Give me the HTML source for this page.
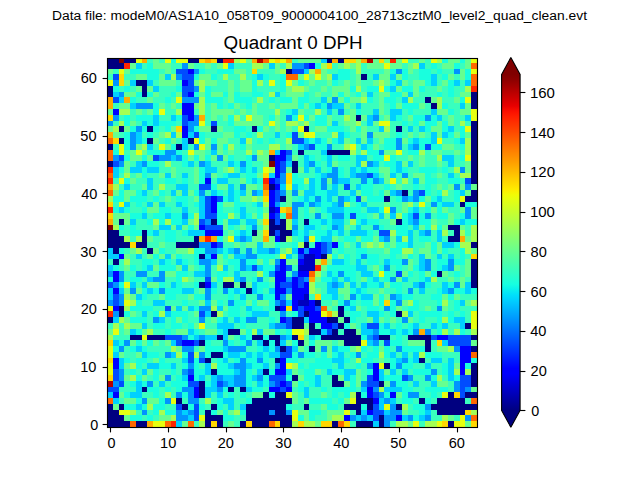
<!DOCTYPE html>
<html><head><meta charset="utf-8"><title>Quadrant 0 DPH</title>
<style>
html,body{margin:0;padding:0;background:#ffffff;width:640px;height:480px;overflow:hidden}
svg{display:block}
text{font-family:"Liberation Sans",sans-serif;fill:#000000}
</style></head><body>
<svg width="640" height="480" viewBox="0 0 640 480">
<rect x="0" y="0" width="640" height="480" fill="#ffffff"/>
<g shape-rendering="crispEdges">
<rect x="107" y="58" width="12" height="5" fill="#000080"/>
<rect x="119" y="58" width="5" height="5" fill="#800000"/>
<rect x="124" y="58" width="12" height="5" fill="#000080"/>
<rect x="136" y="58" width="6" height="5" fill="#e7ff0f"/>
<rect x="142" y="58" width="5" height="5" fill="#ffab00"/>
<rect x="147" y="58" width="6" height="5" fill="#39ffbe"/>
<rect x="153" y="58" width="6" height="5" fill="#66ff90"/>
<rect x="159" y="58" width="6" height="5" fill="#39ffbe"/>
<rect x="165" y="58" width="6" height="5" fill="#e7ff0f"/>
<rect x="171" y="58" width="5" height="5" fill="#19ffde"/>
<rect x="176" y="58" width="12" height="5" fill="#e7ff0f"/>
<rect x="188" y="58" width="11" height="5" fill="#000080"/>
<rect x="199" y="58" width="6" height="5" fill="#ffd700"/>
<rect x="205" y="58" width="6" height="5" fill="#ffab00"/>
<rect x="211" y="58" width="6" height="5" fill="#ffd700"/>
<rect x="217" y="58" width="6" height="5" fill="#000080"/>
<rect x="223" y="58" width="11" height="5" fill="#ff2500"/>
<rect x="234" y="58" width="6" height="5" fill="#a4ff53"/>
<rect x="240" y="58" width="6" height="5" fill="#e7ff0f"/>
<rect x="246" y="58" width="6" height="5" fill="#66ff90"/>
<rect x="252" y="58" width="5" height="5" fill="#ffab00"/>
<rect x="257" y="58" width="6" height="5" fill="#b60000"/>
<rect x="263" y="58" width="6" height="5" fill="#ff6800"/>
<rect x="269" y="58" width="6" height="5" fill="#e7ff0f"/>
<rect x="275" y="58" width="5" height="5" fill="#ffd700"/>
<rect x="280" y="58" width="6" height="5" fill="#e7ff0f"/>
<rect x="286" y="58" width="6" height="5" fill="#ffab00"/>
<rect x="292" y="58" width="6" height="5" fill="#39ffbe"/>
<rect x="298" y="58" width="23" height="5" fill="#66ff90"/>
<rect x="321" y="58" width="6" height="5" fill="#00d0ff"/>
<rect x="327" y="58" width="5" height="5" fill="#000080"/>
<rect x="332" y="58" width="6" height="5" fill="#ffab00"/>
<rect x="338" y="58" width="6" height="5" fill="#000080"/>
<rect x="344" y="58" width="12" height="5" fill="#ffd700"/>
<rect x="356" y="58" width="5" height="5" fill="#a4ff53"/>
<rect x="361" y="58" width="6" height="5" fill="#ffab00"/>
<rect x="367" y="58" width="6" height="5" fill="#b60000"/>
<rect x="373" y="58" width="6" height="5" fill="#66ff90"/>
<rect x="379" y="58" width="5" height="5" fill="#ffd700"/>
<rect x="384" y="58" width="6" height="5" fill="#66ff90"/>
<rect x="390" y="58" width="6" height="5" fill="#ff2500"/>
<rect x="396" y="58" width="6" height="5" fill="#66ff90"/>
<rect x="402" y="58" width="6" height="5" fill="#e7ff0f"/>
<rect x="408" y="58" width="11" height="5" fill="#39ffbe"/>
<rect x="419" y="58" width="6" height="5" fill="#66ff90"/>
<rect x="425" y="58" width="6" height="5" fill="#39ffbe"/>
<rect x="431" y="58" width="6" height="5" fill="#e7ff0f"/>
<rect x="437" y="58" width="5" height="5" fill="#a4ff53"/>
<rect x="442" y="58" width="6" height="5" fill="#19ffde"/>
<rect x="448" y="58" width="12" height="5" fill="#66ff90"/>
<rect x="460" y="58" width="5" height="5" fill="#19ffde"/>
<rect x="465" y="58" width="6" height="5" fill="#66ff90"/>
<rect x="471" y="58" width="6" height="5" fill="#e7ff0f"/>
<rect x="107" y="63" width="17" height="6" fill="#000080"/>
<rect x="124" y="63" width="6" height="6" fill="#ff2500"/>
<rect x="130" y="63" width="6" height="6" fill="#66ff90"/>
<rect x="136" y="63" width="6" height="6" fill="#00d0ff"/>
<rect x="142" y="63" width="5" height="6" fill="#39ffbe"/>
<rect x="147" y="63" width="6" height="6" fill="#19ffde"/>
<rect x="153" y="63" width="18" height="6" fill="#66ff90"/>
<rect x="171" y="63" width="11" height="6" fill="#39ffbe"/>
<rect x="182" y="63" width="6" height="6" fill="#0094ff"/>
<rect x="188" y="63" width="6" height="6" fill="#66ff90"/>
<rect x="194" y="63" width="11" height="6" fill="#39ffbe"/>
<rect x="205" y="63" width="6" height="6" fill="#66ff90"/>
<rect x="211" y="63" width="6" height="6" fill="#39ffbe"/>
<rect x="217" y="63" width="6" height="6" fill="#66ff90"/>
<rect x="223" y="63" width="5" height="6" fill="#e7ff0f"/>
<rect x="228" y="63" width="6" height="6" fill="#00d0ff"/>
<rect x="234" y="63" width="18" height="6" fill="#39ffbe"/>
<rect x="252" y="63" width="11" height="6" fill="#a4ff53"/>
<rect x="263" y="63" width="6" height="6" fill="#66ff90"/>
<rect x="269" y="63" width="6" height="6" fill="#00d0ff"/>
<rect x="275" y="63" width="5" height="6" fill="#66ff90"/>
<rect x="280" y="63" width="6" height="6" fill="#39ffbe"/>
<rect x="286" y="63" width="6" height="6" fill="#a4ff53"/>
<rect x="292" y="63" width="12" height="6" fill="#0094ff"/>
<rect x="304" y="63" width="5" height="6" fill="#004cff"/>
<rect x="309" y="63" width="6" height="6" fill="#0000ff"/>
<rect x="315" y="63" width="6" height="6" fill="#19ffde"/>
<rect x="321" y="63" width="6" height="6" fill="#a4ff53"/>
<rect x="327" y="63" width="5" height="6" fill="#ffd700"/>
<rect x="332" y="63" width="6" height="6" fill="#39ffbe"/>
<rect x="338" y="63" width="6" height="6" fill="#66ff90"/>
<rect x="344" y="63" width="6" height="6" fill="#a4ff53"/>
<rect x="350" y="63" width="6" height="6" fill="#66ff90"/>
<rect x="356" y="63" width="5" height="6" fill="#a4ff53"/>
<rect x="361" y="63" width="6" height="6" fill="#39ffbe"/>
<rect x="367" y="63" width="17" height="6" fill="#66ff90"/>
<rect x="384" y="63" width="6" height="6" fill="#e7ff0f"/>
<rect x="390" y="63" width="12" height="6" fill="#66ff90"/>
<rect x="402" y="63" width="6" height="6" fill="#39ffbe"/>
<rect x="408" y="63" width="5" height="6" fill="#66ff90"/>
<rect x="413" y="63" width="6" height="6" fill="#a4ff53"/>
<rect x="419" y="63" width="6" height="6" fill="#00d0ff"/>
<rect x="425" y="63" width="6" height="6" fill="#39ffbe"/>
<rect x="431" y="63" width="6" height="6" fill="#19ffde"/>
<rect x="437" y="63" width="5" height="6" fill="#39ffbe"/>
<rect x="442" y="63" width="12" height="6" fill="#66ff90"/>
<rect x="454" y="63" width="6" height="6" fill="#19ffde"/>
<rect x="460" y="63" width="5" height="6" fill="#39ffbe"/>
<rect x="465" y="63" width="6" height="6" fill="#66ff90"/>
<rect x="471" y="63" width="6" height="6" fill="#ff6800"/>
<rect x="107" y="69" width="6" height="5" fill="#66ff90"/>
<rect x="113" y="69" width="6" height="5" fill="#39ffbe"/>
<rect x="119" y="69" width="5" height="5" fill="#e7ff0f"/>
<rect x="124" y="69" width="6" height="5" fill="#66ff90"/>
<rect x="130" y="69" width="29" height="5" fill="#19ffde"/>
<rect x="159" y="69" width="6" height="5" fill="#39ffbe"/>
<rect x="165" y="69" width="6" height="5" fill="#66ff90"/>
<rect x="171" y="69" width="5" height="5" fill="#39ffbe"/>
<rect x="176" y="69" width="12" height="5" fill="#004cff"/>
<rect x="188" y="69" width="6" height="5" fill="#0000ff"/>
<rect x="194" y="69" width="5" height="5" fill="#0094ff"/>
<rect x="199" y="69" width="6" height="5" fill="#19ffde"/>
<rect x="205" y="69" width="12" height="5" fill="#39ffbe"/>
<rect x="217" y="69" width="17" height="5" fill="#19ffde"/>
<rect x="234" y="69" width="12" height="5" fill="#66ff90"/>
<rect x="246" y="69" width="6" height="5" fill="#39ffbe"/>
<rect x="252" y="69" width="5" height="5" fill="#ffd700"/>
<rect x="257" y="69" width="18" height="5" fill="#39ffbe"/>
<rect x="275" y="69" width="5" height="5" fill="#66ff90"/>
<rect x="280" y="69" width="6" height="5" fill="#a4ff53"/>
<rect x="286" y="69" width="6" height="5" fill="#000080"/>
<rect x="292" y="69" width="12" height="5" fill="#004cff"/>
<rect x="304" y="69" width="5" height="5" fill="#00d0ff"/>
<rect x="309" y="69" width="6" height="5" fill="#a4ff53"/>
<rect x="315" y="69" width="6" height="5" fill="#ffab00"/>
<rect x="321" y="69" width="6" height="5" fill="#66ff90"/>
<rect x="327" y="69" width="11" height="5" fill="#39ffbe"/>
<rect x="338" y="69" width="12" height="5" fill="#19ffde"/>
<rect x="350" y="69" width="6" height="5" fill="#39ffbe"/>
<rect x="356" y="69" width="5" height="5" fill="#a4ff53"/>
<rect x="361" y="69" width="23" height="5" fill="#39ffbe"/>
<rect x="384" y="69" width="6" height="5" fill="#66ff90"/>
<rect x="390" y="69" width="6" height="5" fill="#19ffde"/>
<rect x="396" y="69" width="6" height="5" fill="#0094ff"/>
<rect x="402" y="69" width="6" height="5" fill="#19ffde"/>
<rect x="408" y="69" width="5" height="5" fill="#66ff90"/>
<rect x="413" y="69" width="6" height="5" fill="#39ffbe"/>
<rect x="419" y="69" width="12" height="5" fill="#19ffde"/>
<rect x="431" y="69" width="6" height="5" fill="#39ffbe"/>
<rect x="437" y="69" width="5" height="5" fill="#19ffde"/>
<rect x="442" y="69" width="12" height="5" fill="#39ffbe"/>
<rect x="454" y="69" width="6" height="5" fill="#0094ff"/>
<rect x="460" y="69" width="5" height="5" fill="#66ff90"/>
<rect x="465" y="69" width="6" height="5" fill="#19ffde"/>
<rect x="471" y="69" width="6" height="5" fill="#e7ff0f"/>
<rect x="107" y="74" width="6" height="6" fill="#39ffbe"/>
<rect x="113" y="74" width="6" height="6" fill="#004cff"/>
<rect x="119" y="74" width="5" height="6" fill="#ffd700"/>
<rect x="124" y="74" width="12" height="6" fill="#39ffbe"/>
<rect x="136" y="74" width="11" height="6" fill="#66ff90"/>
<rect x="147" y="74" width="12" height="6" fill="#19ffde"/>
<rect x="159" y="74" width="6" height="6" fill="#66ff90"/>
<rect x="165" y="74" width="6" height="6" fill="#00d0ff"/>
<rect x="171" y="74" width="5" height="6" fill="#a4ff53"/>
<rect x="176" y="74" width="6" height="6" fill="#0094ff"/>
<rect x="182" y="74" width="12" height="6" fill="#004cff"/>
<rect x="194" y="74" width="5" height="6" fill="#19ffde"/>
<rect x="199" y="74" width="12" height="6" fill="#66ff90"/>
<rect x="211" y="74" width="6" height="6" fill="#19ffde"/>
<rect x="217" y="74" width="6" height="6" fill="#39ffbe"/>
<rect x="223" y="74" width="5" height="6" fill="#a4ff53"/>
<rect x="228" y="74" width="12" height="6" fill="#39ffbe"/>
<rect x="240" y="74" width="6" height="6" fill="#a4ff53"/>
<rect x="246" y="74" width="6" height="6" fill="#39ffbe"/>
<rect x="252" y="74" width="5" height="6" fill="#19ffde"/>
<rect x="257" y="74" width="6" height="6" fill="#00d0ff"/>
<rect x="263" y="74" width="6" height="6" fill="#19ffde"/>
<rect x="269" y="74" width="11" height="6" fill="#39ffbe"/>
<rect x="280" y="74" width="6" height="6" fill="#19ffde"/>
<rect x="286" y="74" width="12" height="6" fill="#ff6800"/>
<rect x="298" y="74" width="6" height="6" fill="#66ff90"/>
<rect x="304" y="74" width="5" height="6" fill="#e7ff0f"/>
<rect x="309" y="74" width="6" height="6" fill="#66ff90"/>
<rect x="315" y="74" width="6" height="6" fill="#e7ff0f"/>
<rect x="321" y="74" width="6" height="6" fill="#66ff90"/>
<rect x="327" y="74" width="5" height="6" fill="#a4ff53"/>
<rect x="332" y="74" width="6" height="6" fill="#00d0ff"/>
<rect x="338" y="74" width="12" height="6" fill="#19ffde"/>
<rect x="350" y="74" width="6" height="6" fill="#39ffbe"/>
<rect x="356" y="74" width="5" height="6" fill="#66ff90"/>
<rect x="361" y="74" width="6" height="6" fill="#000080"/>
<rect x="367" y="74" width="6" height="6" fill="#39ffbe"/>
<rect x="373" y="74" width="6" height="6" fill="#00d0ff"/>
<rect x="379" y="74" width="11" height="6" fill="#66ff90"/>
<rect x="390" y="74" width="6" height="6" fill="#00d0ff"/>
<rect x="396" y="74" width="6" height="6" fill="#66ff90"/>
<rect x="402" y="74" width="6" height="6" fill="#19ffde"/>
<rect x="408" y="74" width="11" height="6" fill="#39ffbe"/>
<rect x="419" y="74" width="12" height="6" fill="#19ffde"/>
<rect x="431" y="74" width="6" height="6" fill="#00d0ff"/>
<rect x="437" y="74" width="5" height="6" fill="#39ffbe"/>
<rect x="442" y="74" width="6" height="6" fill="#19ffde"/>
<rect x="448" y="74" width="6" height="6" fill="#66ff90"/>
<rect x="454" y="74" width="6" height="6" fill="#39ffbe"/>
<rect x="460" y="74" width="5" height="6" fill="#66ff90"/>
<rect x="465" y="74" width="6" height="6" fill="#19ffde"/>
<rect x="471" y="74" width="6" height="6" fill="#ff6800"/>
<rect x="107" y="80" width="6" height="6" fill="#e7ff0f"/>
<rect x="113" y="80" width="6" height="6" fill="#0094ff"/>
<rect x="119" y="80" width="5" height="6" fill="#ffd700"/>
<rect x="124" y="80" width="6" height="6" fill="#66ff90"/>
<rect x="130" y="80" width="6" height="6" fill="#00d0ff"/>
<rect x="136" y="80" width="11" height="6" fill="#000080"/>
<rect x="147" y="80" width="6" height="6" fill="#00d0ff"/>
<rect x="153" y="80" width="6" height="6" fill="#39ffbe"/>
<rect x="159" y="80" width="17" height="6" fill="#66ff90"/>
<rect x="176" y="80" width="6" height="6" fill="#39ffbe"/>
<rect x="182" y="80" width="6" height="6" fill="#0000ff"/>
<rect x="188" y="80" width="6" height="6" fill="#004cff"/>
<rect x="194" y="80" width="5" height="6" fill="#66ff90"/>
<rect x="199" y="80" width="6" height="6" fill="#a4ff53"/>
<rect x="205" y="80" width="12" height="6" fill="#66ff90"/>
<rect x="217" y="80" width="11" height="6" fill="#39ffbe"/>
<rect x="228" y="80" width="6" height="6" fill="#66ff90"/>
<rect x="234" y="80" width="6" height="6" fill="#39ffbe"/>
<rect x="240" y="80" width="12" height="6" fill="#66ff90"/>
<rect x="252" y="80" width="5" height="6" fill="#19ffde"/>
<rect x="257" y="80" width="6" height="6" fill="#a4ff53"/>
<rect x="263" y="80" width="6" height="6" fill="#39ffbe"/>
<rect x="269" y="80" width="6" height="6" fill="#e7ff0f"/>
<rect x="275" y="80" width="5" height="6" fill="#39ffbe"/>
<rect x="280" y="80" width="6" height="6" fill="#19ffde"/>
<rect x="286" y="80" width="6" height="6" fill="#e7ff0f"/>
<rect x="292" y="80" width="6" height="6" fill="#66ff90"/>
<rect x="298" y="80" width="6" height="6" fill="#19ffde"/>
<rect x="304" y="80" width="5" height="6" fill="#39ffbe"/>
<rect x="309" y="80" width="6" height="6" fill="#66ff90"/>
<rect x="315" y="80" width="12" height="6" fill="#39ffbe"/>
<rect x="327" y="80" width="5" height="6" fill="#66ff90"/>
<rect x="332" y="80" width="6" height="6" fill="#19ffde"/>
<rect x="338" y="80" width="6" height="6" fill="#39ffbe"/>
<rect x="344" y="80" width="6" height="6" fill="#66ff90"/>
<rect x="350" y="80" width="6" height="6" fill="#39ffbe"/>
<rect x="356" y="80" width="5" height="6" fill="#66ff90"/>
<rect x="361" y="80" width="12" height="6" fill="#39ffbe"/>
<rect x="373" y="80" width="6" height="6" fill="#66ff90"/>
<rect x="379" y="80" width="5" height="6" fill="#a4ff53"/>
<rect x="384" y="80" width="6" height="6" fill="#66ff90"/>
<rect x="390" y="80" width="6" height="6" fill="#19ffde"/>
<rect x="396" y="80" width="6" height="6" fill="#00d0ff"/>
<rect x="402" y="80" width="6" height="6" fill="#66ff90"/>
<rect x="408" y="80" width="5" height="6" fill="#39ffbe"/>
<rect x="413" y="80" width="12" height="6" fill="#66ff90"/>
<rect x="425" y="80" width="6" height="6" fill="#19ffde"/>
<rect x="431" y="80" width="6" height="6" fill="#00d0ff"/>
<rect x="437" y="80" width="5" height="6" fill="#39ffbe"/>
<rect x="442" y="80" width="6" height="6" fill="#66ff90"/>
<rect x="448" y="80" width="6" height="6" fill="#19ffde"/>
<rect x="454" y="80" width="6" height="6" fill="#00d0ff"/>
<rect x="460" y="80" width="5" height="6" fill="#39ffbe"/>
<rect x="465" y="80" width="6" height="6" fill="#00d0ff"/>
<rect x="471" y="80" width="6" height="6" fill="#ff6800"/>
<rect x="107" y="86" width="6" height="6" fill="#000080"/>
<rect x="113" y="86" width="6" height="6" fill="#19ffde"/>
<rect x="119" y="86" width="5" height="6" fill="#39ffbe"/>
<rect x="124" y="86" width="6" height="6" fill="#19ffde"/>
<rect x="130" y="86" width="6" height="6" fill="#39ffbe"/>
<rect x="136" y="86" width="6" height="6" fill="#66ff90"/>
<rect x="142" y="86" width="5" height="6" fill="#000080"/>
<rect x="147" y="86" width="6" height="6" fill="#66ff90"/>
<rect x="153" y="86" width="6" height="6" fill="#00d0ff"/>
<rect x="159" y="86" width="17" height="6" fill="#39ffbe"/>
<rect x="176" y="86" width="6" height="6" fill="#19ffde"/>
<rect x="182" y="86" width="12" height="6" fill="#004cff"/>
<rect x="194" y="86" width="5" height="6" fill="#0094ff"/>
<rect x="199" y="86" width="6" height="6" fill="#a4ff53"/>
<rect x="205" y="86" width="6" height="6" fill="#19ffde"/>
<rect x="211" y="86" width="17" height="6" fill="#39ffbe"/>
<rect x="228" y="86" width="6" height="6" fill="#66ff90"/>
<rect x="234" y="86" width="6" height="6" fill="#39ffbe"/>
<rect x="240" y="86" width="12" height="6" fill="#66ff90"/>
<rect x="252" y="86" width="5" height="6" fill="#19ffde"/>
<rect x="257" y="86" width="23" height="6" fill="#39ffbe"/>
<rect x="280" y="86" width="6" height="6" fill="#19ffde"/>
<rect x="286" y="86" width="6" height="6" fill="#66ff90"/>
<rect x="292" y="86" width="12" height="6" fill="#a4ff53"/>
<rect x="304" y="86" width="5" height="6" fill="#66ff90"/>
<rect x="309" y="86" width="12" height="6" fill="#39ffbe"/>
<rect x="321" y="86" width="6" height="6" fill="#66ff90"/>
<rect x="327" y="86" width="5" height="6" fill="#39ffbe"/>
<rect x="332" y="86" width="18" height="6" fill="#66ff90"/>
<rect x="350" y="86" width="6" height="6" fill="#19ffde"/>
<rect x="356" y="86" width="5" height="6" fill="#a4ff53"/>
<rect x="361" y="86" width="6" height="6" fill="#39ffbe"/>
<rect x="367" y="86" width="12" height="6" fill="#19ffde"/>
<rect x="379" y="86" width="5" height="6" fill="#e7ff0f"/>
<rect x="384" y="86" width="6" height="6" fill="#19ffde"/>
<rect x="390" y="86" width="6" height="6" fill="#00d0ff"/>
<rect x="396" y="86" width="6" height="6" fill="#66ff90"/>
<rect x="402" y="86" width="11" height="6" fill="#19ffde"/>
<rect x="413" y="86" width="6" height="6" fill="#66ff90"/>
<rect x="419" y="86" width="6" height="6" fill="#19ffde"/>
<rect x="425" y="86" width="12" height="6" fill="#39ffbe"/>
<rect x="437" y="86" width="5" height="6" fill="#66ff90"/>
<rect x="442" y="86" width="6" height="6" fill="#39ffbe"/>
<rect x="448" y="86" width="6" height="6" fill="#19ffde"/>
<rect x="454" y="86" width="11" height="6" fill="#39ffbe"/>
<rect x="465" y="86" width="6" height="6" fill="#a4ff53"/>
<rect x="471" y="86" width="6" height="6" fill="#ff2500"/>
<rect x="107" y="92" width="6" height="5" fill="#000080"/>
<rect x="113" y="92" width="6" height="5" fill="#00d0ff"/>
<rect x="119" y="92" width="5" height="5" fill="#0094ff"/>
<rect x="124" y="92" width="12" height="5" fill="#66ff90"/>
<rect x="136" y="92" width="6" height="5" fill="#19ffde"/>
<rect x="142" y="92" width="5" height="5" fill="#000080"/>
<rect x="147" y="92" width="6" height="5" fill="#19ffde"/>
<rect x="153" y="92" width="6" height="5" fill="#66ff90"/>
<rect x="159" y="92" width="12" height="5" fill="#39ffbe"/>
<rect x="171" y="92" width="5" height="5" fill="#19ffde"/>
<rect x="176" y="92" width="6" height="5" fill="#66ff90"/>
<rect x="182" y="92" width="6" height="5" fill="#004cff"/>
<rect x="188" y="92" width="6" height="5" fill="#0000ff"/>
<rect x="194" y="92" width="5" height="5" fill="#19ffde"/>
<rect x="199" y="92" width="6" height="5" fill="#66ff90"/>
<rect x="205" y="92" width="6" height="5" fill="#19ffde"/>
<rect x="211" y="92" width="12" height="5" fill="#66ff90"/>
<rect x="223" y="92" width="5" height="5" fill="#19ffde"/>
<rect x="228" y="92" width="6" height="5" fill="#66ff90"/>
<rect x="234" y="92" width="6" height="5" fill="#19ffde"/>
<rect x="240" y="92" width="12" height="5" fill="#39ffbe"/>
<rect x="252" y="92" width="11" height="5" fill="#19ffde"/>
<rect x="263" y="92" width="6" height="5" fill="#39ffbe"/>
<rect x="269" y="92" width="6" height="5" fill="#a4ff53"/>
<rect x="275" y="92" width="5" height="5" fill="#00d0ff"/>
<rect x="280" y="92" width="6" height="5" fill="#39ffbe"/>
<rect x="286" y="92" width="18" height="5" fill="#66ff90"/>
<rect x="304" y="92" width="5" height="5" fill="#19ffde"/>
<rect x="309" y="92" width="6" height="5" fill="#39ffbe"/>
<rect x="315" y="92" width="6" height="5" fill="#66ff90"/>
<rect x="321" y="92" width="11" height="5" fill="#39ffbe"/>
<rect x="332" y="92" width="6" height="5" fill="#66ff90"/>
<rect x="338" y="92" width="6" height="5" fill="#19ffde"/>
<rect x="344" y="92" width="6" height="5" fill="#66ff90"/>
<rect x="350" y="92" width="6" height="5" fill="#39ffbe"/>
<rect x="356" y="92" width="5" height="5" fill="#19ffde"/>
<rect x="361" y="92" width="6" height="5" fill="#66ff90"/>
<rect x="367" y="92" width="6" height="5" fill="#00d0ff"/>
<rect x="373" y="92" width="6" height="5" fill="#39ffbe"/>
<rect x="379" y="92" width="11" height="5" fill="#66ff90"/>
<rect x="390" y="92" width="12" height="5" fill="#19ffde"/>
<rect x="402" y="92" width="6" height="5" fill="#66ff90"/>
<rect x="408" y="92" width="5" height="5" fill="#00d0ff"/>
<rect x="413" y="92" width="6" height="5" fill="#66ff90"/>
<rect x="419" y="92" width="18" height="5" fill="#39ffbe"/>
<rect x="437" y="92" width="5" height="5" fill="#19ffde"/>
<rect x="442" y="92" width="6" height="5" fill="#39ffbe"/>
<rect x="448" y="92" width="6" height="5" fill="#19ffde"/>
<rect x="454" y="92" width="6" height="5" fill="#39ffbe"/>
<rect x="460" y="92" width="11" height="5" fill="#66ff90"/>
<rect x="471" y="92" width="6" height="5" fill="#000080"/>
<rect x="107" y="97" width="6" height="6" fill="#ffab00"/>
<rect x="113" y="97" width="6" height="6" fill="#004cff"/>
<rect x="119" y="97" width="5" height="6" fill="#00d0ff"/>
<rect x="124" y="97" width="6" height="6" fill="#ffab00"/>
<rect x="130" y="97" width="6" height="6" fill="#19ffde"/>
<rect x="136" y="97" width="11" height="6" fill="#39ffbe"/>
<rect x="147" y="97" width="6" height="6" fill="#66ff90"/>
<rect x="153" y="97" width="12" height="6" fill="#39ffbe"/>
<rect x="165" y="97" width="6" height="6" fill="#19ffde"/>
<rect x="171" y="97" width="5" height="6" fill="#39ffbe"/>
<rect x="176" y="97" width="6" height="6" fill="#e7ff0f"/>
<rect x="182" y="97" width="17" height="6" fill="#0094ff"/>
<rect x="199" y="97" width="6" height="6" fill="#a4ff53"/>
<rect x="205" y="97" width="18" height="6" fill="#19ffde"/>
<rect x="223" y="97" width="5" height="6" fill="#39ffbe"/>
<rect x="228" y="97" width="6" height="6" fill="#66ff90"/>
<rect x="234" y="97" width="18" height="6" fill="#19ffde"/>
<rect x="252" y="97" width="5" height="6" fill="#39ffbe"/>
<rect x="257" y="97" width="6" height="6" fill="#a4ff53"/>
<rect x="263" y="97" width="6" height="6" fill="#39ffbe"/>
<rect x="269" y="97" width="6" height="6" fill="#19ffde"/>
<rect x="275" y="97" width="5" height="6" fill="#39ffbe"/>
<rect x="280" y="97" width="12" height="6" fill="#19ffde"/>
<rect x="292" y="97" width="6" height="6" fill="#66ff90"/>
<rect x="298" y="97" width="11" height="6" fill="#19ffde"/>
<rect x="309" y="97" width="12" height="6" fill="#39ffbe"/>
<rect x="321" y="97" width="6" height="6" fill="#00d0ff"/>
<rect x="327" y="97" width="5" height="6" fill="#66ff90"/>
<rect x="332" y="97" width="6" height="6" fill="#0094ff"/>
<rect x="338" y="97" width="6" height="6" fill="#66ff90"/>
<rect x="344" y="97" width="6" height="6" fill="#19ffde"/>
<rect x="350" y="97" width="11" height="6" fill="#66ff90"/>
<rect x="361" y="97" width="6" height="6" fill="#a4ff53"/>
<rect x="367" y="97" width="6" height="6" fill="#19ffde"/>
<rect x="373" y="97" width="6" height="6" fill="#39ffbe"/>
<rect x="379" y="97" width="5" height="6" fill="#66ff90"/>
<rect x="384" y="97" width="12" height="6" fill="#19ffde"/>
<rect x="396" y="97" width="6" height="6" fill="#39ffbe"/>
<rect x="402" y="97" width="6" height="6" fill="#00d0ff"/>
<rect x="408" y="97" width="5" height="6" fill="#a4ff53"/>
<rect x="413" y="97" width="12" height="6" fill="#39ffbe"/>
<rect x="425" y="97" width="6" height="6" fill="#000080"/>
<rect x="431" y="97" width="6" height="6" fill="#66ff90"/>
<rect x="437" y="97" width="5" height="6" fill="#a4ff53"/>
<rect x="442" y="97" width="12" height="6" fill="#39ffbe"/>
<rect x="454" y="97" width="6" height="6" fill="#66ff90"/>
<rect x="460" y="97" width="5" height="6" fill="#19ffde"/>
<rect x="465" y="97" width="6" height="6" fill="#e7ff0f"/>
<rect x="471" y="97" width="6" height="6" fill="#000080"/>
<rect x="107" y="103" width="6" height="6" fill="#ffab00"/>
<rect x="113" y="103" width="6" height="6" fill="#39ffbe"/>
<rect x="119" y="103" width="11" height="6" fill="#66ff90"/>
<rect x="130" y="103" width="6" height="6" fill="#00d0ff"/>
<rect x="136" y="103" width="17" height="6" fill="#0094ff"/>
<rect x="153" y="103" width="6" height="6" fill="#19ffde"/>
<rect x="159" y="103" width="6" height="6" fill="#66ff90"/>
<rect x="165" y="103" width="6" height="6" fill="#39ffbe"/>
<rect x="171" y="103" width="5" height="6" fill="#66ff90"/>
<rect x="176" y="103" width="6" height="6" fill="#39ffbe"/>
<rect x="182" y="103" width="12" height="6" fill="#0000ff"/>
<rect x="194" y="103" width="5" height="6" fill="#66ff90"/>
<rect x="199" y="103" width="6" height="6" fill="#a4ff53"/>
<rect x="205" y="103" width="6" height="6" fill="#39ffbe"/>
<rect x="211" y="103" width="6" height="6" fill="#66ff90"/>
<rect x="217" y="103" width="6" height="6" fill="#19ffde"/>
<rect x="223" y="103" width="5" height="6" fill="#39ffbe"/>
<rect x="228" y="103" width="6" height="6" fill="#19ffde"/>
<rect x="234" y="103" width="6" height="6" fill="#66ff90"/>
<rect x="240" y="103" width="6" height="6" fill="#39ffbe"/>
<rect x="246" y="103" width="6" height="6" fill="#19ffde"/>
<rect x="252" y="103" width="5" height="6" fill="#66ff90"/>
<rect x="257" y="103" width="12" height="6" fill="#39ffbe"/>
<rect x="269" y="103" width="6" height="6" fill="#66ff90"/>
<rect x="275" y="103" width="5" height="6" fill="#39ffbe"/>
<rect x="280" y="103" width="18" height="6" fill="#66ff90"/>
<rect x="298" y="103" width="6" height="6" fill="#19ffde"/>
<rect x="304" y="103" width="5" height="6" fill="#66ff90"/>
<rect x="309" y="103" width="6" height="6" fill="#19ffde"/>
<rect x="315" y="103" width="6" height="6" fill="#00d0ff"/>
<rect x="321" y="103" width="6" height="6" fill="#19ffde"/>
<rect x="327" y="103" width="5" height="6" fill="#0094ff"/>
<rect x="332" y="103" width="12" height="6" fill="#00d0ff"/>
<rect x="344" y="103" width="6" height="6" fill="#66ff90"/>
<rect x="350" y="103" width="6" height="6" fill="#39ffbe"/>
<rect x="356" y="103" width="5" height="6" fill="#00d0ff"/>
<rect x="361" y="103" width="18" height="6" fill="#39ffbe"/>
<rect x="379" y="103" width="5" height="6" fill="#66ff90"/>
<rect x="384" y="103" width="6" height="6" fill="#39ffbe"/>
<rect x="390" y="103" width="6" height="6" fill="#19ffde"/>
<rect x="396" y="103" width="6" height="6" fill="#66ff90"/>
<rect x="402" y="103" width="17" height="6" fill="#19ffde"/>
<rect x="419" y="103" width="6" height="6" fill="#66ff90"/>
<rect x="425" y="103" width="6" height="6" fill="#39ffbe"/>
<rect x="431" y="103" width="6" height="6" fill="#000080"/>
<rect x="437" y="103" width="5" height="6" fill="#a4ff53"/>
<rect x="442" y="103" width="6" height="6" fill="#19ffde"/>
<rect x="448" y="103" width="12" height="6" fill="#39ffbe"/>
<rect x="460" y="103" width="5" height="6" fill="#00d0ff"/>
<rect x="465" y="103" width="6" height="6" fill="#66ff90"/>
<rect x="471" y="103" width="6" height="6" fill="#000080"/>
<rect x="107" y="109" width="6" height="6" fill="#66ff90"/>
<rect x="113" y="109" width="6" height="6" fill="#0000ff"/>
<rect x="119" y="109" width="11" height="6" fill="#a4ff53"/>
<rect x="130" y="109" width="6" height="6" fill="#39ffbe"/>
<rect x="136" y="109" width="6" height="6" fill="#66ff90"/>
<rect x="142" y="109" width="5" height="6" fill="#39ffbe"/>
<rect x="147" y="109" width="6" height="6" fill="#66ff90"/>
<rect x="153" y="109" width="6" height="6" fill="#19ffde"/>
<rect x="159" y="109" width="6" height="6" fill="#e7ff0f"/>
<rect x="165" y="109" width="11" height="6" fill="#39ffbe"/>
<rect x="176" y="109" width="6" height="6" fill="#a4ff53"/>
<rect x="182" y="109" width="12" height="6" fill="#0000ff"/>
<rect x="194" y="109" width="5" height="6" fill="#39ffbe"/>
<rect x="199" y="109" width="6" height="6" fill="#a4ff53"/>
<rect x="205" y="109" width="6" height="6" fill="#39ffbe"/>
<rect x="211" y="109" width="23" height="6" fill="#66ff90"/>
<rect x="234" y="109" width="6" height="6" fill="#39ffbe"/>
<rect x="240" y="109" width="6" height="6" fill="#66ff90"/>
<rect x="246" y="109" width="6" height="6" fill="#39ffbe"/>
<rect x="252" y="109" width="5" height="6" fill="#66ff90"/>
<rect x="257" y="109" width="18" height="6" fill="#39ffbe"/>
<rect x="275" y="109" width="5" height="6" fill="#a4ff53"/>
<rect x="280" y="109" width="6" height="6" fill="#39ffbe"/>
<rect x="286" y="109" width="6" height="6" fill="#19ffde"/>
<rect x="292" y="109" width="6" height="6" fill="#00d0ff"/>
<rect x="298" y="109" width="6" height="6" fill="#66ff90"/>
<rect x="304" y="109" width="11" height="6" fill="#39ffbe"/>
<rect x="315" y="109" width="6" height="6" fill="#a4ff53"/>
<rect x="321" y="109" width="6" height="6" fill="#39ffbe"/>
<rect x="327" y="109" width="5" height="6" fill="#00d0ff"/>
<rect x="332" y="109" width="6" height="6" fill="#39ffbe"/>
<rect x="338" y="109" width="6" height="6" fill="#0094ff"/>
<rect x="344" y="109" width="6" height="6" fill="#39ffbe"/>
<rect x="350" y="109" width="6" height="6" fill="#66ff90"/>
<rect x="356" y="109" width="5" height="6" fill="#19ffde"/>
<rect x="361" y="109" width="12" height="6" fill="#39ffbe"/>
<rect x="373" y="109" width="6" height="6" fill="#00d0ff"/>
<rect x="379" y="109" width="5" height="6" fill="#66ff90"/>
<rect x="384" y="109" width="6" height="6" fill="#39ffbe"/>
<rect x="390" y="109" width="12" height="6" fill="#00d0ff"/>
<rect x="402" y="109" width="6" height="6" fill="#39ffbe"/>
<rect x="408" y="109" width="5" height="6" fill="#19ffde"/>
<rect x="413" y="109" width="18" height="6" fill="#39ffbe"/>
<rect x="431" y="109" width="6" height="6" fill="#00d0ff"/>
<rect x="437" y="109" width="11" height="6" fill="#66ff90"/>
<rect x="448" y="109" width="6" height="6" fill="#19ffde"/>
<rect x="454" y="109" width="6" height="6" fill="#39ffbe"/>
<rect x="460" y="109" width="11" height="6" fill="#66ff90"/>
<rect x="471" y="109" width="6" height="6" fill="#e7ff0f"/>
<rect x="107" y="115" width="6" height="6" fill="#ffd700"/>
<rect x="113" y="115" width="6" height="6" fill="#0094ff"/>
<rect x="119" y="115" width="5" height="6" fill="#39ffbe"/>
<rect x="124" y="115" width="6" height="6" fill="#19ffde"/>
<rect x="130" y="115" width="6" height="6" fill="#39ffbe"/>
<rect x="136" y="115" width="17" height="6" fill="#19ffde"/>
<rect x="153" y="115" width="6" height="6" fill="#00d0ff"/>
<rect x="159" y="115" width="12" height="6" fill="#39ffbe"/>
<rect x="171" y="115" width="5" height="6" fill="#00d0ff"/>
<rect x="176" y="115" width="6" height="6" fill="#19ffde"/>
<rect x="182" y="115" width="6" height="6" fill="#004cff"/>
<rect x="188" y="115" width="6" height="6" fill="#0000ff"/>
<rect x="194" y="115" width="5" height="6" fill="#0094ff"/>
<rect x="199" y="115" width="6" height="6" fill="#ffab00"/>
<rect x="205" y="115" width="6" height="6" fill="#39ffbe"/>
<rect x="211" y="115" width="6" height="6" fill="#66ff90"/>
<rect x="217" y="115" width="6" height="6" fill="#39ffbe"/>
<rect x="223" y="115" width="5" height="6" fill="#66ff90"/>
<rect x="228" y="115" width="6" height="6" fill="#19ffde"/>
<rect x="234" y="115" width="6" height="6" fill="#a4ff53"/>
<rect x="240" y="115" width="6" height="6" fill="#39ffbe"/>
<rect x="246" y="115" width="6" height="6" fill="#e7ff0f"/>
<rect x="252" y="115" width="11" height="6" fill="#66ff90"/>
<rect x="263" y="115" width="6" height="6" fill="#39ffbe"/>
<rect x="269" y="115" width="6" height="6" fill="#19ffde"/>
<rect x="275" y="115" width="5" height="6" fill="#66ff90"/>
<rect x="280" y="115" width="6" height="6" fill="#39ffbe"/>
<rect x="286" y="115" width="6" height="6" fill="#0094ff"/>
<rect x="292" y="115" width="6" height="6" fill="#19ffde"/>
<rect x="298" y="115" width="6" height="6" fill="#e7ff0f"/>
<rect x="304" y="115" width="5" height="6" fill="#19ffde"/>
<rect x="309" y="115" width="6" height="6" fill="#66ff90"/>
<rect x="315" y="115" width="12" height="6" fill="#19ffde"/>
<rect x="327" y="115" width="5" height="6" fill="#66ff90"/>
<rect x="332" y="115" width="12" height="6" fill="#39ffbe"/>
<rect x="344" y="115" width="6" height="6" fill="#a4ff53"/>
<rect x="350" y="115" width="6" height="6" fill="#66ff90"/>
<rect x="356" y="115" width="5" height="6" fill="#000080"/>
<rect x="361" y="115" width="6" height="6" fill="#66ff90"/>
<rect x="367" y="115" width="6" height="6" fill="#00d0ff"/>
<rect x="373" y="115" width="6" height="6" fill="#0094ff"/>
<rect x="379" y="115" width="5" height="6" fill="#39ffbe"/>
<rect x="384" y="115" width="6" height="6" fill="#66ff90"/>
<rect x="390" y="115" width="6" height="6" fill="#00d0ff"/>
<rect x="396" y="115" width="6" height="6" fill="#19ffde"/>
<rect x="402" y="115" width="6" height="6" fill="#39ffbe"/>
<rect x="408" y="115" width="5" height="6" fill="#66ff90"/>
<rect x="413" y="115" width="12" height="6" fill="#19ffde"/>
<rect x="425" y="115" width="6" height="6" fill="#0094ff"/>
<rect x="431" y="115" width="6" height="6" fill="#19ffde"/>
<rect x="437" y="115" width="5" height="6" fill="#00d0ff"/>
<rect x="442" y="115" width="6" height="6" fill="#39ffbe"/>
<rect x="448" y="115" width="6" height="6" fill="#66ff90"/>
<rect x="454" y="115" width="11" height="6" fill="#39ffbe"/>
<rect x="465" y="115" width="6" height="6" fill="#00d0ff"/>
<rect x="471" y="115" width="6" height="6" fill="#e7ff0f"/>
<rect x="107" y="121" width="6" height="5" fill="#0094ff"/>
<rect x="113" y="121" width="6" height="5" fill="#39ffbe"/>
<rect x="119" y="121" width="5" height="5" fill="#a4ff53"/>
<rect x="124" y="121" width="6" height="5" fill="#19ffde"/>
<rect x="130" y="121" width="6" height="5" fill="#66ff90"/>
<rect x="136" y="121" width="6" height="5" fill="#39ffbe"/>
<rect x="142" y="121" width="5" height="5" fill="#00d0ff"/>
<rect x="147" y="121" width="6" height="5" fill="#19ffde"/>
<rect x="153" y="121" width="6" height="5" fill="#00d0ff"/>
<rect x="159" y="121" width="17" height="5" fill="#19ffde"/>
<rect x="176" y="121" width="6" height="5" fill="#39ffbe"/>
<rect x="182" y="121" width="6" height="5" fill="#004cff"/>
<rect x="188" y="121" width="11" height="5" fill="#0094ff"/>
<rect x="199" y="121" width="6" height="5" fill="#e7ff0f"/>
<rect x="205" y="121" width="6" height="5" fill="#39ffbe"/>
<rect x="211" y="121" width="6" height="5" fill="#004cff"/>
<rect x="217" y="121" width="11" height="5" fill="#39ffbe"/>
<rect x="228" y="121" width="6" height="5" fill="#19ffde"/>
<rect x="234" y="121" width="29" height="5" fill="#66ff90"/>
<rect x="263" y="121" width="6" height="5" fill="#39ffbe"/>
<rect x="269" y="121" width="6" height="5" fill="#e7ff0f"/>
<rect x="275" y="121" width="5" height="5" fill="#66ff90"/>
<rect x="280" y="121" width="6" height="5" fill="#39ffbe"/>
<rect x="286" y="121" width="12" height="5" fill="#a4ff53"/>
<rect x="298" y="121" width="6" height="5" fill="#66ff90"/>
<rect x="304" y="121" width="5" height="5" fill="#a4ff53"/>
<rect x="309" y="121" width="6" height="5" fill="#39ffbe"/>
<rect x="315" y="121" width="12" height="5" fill="#19ffde"/>
<rect x="327" y="121" width="5" height="5" fill="#66ff90"/>
<rect x="332" y="121" width="6" height="5" fill="#00d0ff"/>
<rect x="338" y="121" width="6" height="5" fill="#39ffbe"/>
<rect x="344" y="121" width="12" height="5" fill="#66ff90"/>
<rect x="356" y="121" width="5" height="5" fill="#a4ff53"/>
<rect x="361" y="121" width="6" height="5" fill="#39ffbe"/>
<rect x="367" y="121" width="6" height="5" fill="#00d0ff"/>
<rect x="373" y="121" width="6" height="5" fill="#66ff90"/>
<rect x="379" y="121" width="11" height="5" fill="#e7ff0f"/>
<rect x="390" y="121" width="12" height="5" fill="#39ffbe"/>
<rect x="402" y="121" width="6" height="5" fill="#19ffde"/>
<rect x="408" y="121" width="5" height="5" fill="#39ffbe"/>
<rect x="413" y="121" width="6" height="5" fill="#19ffde"/>
<rect x="419" y="121" width="6" height="5" fill="#66ff90"/>
<rect x="425" y="121" width="12" height="5" fill="#19ffde"/>
<rect x="437" y="121" width="5" height="5" fill="#66ff90"/>
<rect x="442" y="121" width="6" height="5" fill="#19ffde"/>
<rect x="448" y="121" width="6" height="5" fill="#66ff90"/>
<rect x="454" y="121" width="6" height="5" fill="#39ffbe"/>
<rect x="460" y="121" width="5" height="5" fill="#a4ff53"/>
<rect x="465" y="121" width="6" height="5" fill="#39ffbe"/>
<rect x="471" y="121" width="6" height="5" fill="#000080"/>
<rect x="107" y="126" width="6" height="6" fill="#66ff90"/>
<rect x="113" y="126" width="6" height="6" fill="#a4ff53"/>
<rect x="119" y="126" width="5" height="6" fill="#000080"/>
<rect x="124" y="126" width="6" height="6" fill="#66ff90"/>
<rect x="130" y="126" width="6" height="6" fill="#19ffde"/>
<rect x="136" y="126" width="6" height="6" fill="#0094ff"/>
<rect x="142" y="126" width="5" height="6" fill="#19ffde"/>
<rect x="147" y="126" width="6" height="6" fill="#000080"/>
<rect x="153" y="126" width="6" height="6" fill="#19ffde"/>
<rect x="159" y="126" width="6" height="6" fill="#39ffbe"/>
<rect x="165" y="126" width="6" height="6" fill="#19ffde"/>
<rect x="171" y="126" width="5" height="6" fill="#66ff90"/>
<rect x="176" y="126" width="6" height="6" fill="#ffd700"/>
<rect x="182" y="126" width="6" height="6" fill="#0000ff"/>
<rect x="188" y="126" width="6" height="6" fill="#0094ff"/>
<rect x="194" y="126" width="5" height="6" fill="#19ffde"/>
<rect x="199" y="126" width="12" height="6" fill="#66ff90"/>
<rect x="211" y="126" width="6" height="6" fill="#000080"/>
<rect x="217" y="126" width="6" height="6" fill="#66ff90"/>
<rect x="223" y="126" width="11" height="6" fill="#39ffbe"/>
<rect x="234" y="126" width="12" height="6" fill="#19ffde"/>
<rect x="246" y="126" width="6" height="6" fill="#39ffbe"/>
<rect x="252" y="126" width="5" height="6" fill="#000080"/>
<rect x="257" y="126" width="6" height="6" fill="#19ffde"/>
<rect x="263" y="126" width="6" height="6" fill="#66ff90"/>
<rect x="269" y="126" width="6" height="6" fill="#39ffbe"/>
<rect x="275" y="126" width="5" height="6" fill="#66ff90"/>
<rect x="280" y="126" width="6" height="6" fill="#39ffbe"/>
<rect x="286" y="126" width="6" height="6" fill="#66ff90"/>
<rect x="292" y="126" width="6" height="6" fill="#39ffbe"/>
<rect x="298" y="126" width="6" height="6" fill="#e7ff0f"/>
<rect x="304" y="126" width="5" height="6" fill="#000080"/>
<rect x="309" y="126" width="6" height="6" fill="#39ffbe"/>
<rect x="315" y="126" width="12" height="6" fill="#66ff90"/>
<rect x="327" y="126" width="17" height="6" fill="#19ffde"/>
<rect x="344" y="126" width="6" height="6" fill="#39ffbe"/>
<rect x="350" y="126" width="6" height="6" fill="#66ff90"/>
<rect x="356" y="126" width="5" height="6" fill="#19ffde"/>
<rect x="361" y="126" width="6" height="6" fill="#66ff90"/>
<rect x="367" y="126" width="12" height="6" fill="#39ffbe"/>
<rect x="379" y="126" width="5" height="6" fill="#00d0ff"/>
<rect x="384" y="126" width="6" height="6" fill="#a4ff53"/>
<rect x="390" y="126" width="6" height="6" fill="#39ffbe"/>
<rect x="396" y="126" width="6" height="6" fill="#000080"/>
<rect x="402" y="126" width="6" height="6" fill="#39ffbe"/>
<rect x="408" y="126" width="5" height="6" fill="#00d0ff"/>
<rect x="413" y="126" width="6" height="6" fill="#39ffbe"/>
<rect x="419" y="126" width="6" height="6" fill="#00d0ff"/>
<rect x="425" y="126" width="6" height="6" fill="#19ffde"/>
<rect x="431" y="126" width="11" height="6" fill="#66ff90"/>
<rect x="442" y="126" width="6" height="6" fill="#19ffde"/>
<rect x="448" y="126" width="6" height="6" fill="#00d0ff"/>
<rect x="454" y="126" width="6" height="6" fill="#39ffbe"/>
<rect x="460" y="126" width="5" height="6" fill="#19ffde"/>
<rect x="465" y="126" width="6" height="6" fill="#e7ff0f"/>
<rect x="471" y="126" width="6" height="6" fill="#000080"/>
<rect x="107" y="132" width="6" height="6" fill="#ffab00"/>
<rect x="113" y="132" width="6" height="6" fill="#66ff90"/>
<rect x="119" y="132" width="5" height="6" fill="#39ffbe"/>
<rect x="124" y="132" width="6" height="6" fill="#19ffde"/>
<rect x="130" y="132" width="6" height="6" fill="#0094ff"/>
<rect x="136" y="132" width="6" height="6" fill="#00d0ff"/>
<rect x="142" y="132" width="5" height="6" fill="#39ffbe"/>
<rect x="147" y="132" width="6" height="6" fill="#19ffde"/>
<rect x="153" y="132" width="6" height="6" fill="#39ffbe"/>
<rect x="159" y="132" width="6" height="6" fill="#66ff90"/>
<rect x="165" y="132" width="6" height="6" fill="#a4ff53"/>
<rect x="171" y="132" width="5" height="6" fill="#00d0ff"/>
<rect x="176" y="132" width="6" height="6" fill="#a4ff53"/>
<rect x="182" y="132" width="6" height="6" fill="#0000ff"/>
<rect x="188" y="132" width="6" height="6" fill="#00d0ff"/>
<rect x="194" y="132" width="5" height="6" fill="#004cff"/>
<rect x="199" y="132" width="6" height="6" fill="#19ffde"/>
<rect x="205" y="132" width="18" height="6" fill="#39ffbe"/>
<rect x="223" y="132" width="11" height="6" fill="#66ff90"/>
<rect x="234" y="132" width="6" height="6" fill="#19ffde"/>
<rect x="240" y="132" width="6" height="6" fill="#39ffbe"/>
<rect x="246" y="132" width="6" height="6" fill="#19ffde"/>
<rect x="252" y="132" width="5" height="6" fill="#39ffbe"/>
<rect x="257" y="132" width="6" height="6" fill="#a4ff53"/>
<rect x="263" y="132" width="12" height="6" fill="#39ffbe"/>
<rect x="275" y="132" width="5" height="6" fill="#00d0ff"/>
<rect x="280" y="132" width="6" height="6" fill="#39ffbe"/>
<rect x="286" y="132" width="6" height="6" fill="#19ffde"/>
<rect x="292" y="132" width="6" height="6" fill="#004cff"/>
<rect x="298" y="132" width="6" height="6" fill="#66ff90"/>
<rect x="304" y="132" width="11" height="6" fill="#e7ff0f"/>
<rect x="315" y="132" width="17" height="6" fill="#39ffbe"/>
<rect x="332" y="132" width="6" height="6" fill="#a4ff53"/>
<rect x="338" y="132" width="6" height="6" fill="#00d0ff"/>
<rect x="344" y="132" width="6" height="6" fill="#19ffde"/>
<rect x="350" y="132" width="11" height="6" fill="#39ffbe"/>
<rect x="361" y="132" width="6" height="6" fill="#66ff90"/>
<rect x="367" y="132" width="6" height="6" fill="#0094ff"/>
<rect x="373" y="132" width="17" height="6" fill="#66ff90"/>
<rect x="390" y="132" width="6" height="6" fill="#39ffbe"/>
<rect x="396" y="132" width="6" height="6" fill="#19ffde"/>
<rect x="402" y="132" width="6" height="6" fill="#39ffbe"/>
<rect x="408" y="132" width="5" height="6" fill="#66ff90"/>
<rect x="413" y="132" width="6" height="6" fill="#39ffbe"/>
<rect x="419" y="132" width="6" height="6" fill="#66ff90"/>
<rect x="425" y="132" width="6" height="6" fill="#39ffbe"/>
<rect x="431" y="132" width="6" height="6" fill="#00d0ff"/>
<rect x="437" y="132" width="5" height="6" fill="#66ff90"/>
<rect x="442" y="132" width="6" height="6" fill="#00d0ff"/>
<rect x="448" y="132" width="6" height="6" fill="#19ffde"/>
<rect x="454" y="132" width="6" height="6" fill="#66ff90"/>
<rect x="460" y="132" width="5" height="6" fill="#19ffde"/>
<rect x="465" y="132" width="6" height="6" fill="#66ff90"/>
<rect x="471" y="132" width="6" height="6" fill="#000080"/>
<rect x="107" y="138" width="6" height="6" fill="#ff6800"/>
<rect x="113" y="138" width="6" height="6" fill="#ffd700"/>
<rect x="119" y="138" width="5" height="6" fill="#000080"/>
<rect x="124" y="138" width="6" height="6" fill="#19ffde"/>
<rect x="130" y="138" width="6" height="6" fill="#0094ff"/>
<rect x="136" y="138" width="6" height="6" fill="#00d0ff"/>
<rect x="142" y="138" width="5" height="6" fill="#19ffde"/>
<rect x="147" y="138" width="6" height="6" fill="#000080"/>
<rect x="153" y="138" width="6" height="6" fill="#66ff90"/>
<rect x="159" y="138" width="6" height="6" fill="#39ffbe"/>
<rect x="165" y="138" width="6" height="6" fill="#19ffde"/>
<rect x="171" y="138" width="5" height="6" fill="#66ff90"/>
<rect x="176" y="138" width="6" height="6" fill="#39ffbe"/>
<rect x="182" y="138" width="6" height="6" fill="#00d0ff"/>
<rect x="188" y="138" width="6" height="6" fill="#000080"/>
<rect x="194" y="138" width="5" height="6" fill="#e7ff0f"/>
<rect x="199" y="138" width="6" height="6" fill="#19ffde"/>
<rect x="205" y="138" width="6" height="6" fill="#66ff90"/>
<rect x="211" y="138" width="6" height="6" fill="#19ffde"/>
<rect x="217" y="138" width="11" height="6" fill="#66ff90"/>
<rect x="228" y="138" width="12" height="6" fill="#39ffbe"/>
<rect x="240" y="138" width="6" height="6" fill="#00d0ff"/>
<rect x="246" y="138" width="6" height="6" fill="#a4ff53"/>
<rect x="252" y="138" width="5" height="6" fill="#39ffbe"/>
<rect x="257" y="138" width="6" height="6" fill="#19ffde"/>
<rect x="263" y="138" width="6" height="6" fill="#39ffbe"/>
<rect x="269" y="138" width="6" height="6" fill="#19ffde"/>
<rect x="275" y="138" width="11" height="6" fill="#39ffbe"/>
<rect x="286" y="138" width="6" height="6" fill="#a4ff53"/>
<rect x="292" y="138" width="12" height="6" fill="#004cff"/>
<rect x="304" y="138" width="5" height="6" fill="#00d0ff"/>
<rect x="309" y="138" width="6" height="6" fill="#19ffde"/>
<rect x="315" y="138" width="6" height="6" fill="#00d0ff"/>
<rect x="321" y="138" width="6" height="6" fill="#19ffde"/>
<rect x="327" y="138" width="5" height="6" fill="#66ff90"/>
<rect x="332" y="138" width="6" height="6" fill="#19ffde"/>
<rect x="338" y="138" width="6" height="6" fill="#00d0ff"/>
<rect x="344" y="138" width="6" height="6" fill="#66ff90"/>
<rect x="350" y="138" width="6" height="6" fill="#39ffbe"/>
<rect x="356" y="138" width="5" height="6" fill="#00d0ff"/>
<rect x="361" y="138" width="6" height="6" fill="#66ff90"/>
<rect x="367" y="138" width="6" height="6" fill="#00d0ff"/>
<rect x="373" y="138" width="6" height="6" fill="#39ffbe"/>
<rect x="379" y="138" width="5" height="6" fill="#66ff90"/>
<rect x="384" y="138" width="12" height="6" fill="#19ffde"/>
<rect x="396" y="138" width="6" height="6" fill="#0094ff"/>
<rect x="402" y="138" width="6" height="6" fill="#66ff90"/>
<rect x="408" y="138" width="5" height="6" fill="#19ffde"/>
<rect x="413" y="138" width="6" height="6" fill="#00d0ff"/>
<rect x="419" y="138" width="12" height="6" fill="#19ffde"/>
<rect x="431" y="138" width="6" height="6" fill="#00d0ff"/>
<rect x="437" y="138" width="5" height="6" fill="#e7ff0f"/>
<rect x="442" y="138" width="12" height="6" fill="#39ffbe"/>
<rect x="454" y="138" width="6" height="6" fill="#19ffde"/>
<rect x="460" y="138" width="5" height="6" fill="#00d0ff"/>
<rect x="465" y="138" width="6" height="6" fill="#a4ff53"/>
<rect x="471" y="138" width="6" height="6" fill="#000080"/>
<rect x="107" y="144" width="6" height="6" fill="#000080"/>
<rect x="113" y="144" width="6" height="6" fill="#39ffbe"/>
<rect x="119" y="144" width="5" height="6" fill="#e7ff0f"/>
<rect x="124" y="144" width="6" height="6" fill="#19ffde"/>
<rect x="130" y="144" width="6" height="6" fill="#0094ff"/>
<rect x="136" y="144" width="6" height="6" fill="#66ff90"/>
<rect x="142" y="144" width="5" height="6" fill="#a4ff53"/>
<rect x="147" y="144" width="6" height="6" fill="#00d0ff"/>
<rect x="153" y="144" width="6" height="6" fill="#39ffbe"/>
<rect x="159" y="144" width="6" height="6" fill="#e7ff0f"/>
<rect x="165" y="144" width="6" height="6" fill="#66ff90"/>
<rect x="171" y="144" width="5" height="6" fill="#19ffde"/>
<rect x="176" y="144" width="6" height="6" fill="#000080"/>
<rect x="182" y="144" width="6" height="6" fill="#00d0ff"/>
<rect x="188" y="144" width="6" height="6" fill="#39ffbe"/>
<rect x="194" y="144" width="5" height="6" fill="#0094ff"/>
<rect x="199" y="144" width="6" height="6" fill="#e7ff0f"/>
<rect x="205" y="144" width="6" height="6" fill="#66ff90"/>
<rect x="211" y="144" width="6" height="6" fill="#0094ff"/>
<rect x="217" y="144" width="6" height="6" fill="#66ff90"/>
<rect x="223" y="144" width="5" height="6" fill="#19ffde"/>
<rect x="228" y="144" width="6" height="6" fill="#a4ff53"/>
<rect x="234" y="144" width="6" height="6" fill="#39ffbe"/>
<rect x="240" y="144" width="6" height="6" fill="#19ffde"/>
<rect x="246" y="144" width="6" height="6" fill="#66ff90"/>
<rect x="252" y="144" width="17" height="6" fill="#39ffbe"/>
<rect x="269" y="144" width="11" height="6" fill="#a4ff53"/>
<rect x="280" y="144" width="6" height="6" fill="#39ffbe"/>
<rect x="286" y="144" width="6" height="6" fill="#66ff90"/>
<rect x="292" y="144" width="6" height="6" fill="#39ffbe"/>
<rect x="298" y="144" width="6" height="6" fill="#00d0ff"/>
<rect x="304" y="144" width="5" height="6" fill="#0094ff"/>
<rect x="309" y="144" width="6" height="6" fill="#004cff"/>
<rect x="315" y="144" width="12" height="6" fill="#19ffde"/>
<rect x="327" y="144" width="5" height="6" fill="#0094ff"/>
<rect x="332" y="144" width="12" height="6" fill="#39ffbe"/>
<rect x="344" y="144" width="6" height="6" fill="#a4ff53"/>
<rect x="350" y="144" width="6" height="6" fill="#e7ff0f"/>
<rect x="356" y="144" width="5" height="6" fill="#39ffbe"/>
<rect x="361" y="144" width="6" height="6" fill="#00d0ff"/>
<rect x="367" y="144" width="6" height="6" fill="#19ffde"/>
<rect x="373" y="144" width="6" height="6" fill="#66ff90"/>
<rect x="379" y="144" width="5" height="6" fill="#39ffbe"/>
<rect x="384" y="144" width="12" height="6" fill="#19ffde"/>
<rect x="396" y="144" width="6" height="6" fill="#0094ff"/>
<rect x="402" y="144" width="6" height="6" fill="#39ffbe"/>
<rect x="408" y="144" width="5" height="6" fill="#00d0ff"/>
<rect x="413" y="144" width="6" height="6" fill="#0094ff"/>
<rect x="419" y="144" width="6" height="6" fill="#19ffde"/>
<rect x="425" y="144" width="6" height="6" fill="#004cff"/>
<rect x="431" y="144" width="11" height="6" fill="#19ffde"/>
<rect x="442" y="144" width="12" height="6" fill="#66ff90"/>
<rect x="454" y="144" width="6" height="6" fill="#39ffbe"/>
<rect x="460" y="144" width="5" height="6" fill="#19ffde"/>
<rect x="465" y="144" width="6" height="6" fill="#a4ff53"/>
<rect x="471" y="144" width="6" height="6" fill="#000080"/>
<rect x="107" y="150" width="6" height="5" fill="#ff6800"/>
<rect x="113" y="150" width="6" height="5" fill="#19ffde"/>
<rect x="119" y="150" width="5" height="5" fill="#e7ff0f"/>
<rect x="124" y="150" width="6" height="5" fill="#39ffbe"/>
<rect x="130" y="150" width="6" height="5" fill="#66ff90"/>
<rect x="136" y="150" width="6" height="5" fill="#e7ff0f"/>
<rect x="142" y="150" width="5" height="5" fill="#66ff90"/>
<rect x="147" y="150" width="18" height="5" fill="#19ffde"/>
<rect x="165" y="150" width="11" height="5" fill="#0094ff"/>
<rect x="176" y="150" width="6" height="5" fill="#19ffde"/>
<rect x="182" y="150" width="6" height="5" fill="#39ffbe"/>
<rect x="188" y="150" width="6" height="5" fill="#e7ff0f"/>
<rect x="194" y="150" width="11" height="5" fill="#66ff90"/>
<rect x="205" y="150" width="6" height="5" fill="#39ffbe"/>
<rect x="211" y="150" width="6" height="5" fill="#00d0ff"/>
<rect x="217" y="150" width="6" height="5" fill="#66ff90"/>
<rect x="223" y="150" width="5" height="5" fill="#39ffbe"/>
<rect x="228" y="150" width="6" height="5" fill="#66ff90"/>
<rect x="234" y="150" width="12" height="5" fill="#39ffbe"/>
<rect x="246" y="150" width="6" height="5" fill="#a4ff53"/>
<rect x="252" y="150" width="5" height="5" fill="#39ffbe"/>
<rect x="257" y="150" width="6" height="5" fill="#a4ff53"/>
<rect x="263" y="150" width="6" height="5" fill="#66ff90"/>
<rect x="269" y="150" width="6" height="5" fill="#ffab00"/>
<rect x="275" y="150" width="5" height="5" fill="#00d0ff"/>
<rect x="280" y="150" width="6" height="5" fill="#0000ff"/>
<rect x="286" y="150" width="6" height="5" fill="#004cff"/>
<rect x="292" y="150" width="6" height="5" fill="#39ffbe"/>
<rect x="298" y="150" width="6" height="5" fill="#000080"/>
<rect x="304" y="150" width="17" height="5" fill="#39ffbe"/>
<rect x="321" y="150" width="6" height="5" fill="#00d0ff"/>
<rect x="327" y="150" width="23" height="5" fill="#000080"/>
<rect x="350" y="150" width="6" height="5" fill="#a4ff53"/>
<rect x="356" y="150" width="5" height="5" fill="#39ffbe"/>
<rect x="361" y="150" width="6" height="5" fill="#a4ff53"/>
<rect x="367" y="150" width="12" height="5" fill="#19ffde"/>
<rect x="379" y="150" width="5" height="5" fill="#0094ff"/>
<rect x="384" y="150" width="12" height="5" fill="#66ff90"/>
<rect x="396" y="150" width="6" height="5" fill="#e7ff0f"/>
<rect x="402" y="150" width="6" height="5" fill="#39ffbe"/>
<rect x="408" y="150" width="11" height="5" fill="#19ffde"/>
<rect x="419" y="150" width="6" height="5" fill="#a4ff53"/>
<rect x="425" y="150" width="6" height="5" fill="#39ffbe"/>
<rect x="431" y="150" width="11" height="5" fill="#66ff90"/>
<rect x="442" y="150" width="12" height="5" fill="#39ffbe"/>
<rect x="454" y="150" width="6" height="5" fill="#66ff90"/>
<rect x="460" y="150" width="5" height="5" fill="#39ffbe"/>
<rect x="465" y="150" width="6" height="5" fill="#a4ff53"/>
<rect x="471" y="150" width="6" height="5" fill="#000080"/>
<rect x="107" y="155" width="6" height="6" fill="#ff6800"/>
<rect x="113" y="155" width="6" height="6" fill="#0094ff"/>
<rect x="119" y="155" width="5" height="6" fill="#004cff"/>
<rect x="124" y="155" width="6" height="6" fill="#19ffde"/>
<rect x="130" y="155" width="12" height="6" fill="#66ff90"/>
<rect x="142" y="155" width="5" height="6" fill="#19ffde"/>
<rect x="147" y="155" width="6" height="6" fill="#66ff90"/>
<rect x="153" y="155" width="6" height="6" fill="#004cff"/>
<rect x="159" y="155" width="12" height="6" fill="#0094ff"/>
<rect x="171" y="155" width="5" height="6" fill="#00d0ff"/>
<rect x="176" y="155" width="6" height="6" fill="#0094ff"/>
<rect x="182" y="155" width="6" height="6" fill="#19ffde"/>
<rect x="188" y="155" width="6" height="6" fill="#66ff90"/>
<rect x="194" y="155" width="5" height="6" fill="#19ffde"/>
<rect x="199" y="155" width="6" height="6" fill="#66ff90"/>
<rect x="205" y="155" width="6" height="6" fill="#19ffde"/>
<rect x="211" y="155" width="6" height="6" fill="#66ff90"/>
<rect x="217" y="155" width="6" height="6" fill="#0094ff"/>
<rect x="223" y="155" width="5" height="6" fill="#66ff90"/>
<rect x="228" y="155" width="6" height="6" fill="#19ffde"/>
<rect x="234" y="155" width="12" height="6" fill="#39ffbe"/>
<rect x="246" y="155" width="6" height="6" fill="#19ffde"/>
<rect x="252" y="155" width="5" height="6" fill="#0094ff"/>
<rect x="257" y="155" width="12" height="6" fill="#66ff90"/>
<rect x="269" y="155" width="6" height="6" fill="#000080"/>
<rect x="275" y="155" width="11" height="6" fill="#0000ff"/>
<rect x="286" y="155" width="6" height="6" fill="#0094ff"/>
<rect x="292" y="155" width="6" height="6" fill="#66ff90"/>
<rect x="298" y="155" width="6" height="6" fill="#39ffbe"/>
<rect x="304" y="155" width="5" height="6" fill="#00d0ff"/>
<rect x="309" y="155" width="6" height="6" fill="#19ffde"/>
<rect x="315" y="155" width="6" height="6" fill="#39ffbe"/>
<rect x="321" y="155" width="6" height="6" fill="#19ffde"/>
<rect x="327" y="155" width="5" height="6" fill="#00d0ff"/>
<rect x="332" y="155" width="6" height="6" fill="#39ffbe"/>
<rect x="338" y="155" width="12" height="6" fill="#19ffde"/>
<rect x="350" y="155" width="6" height="6" fill="#39ffbe"/>
<rect x="356" y="155" width="11" height="6" fill="#00d0ff"/>
<rect x="367" y="155" width="6" height="6" fill="#39ffbe"/>
<rect x="373" y="155" width="11" height="6" fill="#19ffde"/>
<rect x="384" y="155" width="6" height="6" fill="#e7ff0f"/>
<rect x="390" y="155" width="6" height="6" fill="#19ffde"/>
<rect x="396" y="155" width="12" height="6" fill="#39ffbe"/>
<rect x="408" y="155" width="5" height="6" fill="#66ff90"/>
<rect x="413" y="155" width="6" height="6" fill="#39ffbe"/>
<rect x="419" y="155" width="6" height="6" fill="#66ff90"/>
<rect x="425" y="155" width="12" height="6" fill="#39ffbe"/>
<rect x="437" y="155" width="5" height="6" fill="#a4ff53"/>
<rect x="442" y="155" width="12" height="6" fill="#00d0ff"/>
<rect x="454" y="155" width="6" height="6" fill="#39ffbe"/>
<rect x="460" y="155" width="5" height="6" fill="#19ffde"/>
<rect x="465" y="155" width="6" height="6" fill="#e7ff0f"/>
<rect x="471" y="155" width="6" height="6" fill="#000080"/>
<rect x="107" y="161" width="6" height="6" fill="#000080"/>
<rect x="113" y="161" width="6" height="6" fill="#004cff"/>
<rect x="119" y="161" width="5" height="6" fill="#0094ff"/>
<rect x="124" y="161" width="6" height="6" fill="#66ff90"/>
<rect x="130" y="161" width="6" height="6" fill="#39ffbe"/>
<rect x="136" y="161" width="6" height="6" fill="#00d0ff"/>
<rect x="142" y="161" width="5" height="6" fill="#0094ff"/>
<rect x="147" y="161" width="12" height="6" fill="#19ffde"/>
<rect x="159" y="161" width="6" height="6" fill="#39ffbe"/>
<rect x="165" y="161" width="6" height="6" fill="#a4ff53"/>
<rect x="171" y="161" width="11" height="6" fill="#39ffbe"/>
<rect x="182" y="161" width="6" height="6" fill="#19ffde"/>
<rect x="188" y="161" width="6" height="6" fill="#00d0ff"/>
<rect x="194" y="161" width="5" height="6" fill="#39ffbe"/>
<rect x="199" y="161" width="6" height="6" fill="#0094ff"/>
<rect x="205" y="161" width="6" height="6" fill="#00d0ff"/>
<rect x="211" y="161" width="17" height="6" fill="#39ffbe"/>
<rect x="228" y="161" width="6" height="6" fill="#00d0ff"/>
<rect x="234" y="161" width="6" height="6" fill="#19ffde"/>
<rect x="240" y="161" width="6" height="6" fill="#0094ff"/>
<rect x="246" y="161" width="6" height="6" fill="#19ffde"/>
<rect x="252" y="161" width="11" height="6" fill="#39ffbe"/>
<rect x="263" y="161" width="6" height="6" fill="#66ff90"/>
<rect x="269" y="161" width="6" height="6" fill="#800000"/>
<rect x="275" y="161" width="5" height="6" fill="#0000ff"/>
<rect x="280" y="161" width="6" height="6" fill="#004cff"/>
<rect x="286" y="161" width="6" height="6" fill="#00d0ff"/>
<rect x="292" y="161" width="6" height="6" fill="#000080"/>
<rect x="298" y="161" width="6" height="6" fill="#39ffbe"/>
<rect x="304" y="161" width="5" height="6" fill="#00d0ff"/>
<rect x="309" y="161" width="6" height="6" fill="#0094ff"/>
<rect x="315" y="161" width="6" height="6" fill="#19ffde"/>
<rect x="321" y="161" width="6" height="6" fill="#39ffbe"/>
<rect x="327" y="161" width="5" height="6" fill="#00d0ff"/>
<rect x="332" y="161" width="6" height="6" fill="#66ff90"/>
<rect x="338" y="161" width="18" height="6" fill="#39ffbe"/>
<rect x="356" y="161" width="5" height="6" fill="#00d0ff"/>
<rect x="361" y="161" width="6" height="6" fill="#a4ff53"/>
<rect x="367" y="161" width="6" height="6" fill="#0094ff"/>
<rect x="373" y="161" width="6" height="6" fill="#00d0ff"/>
<rect x="379" y="161" width="5" height="6" fill="#39ffbe"/>
<rect x="384" y="161" width="12" height="6" fill="#19ffde"/>
<rect x="396" y="161" width="6" height="6" fill="#00d0ff"/>
<rect x="402" y="161" width="6" height="6" fill="#66ff90"/>
<rect x="408" y="161" width="5" height="6" fill="#00d0ff"/>
<rect x="413" y="161" width="6" height="6" fill="#39ffbe"/>
<rect x="419" y="161" width="6" height="6" fill="#66ff90"/>
<rect x="425" y="161" width="12" height="6" fill="#39ffbe"/>
<rect x="437" y="161" width="5" height="6" fill="#66ff90"/>
<rect x="442" y="161" width="6" height="6" fill="#39ffbe"/>
<rect x="448" y="161" width="6" height="6" fill="#00d0ff"/>
<rect x="454" y="161" width="11" height="6" fill="#39ffbe"/>
<rect x="465" y="161" width="6" height="6" fill="#66ff90"/>
<rect x="471" y="161" width="6" height="6" fill="#000080"/>
<rect x="107" y="167" width="6" height="6" fill="#ff2500"/>
<rect x="113" y="167" width="6" height="6" fill="#00d0ff"/>
<rect x="119" y="167" width="5" height="6" fill="#19ffde"/>
<rect x="124" y="167" width="6" height="6" fill="#66ff90"/>
<rect x="130" y="167" width="12" height="6" fill="#00d0ff"/>
<rect x="142" y="167" width="5" height="6" fill="#19ffde"/>
<rect x="147" y="167" width="12" height="6" fill="#00d0ff"/>
<rect x="159" y="167" width="12" height="6" fill="#39ffbe"/>
<rect x="171" y="167" width="5" height="6" fill="#66ff90"/>
<rect x="176" y="167" width="18" height="6" fill="#39ffbe"/>
<rect x="194" y="167" width="5" height="6" fill="#66ff90"/>
<rect x="199" y="167" width="6" height="6" fill="#19ffde"/>
<rect x="205" y="167" width="12" height="6" fill="#00d0ff"/>
<rect x="217" y="167" width="6" height="6" fill="#39ffbe"/>
<rect x="223" y="167" width="5" height="6" fill="#66ff90"/>
<rect x="228" y="167" width="6" height="6" fill="#a4ff53"/>
<rect x="234" y="167" width="6" height="6" fill="#39ffbe"/>
<rect x="240" y="167" width="6" height="6" fill="#00d0ff"/>
<rect x="246" y="167" width="6" height="6" fill="#19ffde"/>
<rect x="252" y="167" width="5" height="6" fill="#00d0ff"/>
<rect x="257" y="167" width="6" height="6" fill="#39ffbe"/>
<rect x="263" y="167" width="6" height="6" fill="#e7ff0f"/>
<rect x="269" y="167" width="6" height="6" fill="#a4ff53"/>
<rect x="275" y="167" width="5" height="6" fill="#0000ff"/>
<rect x="280" y="167" width="6" height="6" fill="#004cff"/>
<rect x="286" y="167" width="6" height="6" fill="#66ff90"/>
<rect x="292" y="167" width="6" height="6" fill="#000080"/>
<rect x="298" y="167" width="6" height="6" fill="#66ff90"/>
<rect x="304" y="167" width="5" height="6" fill="#00d0ff"/>
<rect x="309" y="167" width="6" height="6" fill="#39ffbe"/>
<rect x="315" y="167" width="6" height="6" fill="#00d0ff"/>
<rect x="321" y="167" width="6" height="6" fill="#39ffbe"/>
<rect x="327" y="167" width="5" height="6" fill="#19ffde"/>
<rect x="332" y="167" width="6" height="6" fill="#0094ff"/>
<rect x="338" y="167" width="6" height="6" fill="#19ffde"/>
<rect x="344" y="167" width="6" height="6" fill="#39ffbe"/>
<rect x="350" y="167" width="6" height="6" fill="#00d0ff"/>
<rect x="356" y="167" width="5" height="6" fill="#19ffde"/>
<rect x="361" y="167" width="6" height="6" fill="#00d0ff"/>
<rect x="367" y="167" width="12" height="6" fill="#19ffde"/>
<rect x="379" y="167" width="11" height="6" fill="#66ff90"/>
<rect x="390" y="167" width="6" height="6" fill="#19ffde"/>
<rect x="396" y="167" width="6" height="6" fill="#00d0ff"/>
<rect x="402" y="167" width="6" height="6" fill="#19ffde"/>
<rect x="408" y="167" width="11" height="6" fill="#39ffbe"/>
<rect x="419" y="167" width="18" height="6" fill="#19ffde"/>
<rect x="437" y="167" width="5" height="6" fill="#39ffbe"/>
<rect x="442" y="167" width="6" height="6" fill="#19ffde"/>
<rect x="448" y="167" width="6" height="6" fill="#39ffbe"/>
<rect x="454" y="167" width="6" height="6" fill="#a4ff53"/>
<rect x="460" y="167" width="5" height="6" fill="#0094ff"/>
<rect x="465" y="167" width="6" height="6" fill="#66ff90"/>
<rect x="471" y="167" width="6" height="6" fill="#000080"/>
<rect x="107" y="173" width="6" height="5" fill="#ff6800"/>
<rect x="113" y="173" width="6" height="5" fill="#00d0ff"/>
<rect x="119" y="173" width="5" height="5" fill="#39ffbe"/>
<rect x="124" y="173" width="6" height="5" fill="#a4ff53"/>
<rect x="130" y="173" width="6" height="5" fill="#39ffbe"/>
<rect x="136" y="173" width="6" height="5" fill="#66ff90"/>
<rect x="142" y="173" width="5" height="5" fill="#19ffde"/>
<rect x="147" y="173" width="12" height="5" fill="#39ffbe"/>
<rect x="159" y="173" width="6" height="5" fill="#66ff90"/>
<rect x="165" y="173" width="6" height="5" fill="#00d0ff"/>
<rect x="171" y="173" width="5" height="5" fill="#66ff90"/>
<rect x="176" y="173" width="6" height="5" fill="#39ffbe"/>
<rect x="182" y="173" width="6" height="5" fill="#00d0ff"/>
<rect x="188" y="173" width="6" height="5" fill="#39ffbe"/>
<rect x="194" y="173" width="5" height="5" fill="#66ff90"/>
<rect x="199" y="173" width="6" height="5" fill="#19ffde"/>
<rect x="205" y="173" width="6" height="5" fill="#0094ff"/>
<rect x="211" y="173" width="6" height="5" fill="#66ff90"/>
<rect x="217" y="173" width="6" height="5" fill="#39ffbe"/>
<rect x="223" y="173" width="5" height="5" fill="#19ffde"/>
<rect x="228" y="173" width="12" height="5" fill="#00d0ff"/>
<rect x="240" y="173" width="6" height="5" fill="#39ffbe"/>
<rect x="246" y="173" width="11" height="5" fill="#19ffde"/>
<rect x="257" y="173" width="6" height="5" fill="#66ff90"/>
<rect x="263" y="173" width="6" height="5" fill="#ffd700"/>
<rect x="269" y="173" width="6" height="5" fill="#00d0ff"/>
<rect x="275" y="173" width="5" height="5" fill="#0000ff"/>
<rect x="280" y="173" width="6" height="5" fill="#0094ff"/>
<rect x="286" y="173" width="6" height="5" fill="#ffd700"/>
<rect x="292" y="173" width="6" height="5" fill="#19ffde"/>
<rect x="298" y="173" width="17" height="5" fill="#39ffbe"/>
<rect x="315" y="173" width="6" height="5" fill="#19ffde"/>
<rect x="321" y="173" width="6" height="5" fill="#00d0ff"/>
<rect x="327" y="173" width="11" height="5" fill="#0094ff"/>
<rect x="338" y="173" width="6" height="5" fill="#19ffde"/>
<rect x="344" y="173" width="6" height="5" fill="#39ffbe"/>
<rect x="350" y="173" width="6" height="5" fill="#00d0ff"/>
<rect x="356" y="173" width="11" height="5" fill="#0094ff"/>
<rect x="367" y="173" width="6" height="5" fill="#004cff"/>
<rect x="373" y="173" width="6" height="5" fill="#00d0ff"/>
<rect x="379" y="173" width="5" height="5" fill="#39ffbe"/>
<rect x="384" y="173" width="6" height="5" fill="#66ff90"/>
<rect x="390" y="173" width="6" height="5" fill="#00d0ff"/>
<rect x="396" y="173" width="6" height="5" fill="#39ffbe"/>
<rect x="402" y="173" width="6" height="5" fill="#0094ff"/>
<rect x="408" y="173" width="5" height="5" fill="#39ffbe"/>
<rect x="413" y="173" width="12" height="5" fill="#66ff90"/>
<rect x="425" y="173" width="6" height="5" fill="#19ffde"/>
<rect x="431" y="173" width="6" height="5" fill="#39ffbe"/>
<rect x="437" y="173" width="5" height="5" fill="#66ff90"/>
<rect x="442" y="173" width="6" height="5" fill="#39ffbe"/>
<rect x="448" y="173" width="6" height="5" fill="#00d0ff"/>
<rect x="454" y="173" width="6" height="5" fill="#39ffbe"/>
<rect x="460" y="173" width="11" height="5" fill="#a4ff53"/>
<rect x="471" y="173" width="6" height="5" fill="#000080"/>
<rect x="107" y="178" width="6" height="6" fill="#ff2500"/>
<rect x="113" y="178" width="6" height="6" fill="#39ffbe"/>
<rect x="119" y="178" width="5" height="6" fill="#e7ff0f"/>
<rect x="124" y="178" width="6" height="6" fill="#19ffde"/>
<rect x="130" y="178" width="6" height="6" fill="#66ff90"/>
<rect x="136" y="178" width="11" height="6" fill="#39ffbe"/>
<rect x="147" y="178" width="6" height="6" fill="#00d0ff"/>
<rect x="153" y="178" width="12" height="6" fill="#39ffbe"/>
<rect x="165" y="178" width="11" height="6" fill="#19ffde"/>
<rect x="176" y="178" width="6" height="6" fill="#39ffbe"/>
<rect x="182" y="178" width="6" height="6" fill="#19ffde"/>
<rect x="188" y="178" width="6" height="6" fill="#39ffbe"/>
<rect x="194" y="178" width="5" height="6" fill="#66ff90"/>
<rect x="199" y="178" width="6" height="6" fill="#19ffde"/>
<rect x="205" y="178" width="6" height="6" fill="#0000ff"/>
<rect x="211" y="178" width="6" height="6" fill="#39ffbe"/>
<rect x="217" y="178" width="11" height="6" fill="#00d0ff"/>
<rect x="228" y="178" width="12" height="6" fill="#39ffbe"/>
<rect x="240" y="178" width="6" height="6" fill="#66ff90"/>
<rect x="246" y="178" width="6" height="6" fill="#19ffde"/>
<rect x="252" y="178" width="5" height="6" fill="#00d0ff"/>
<rect x="257" y="178" width="6" height="6" fill="#19ffde"/>
<rect x="263" y="178" width="6" height="6" fill="#ff2500"/>
<rect x="269" y="178" width="6" height="6" fill="#0000ff"/>
<rect x="275" y="178" width="5" height="6" fill="#004cff"/>
<rect x="280" y="178" width="6" height="6" fill="#0094ff"/>
<rect x="286" y="178" width="6" height="6" fill="#ffd700"/>
<rect x="292" y="178" width="12" height="6" fill="#19ffde"/>
<rect x="304" y="178" width="5" height="6" fill="#a4ff53"/>
<rect x="309" y="178" width="6" height="6" fill="#00d0ff"/>
<rect x="315" y="178" width="6" height="6" fill="#19ffde"/>
<rect x="321" y="178" width="6" height="6" fill="#0094ff"/>
<rect x="327" y="178" width="5" height="6" fill="#66ff90"/>
<rect x="332" y="178" width="6" height="6" fill="#0094ff"/>
<rect x="338" y="178" width="12" height="6" fill="#00d0ff"/>
<rect x="350" y="178" width="11" height="6" fill="#39ffbe"/>
<rect x="361" y="178" width="6" height="6" fill="#0094ff"/>
<rect x="367" y="178" width="6" height="6" fill="#19ffde"/>
<rect x="373" y="178" width="6" height="6" fill="#0094ff"/>
<rect x="379" y="178" width="5" height="6" fill="#00d0ff"/>
<rect x="384" y="178" width="6" height="6" fill="#66ff90"/>
<rect x="390" y="178" width="6" height="6" fill="#e7ff0f"/>
<rect x="396" y="178" width="6" height="6" fill="#39ffbe"/>
<rect x="402" y="178" width="6" height="6" fill="#a4ff53"/>
<rect x="408" y="178" width="5" height="6" fill="#39ffbe"/>
<rect x="413" y="178" width="6" height="6" fill="#00d0ff"/>
<rect x="419" y="178" width="6" height="6" fill="#66ff90"/>
<rect x="425" y="178" width="12" height="6" fill="#19ffde"/>
<rect x="437" y="178" width="11" height="6" fill="#39ffbe"/>
<rect x="448" y="178" width="12" height="6" fill="#19ffde"/>
<rect x="460" y="178" width="5" height="6" fill="#39ffbe"/>
<rect x="465" y="178" width="6" height="6" fill="#004cff"/>
<rect x="471" y="178" width="6" height="6" fill="#000080"/>
<rect x="107" y="184" width="6" height="6" fill="#ffab00"/>
<rect x="113" y="184" width="6" height="6" fill="#a4ff53"/>
<rect x="119" y="184" width="5" height="6" fill="#39ffbe"/>
<rect x="124" y="184" width="6" height="6" fill="#00d0ff"/>
<rect x="130" y="184" width="12" height="6" fill="#39ffbe"/>
<rect x="142" y="184" width="5" height="6" fill="#66ff90"/>
<rect x="147" y="184" width="6" height="6" fill="#00d0ff"/>
<rect x="153" y="184" width="6" height="6" fill="#39ffbe"/>
<rect x="159" y="184" width="6" height="6" fill="#a4ff53"/>
<rect x="165" y="184" width="11" height="6" fill="#39ffbe"/>
<rect x="176" y="184" width="12" height="6" fill="#00d0ff"/>
<rect x="188" y="184" width="11" height="6" fill="#39ffbe"/>
<rect x="199" y="184" width="12" height="6" fill="#004cff"/>
<rect x="211" y="184" width="6" height="6" fill="#19ffde"/>
<rect x="217" y="184" width="11" height="6" fill="#66ff90"/>
<rect x="228" y="184" width="6" height="6" fill="#00d0ff"/>
<rect x="234" y="184" width="6" height="6" fill="#39ffbe"/>
<rect x="240" y="184" width="6" height="6" fill="#0094ff"/>
<rect x="246" y="184" width="11" height="6" fill="#66ff90"/>
<rect x="257" y="184" width="6" height="6" fill="#39ffbe"/>
<rect x="263" y="184" width="6" height="6" fill="#ff6800"/>
<rect x="269" y="184" width="6" height="6" fill="#000080"/>
<rect x="275" y="184" width="5" height="6" fill="#0000ff"/>
<rect x="280" y="184" width="6" height="6" fill="#00d0ff"/>
<rect x="286" y="184" width="6" height="6" fill="#e7ff0f"/>
<rect x="292" y="184" width="6" height="6" fill="#00d0ff"/>
<rect x="298" y="184" width="6" height="6" fill="#19ffde"/>
<rect x="304" y="184" width="5" height="6" fill="#39ffbe"/>
<rect x="309" y="184" width="6" height="6" fill="#00d0ff"/>
<rect x="315" y="184" width="6" height="6" fill="#19ffde"/>
<rect x="321" y="184" width="6" height="6" fill="#0094ff"/>
<rect x="327" y="184" width="5" height="6" fill="#39ffbe"/>
<rect x="332" y="184" width="6" height="6" fill="#00d0ff"/>
<rect x="338" y="184" width="6" height="6" fill="#39ffbe"/>
<rect x="344" y="184" width="6" height="6" fill="#004cff"/>
<rect x="350" y="184" width="6" height="6" fill="#39ffbe"/>
<rect x="356" y="184" width="5" height="6" fill="#00d0ff"/>
<rect x="361" y="184" width="12" height="6" fill="#19ffde"/>
<rect x="373" y="184" width="11" height="6" fill="#39ffbe"/>
<rect x="384" y="184" width="6" height="6" fill="#19ffde"/>
<rect x="390" y="184" width="6" height="6" fill="#39ffbe"/>
<rect x="396" y="184" width="6" height="6" fill="#66ff90"/>
<rect x="402" y="184" width="11" height="6" fill="#39ffbe"/>
<rect x="413" y="184" width="6" height="6" fill="#19ffde"/>
<rect x="419" y="184" width="6" height="6" fill="#39ffbe"/>
<rect x="425" y="184" width="6" height="6" fill="#19ffde"/>
<rect x="431" y="184" width="6" height="6" fill="#39ffbe"/>
<rect x="437" y="184" width="5" height="6" fill="#66ff90"/>
<rect x="442" y="184" width="6" height="6" fill="#39ffbe"/>
<rect x="448" y="184" width="6" height="6" fill="#66ff90"/>
<rect x="454" y="184" width="6" height="6" fill="#0094ff"/>
<rect x="460" y="184" width="5" height="6" fill="#66ff90"/>
<rect x="465" y="184" width="6" height="6" fill="#0094ff"/>
<rect x="471" y="184" width="6" height="6" fill="#66ff90"/>
<rect x="107" y="190" width="6" height="6" fill="#ff6800"/>
<rect x="113" y="190" width="6" height="6" fill="#66ff90"/>
<rect x="119" y="190" width="5" height="6" fill="#19ffde"/>
<rect x="124" y="190" width="12" height="6" fill="#66ff90"/>
<rect x="136" y="190" width="6" height="6" fill="#19ffde"/>
<rect x="142" y="190" width="5" height="6" fill="#00d0ff"/>
<rect x="147" y="190" width="6" height="6" fill="#39ffbe"/>
<rect x="153" y="190" width="6" height="6" fill="#66ff90"/>
<rect x="159" y="190" width="6" height="6" fill="#19ffde"/>
<rect x="165" y="190" width="6" height="6" fill="#39ffbe"/>
<rect x="171" y="190" width="5" height="6" fill="#00d0ff"/>
<rect x="176" y="190" width="6" height="6" fill="#66ff90"/>
<rect x="182" y="190" width="6" height="6" fill="#00d0ff"/>
<rect x="188" y="190" width="6" height="6" fill="#66ff90"/>
<rect x="194" y="190" width="5" height="6" fill="#19ffde"/>
<rect x="199" y="190" width="6" height="6" fill="#0094ff"/>
<rect x="205" y="190" width="6" height="6" fill="#39ffbe"/>
<rect x="211" y="190" width="6" height="6" fill="#00d0ff"/>
<rect x="217" y="190" width="6" height="6" fill="#19ffde"/>
<rect x="223" y="190" width="5" height="6" fill="#39ffbe"/>
<rect x="228" y="190" width="6" height="6" fill="#00d0ff"/>
<rect x="234" y="190" width="6" height="6" fill="#19ffde"/>
<rect x="240" y="190" width="6" height="6" fill="#00d0ff"/>
<rect x="246" y="190" width="6" height="6" fill="#66ff90"/>
<rect x="252" y="190" width="5" height="6" fill="#0094ff"/>
<rect x="257" y="190" width="6" height="6" fill="#00d0ff"/>
<rect x="263" y="190" width="6" height="6" fill="#ffab00"/>
<rect x="269" y="190" width="6" height="6" fill="#0000ff"/>
<rect x="275" y="190" width="5" height="6" fill="#004cff"/>
<rect x="280" y="190" width="6" height="6" fill="#0094ff"/>
<rect x="286" y="190" width="6" height="6" fill="#66ff90"/>
<rect x="292" y="190" width="6" height="6" fill="#0094ff"/>
<rect x="298" y="190" width="6" height="6" fill="#66ff90"/>
<rect x="304" y="190" width="11" height="6" fill="#00d0ff"/>
<rect x="315" y="190" width="12" height="6" fill="#19ffde"/>
<rect x="327" y="190" width="11" height="6" fill="#00d0ff"/>
<rect x="338" y="190" width="12" height="6" fill="#39ffbe"/>
<rect x="350" y="190" width="6" height="6" fill="#00d0ff"/>
<rect x="356" y="190" width="5" height="6" fill="#66ff90"/>
<rect x="361" y="190" width="12" height="6" fill="#19ffde"/>
<rect x="373" y="190" width="6" height="6" fill="#39ffbe"/>
<rect x="379" y="190" width="5" height="6" fill="#19ffde"/>
<rect x="384" y="190" width="6" height="6" fill="#66ff90"/>
<rect x="390" y="190" width="6" height="6" fill="#00d0ff"/>
<rect x="396" y="190" width="6" height="6" fill="#0094ff"/>
<rect x="402" y="190" width="6" height="6" fill="#000080"/>
<rect x="408" y="190" width="5" height="6" fill="#39ffbe"/>
<rect x="413" y="190" width="6" height="6" fill="#0094ff"/>
<rect x="419" y="190" width="6" height="6" fill="#004cff"/>
<rect x="425" y="190" width="6" height="6" fill="#19ffde"/>
<rect x="431" y="190" width="6" height="6" fill="#39ffbe"/>
<rect x="437" y="190" width="5" height="6" fill="#19ffde"/>
<rect x="442" y="190" width="6" height="6" fill="#a4ff53"/>
<rect x="448" y="190" width="6" height="6" fill="#39ffbe"/>
<rect x="454" y="190" width="6" height="6" fill="#19ffde"/>
<rect x="460" y="190" width="5" height="6" fill="#00d0ff"/>
<rect x="465" y="190" width="6" height="6" fill="#66ff90"/>
<rect x="471" y="190" width="6" height="6" fill="#000080"/>
<rect x="107" y="196" width="6" height="6" fill="#a4ff53"/>
<rect x="113" y="196" width="11" height="6" fill="#19ffde"/>
<rect x="124" y="196" width="6" height="6" fill="#66ff90"/>
<rect x="130" y="196" width="17" height="6" fill="#19ffde"/>
<rect x="147" y="196" width="6" height="6" fill="#39ffbe"/>
<rect x="153" y="196" width="6" height="6" fill="#19ffde"/>
<rect x="159" y="196" width="6" height="6" fill="#39ffbe"/>
<rect x="165" y="196" width="6" height="6" fill="#66ff90"/>
<rect x="171" y="196" width="5" height="6" fill="#39ffbe"/>
<rect x="176" y="196" width="12" height="6" fill="#19ffde"/>
<rect x="188" y="196" width="6" height="6" fill="#39ffbe"/>
<rect x="194" y="196" width="5" height="6" fill="#66ff90"/>
<rect x="199" y="196" width="6" height="6" fill="#00d0ff"/>
<rect x="205" y="196" width="6" height="6" fill="#004cff"/>
<rect x="211" y="196" width="6" height="6" fill="#0000ff"/>
<rect x="217" y="196" width="6" height="6" fill="#004cff"/>
<rect x="223" y="196" width="5" height="6" fill="#19ffde"/>
<rect x="228" y="196" width="6" height="6" fill="#00d0ff"/>
<rect x="234" y="196" width="6" height="6" fill="#19ffde"/>
<rect x="240" y="196" width="12" height="6" fill="#66ff90"/>
<rect x="252" y="196" width="5" height="6" fill="#a4ff53"/>
<rect x="257" y="196" width="6" height="6" fill="#66ff90"/>
<rect x="263" y="196" width="6" height="6" fill="#ffd700"/>
<rect x="269" y="196" width="6" height="6" fill="#0000ff"/>
<rect x="275" y="196" width="5" height="6" fill="#004cff"/>
<rect x="280" y="196" width="6" height="6" fill="#000080"/>
<rect x="286" y="196" width="6" height="6" fill="#66ff90"/>
<rect x="292" y="196" width="6" height="6" fill="#39ffbe"/>
<rect x="298" y="196" width="6" height="6" fill="#19ffde"/>
<rect x="304" y="196" width="5" height="6" fill="#00d0ff"/>
<rect x="309" y="196" width="6" height="6" fill="#19ffde"/>
<rect x="315" y="196" width="6" height="6" fill="#0094ff"/>
<rect x="321" y="196" width="6" height="6" fill="#19ffde"/>
<rect x="327" y="196" width="5" height="6" fill="#00d0ff"/>
<rect x="332" y="196" width="6" height="6" fill="#39ffbe"/>
<rect x="338" y="196" width="6" height="6" fill="#0094ff"/>
<rect x="344" y="196" width="6" height="6" fill="#00d0ff"/>
<rect x="350" y="196" width="6" height="6" fill="#19ffde"/>
<rect x="356" y="196" width="5" height="6" fill="#004cff"/>
<rect x="361" y="196" width="6" height="6" fill="#66ff90"/>
<rect x="367" y="196" width="17" height="6" fill="#19ffde"/>
<rect x="384" y="196" width="6" height="6" fill="#000080"/>
<rect x="390" y="196" width="6" height="6" fill="#39ffbe"/>
<rect x="396" y="196" width="6" height="6" fill="#19ffde"/>
<rect x="402" y="196" width="6" height="6" fill="#0094ff"/>
<rect x="408" y="196" width="5" height="6" fill="#00d0ff"/>
<rect x="413" y="196" width="6" height="6" fill="#0094ff"/>
<rect x="419" y="196" width="6" height="6" fill="#19ffde"/>
<rect x="425" y="196" width="6" height="6" fill="#66ff90"/>
<rect x="431" y="196" width="6" height="6" fill="#19ffde"/>
<rect x="437" y="196" width="5" height="6" fill="#00d0ff"/>
<rect x="442" y="196" width="12" height="6" fill="#39ffbe"/>
<rect x="454" y="196" width="6" height="6" fill="#19ffde"/>
<rect x="460" y="196" width="5" height="6" fill="#e7ff0f"/>
<rect x="465" y="196" width="12" height="6" fill="#000080"/>
<rect x="107" y="202" width="6" height="5" fill="#ffd700"/>
<rect x="113" y="202" width="6" height="5" fill="#39ffbe"/>
<rect x="119" y="202" width="5" height="5" fill="#e7ff0f"/>
<rect x="124" y="202" width="6" height="5" fill="#00d0ff"/>
<rect x="130" y="202" width="6" height="5" fill="#39ffbe"/>
<rect x="136" y="202" width="6" height="5" fill="#19ffde"/>
<rect x="142" y="202" width="5" height="5" fill="#39ffbe"/>
<rect x="147" y="202" width="6" height="5" fill="#00d0ff"/>
<rect x="153" y="202" width="6" height="5" fill="#66ff90"/>
<rect x="159" y="202" width="6" height="5" fill="#00d0ff"/>
<rect x="165" y="202" width="11" height="5" fill="#39ffbe"/>
<rect x="176" y="202" width="6" height="5" fill="#00d0ff"/>
<rect x="182" y="202" width="6" height="5" fill="#19ffde"/>
<rect x="188" y="202" width="6" height="5" fill="#39ffbe"/>
<rect x="194" y="202" width="5" height="5" fill="#19ffde"/>
<rect x="199" y="202" width="6" height="5" fill="#00d0ff"/>
<rect x="205" y="202" width="6" height="5" fill="#004cff"/>
<rect x="211" y="202" width="6" height="5" fill="#0000ff"/>
<rect x="217" y="202" width="6" height="5" fill="#19ffde"/>
<rect x="223" y="202" width="11" height="5" fill="#66ff90"/>
<rect x="234" y="202" width="12" height="5" fill="#19ffde"/>
<rect x="246" y="202" width="6" height="5" fill="#39ffbe"/>
<rect x="252" y="202" width="5" height="5" fill="#19ffde"/>
<rect x="257" y="202" width="6" height="5" fill="#00d0ff"/>
<rect x="263" y="202" width="6" height="5" fill="#a4ff53"/>
<rect x="269" y="202" width="6" height="5" fill="#0000ff"/>
<rect x="275" y="202" width="5" height="5" fill="#0094ff"/>
<rect x="280" y="202" width="6" height="5" fill="#39ffbe"/>
<rect x="286" y="202" width="6" height="5" fill="#66ff90"/>
<rect x="292" y="202" width="12" height="5" fill="#0094ff"/>
<rect x="304" y="202" width="5" height="5" fill="#19ffde"/>
<rect x="309" y="202" width="6" height="5" fill="#0094ff"/>
<rect x="315" y="202" width="6" height="5" fill="#00d0ff"/>
<rect x="321" y="202" width="11" height="5" fill="#19ffde"/>
<rect x="332" y="202" width="6" height="5" fill="#00d0ff"/>
<rect x="338" y="202" width="6" height="5" fill="#0094ff"/>
<rect x="344" y="202" width="6" height="5" fill="#a4ff53"/>
<rect x="350" y="202" width="6" height="5" fill="#39ffbe"/>
<rect x="356" y="202" width="5" height="5" fill="#19ffde"/>
<rect x="361" y="202" width="6" height="5" fill="#00d0ff"/>
<rect x="367" y="202" width="17" height="5" fill="#39ffbe"/>
<rect x="384" y="202" width="6" height="5" fill="#66ff90"/>
<rect x="390" y="202" width="12" height="5" fill="#39ffbe"/>
<rect x="402" y="202" width="6" height="5" fill="#66ff90"/>
<rect x="408" y="202" width="5" height="5" fill="#a4ff53"/>
<rect x="413" y="202" width="6" height="5" fill="#39ffbe"/>
<rect x="419" y="202" width="6" height="5" fill="#e7ff0f"/>
<rect x="425" y="202" width="6" height="5" fill="#39ffbe"/>
<rect x="431" y="202" width="6" height="5" fill="#0094ff"/>
<rect x="437" y="202" width="5" height="5" fill="#19ffde"/>
<rect x="442" y="202" width="12" height="5" fill="#00d0ff"/>
<rect x="454" y="202" width="6" height="5" fill="#39ffbe"/>
<rect x="460" y="202" width="5" height="5" fill="#000080"/>
<rect x="465" y="202" width="12" height="5" fill="#19ffde"/>
<rect x="107" y="207" width="6" height="6" fill="#ff2500"/>
<rect x="113" y="207" width="6" height="6" fill="#19ffde"/>
<rect x="119" y="207" width="5" height="6" fill="#00d0ff"/>
<rect x="124" y="207" width="6" height="6" fill="#19ffde"/>
<rect x="130" y="207" width="12" height="6" fill="#39ffbe"/>
<rect x="142" y="207" width="5" height="6" fill="#19ffde"/>
<rect x="147" y="207" width="12" height="6" fill="#66ff90"/>
<rect x="159" y="207" width="12" height="6" fill="#19ffde"/>
<rect x="171" y="207" width="11" height="6" fill="#39ffbe"/>
<rect x="182" y="207" width="6" height="6" fill="#00d0ff"/>
<rect x="188" y="207" width="11" height="6" fill="#39ffbe"/>
<rect x="199" y="207" width="6" height="6" fill="#00d0ff"/>
<rect x="205" y="207" width="6" height="6" fill="#004cff"/>
<rect x="211" y="207" width="6" height="6" fill="#0000ff"/>
<rect x="217" y="207" width="6" height="6" fill="#19ffde"/>
<rect x="223" y="207" width="11" height="6" fill="#39ffbe"/>
<rect x="234" y="207" width="6" height="6" fill="#19ffde"/>
<rect x="240" y="207" width="6" height="6" fill="#00d0ff"/>
<rect x="246" y="207" width="11" height="6" fill="#39ffbe"/>
<rect x="257" y="207" width="6" height="6" fill="#19ffde"/>
<rect x="263" y="207" width="6" height="6" fill="#66ff90"/>
<rect x="269" y="207" width="6" height="6" fill="#0000bf"/>
<rect x="275" y="207" width="5" height="6" fill="#0000ff"/>
<rect x="280" y="207" width="6" height="6" fill="#ffd700"/>
<rect x="286" y="207" width="6" height="6" fill="#ffab00"/>
<rect x="292" y="207" width="6" height="6" fill="#0094ff"/>
<rect x="298" y="207" width="6" height="6" fill="#39ffbe"/>
<rect x="304" y="207" width="5" height="6" fill="#19ffde"/>
<rect x="309" y="207" width="6" height="6" fill="#66ff90"/>
<rect x="315" y="207" width="6" height="6" fill="#39ffbe"/>
<rect x="321" y="207" width="6" height="6" fill="#19ffde"/>
<rect x="327" y="207" width="17" height="6" fill="#00d0ff"/>
<rect x="344" y="207" width="17" height="6" fill="#19ffde"/>
<rect x="361" y="207" width="6" height="6" fill="#39ffbe"/>
<rect x="367" y="207" width="12" height="6" fill="#00d0ff"/>
<rect x="379" y="207" width="5" height="6" fill="#19ffde"/>
<rect x="384" y="207" width="6" height="6" fill="#e7ff0f"/>
<rect x="390" y="207" width="6" height="6" fill="#0094ff"/>
<rect x="396" y="207" width="6" height="6" fill="#39ffbe"/>
<rect x="402" y="207" width="6" height="6" fill="#66ff90"/>
<rect x="408" y="207" width="5" height="6" fill="#19ffde"/>
<rect x="413" y="207" width="6" height="6" fill="#00d0ff"/>
<rect x="419" y="207" width="6" height="6" fill="#39ffbe"/>
<rect x="425" y="207" width="6" height="6" fill="#19ffde"/>
<rect x="431" y="207" width="6" height="6" fill="#66ff90"/>
<rect x="437" y="207" width="5" height="6" fill="#19ffde"/>
<rect x="442" y="207" width="6" height="6" fill="#66ff90"/>
<rect x="448" y="207" width="12" height="6" fill="#39ffbe"/>
<rect x="460" y="207" width="5" height="6" fill="#66ff90"/>
<rect x="465" y="207" width="6" height="6" fill="#0094ff"/>
<rect x="471" y="207" width="6" height="6" fill="#66ff90"/>
<rect x="107" y="213" width="6" height="6" fill="#ffd700"/>
<rect x="113" y="213" width="17" height="6" fill="#66ff90"/>
<rect x="130" y="213" width="12" height="6" fill="#19ffde"/>
<rect x="142" y="213" width="5" height="6" fill="#00d0ff"/>
<rect x="147" y="213" width="6" height="6" fill="#39ffbe"/>
<rect x="153" y="213" width="12" height="6" fill="#19ffde"/>
<rect x="165" y="213" width="6" height="6" fill="#00d0ff"/>
<rect x="171" y="213" width="11" height="6" fill="#19ffde"/>
<rect x="182" y="213" width="6" height="6" fill="#0094ff"/>
<rect x="188" y="213" width="6" height="6" fill="#19ffde"/>
<rect x="194" y="213" width="5" height="6" fill="#a4ff53"/>
<rect x="199" y="213" width="6" height="6" fill="#00d0ff"/>
<rect x="205" y="213" width="12" height="6" fill="#004cff"/>
<rect x="217" y="213" width="11" height="6" fill="#19ffde"/>
<rect x="228" y="213" width="6" height="6" fill="#a4ff53"/>
<rect x="234" y="213" width="6" height="6" fill="#39ffbe"/>
<rect x="240" y="213" width="6" height="6" fill="#00d0ff"/>
<rect x="246" y="213" width="6" height="6" fill="#19ffde"/>
<rect x="252" y="213" width="5" height="6" fill="#66ff90"/>
<rect x="257" y="213" width="6" height="6" fill="#19ffde"/>
<rect x="263" y="213" width="6" height="6" fill="#a4ff53"/>
<rect x="269" y="213" width="6" height="6" fill="#0000ff"/>
<rect x="275" y="213" width="5" height="6" fill="#004cff"/>
<rect x="280" y="213" width="6" height="6" fill="#39ffbe"/>
<rect x="286" y="213" width="6" height="6" fill="#ff6800"/>
<rect x="292" y="213" width="6" height="6" fill="#0094ff"/>
<rect x="298" y="213" width="6" height="6" fill="#39ffbe"/>
<rect x="304" y="213" width="5" height="6" fill="#19ffde"/>
<rect x="309" y="213" width="6" height="6" fill="#39ffbe"/>
<rect x="315" y="213" width="6" height="6" fill="#0094ff"/>
<rect x="321" y="213" width="6" height="6" fill="#39ffbe"/>
<rect x="327" y="213" width="5" height="6" fill="#19ffde"/>
<rect x="332" y="213" width="12" height="6" fill="#0094ff"/>
<rect x="344" y="213" width="6" height="6" fill="#19ffde"/>
<rect x="350" y="213" width="6" height="6" fill="#004cff"/>
<rect x="356" y="213" width="11" height="6" fill="#19ffde"/>
<rect x="367" y="213" width="6" height="6" fill="#39ffbe"/>
<rect x="373" y="213" width="6" height="6" fill="#66ff90"/>
<rect x="379" y="213" width="5" height="6" fill="#00d0ff"/>
<rect x="384" y="213" width="6" height="6" fill="#66ff90"/>
<rect x="390" y="213" width="6" height="6" fill="#00d0ff"/>
<rect x="396" y="213" width="6" height="6" fill="#a4ff53"/>
<rect x="402" y="213" width="6" height="6" fill="#19ffde"/>
<rect x="408" y="213" width="5" height="6" fill="#00d0ff"/>
<rect x="413" y="213" width="6" height="6" fill="#004cff"/>
<rect x="419" y="213" width="6" height="6" fill="#19ffde"/>
<rect x="425" y="213" width="6" height="6" fill="#0094ff"/>
<rect x="431" y="213" width="6" height="6" fill="#39ffbe"/>
<rect x="437" y="213" width="11" height="6" fill="#19ffde"/>
<rect x="448" y="213" width="6" height="6" fill="#66ff90"/>
<rect x="454" y="213" width="6" height="6" fill="#39ffbe"/>
<rect x="460" y="213" width="5" height="6" fill="#19ffde"/>
<rect x="465" y="213" width="6" height="6" fill="#0094ff"/>
<rect x="471" y="213" width="6" height="6" fill="#66ff90"/>
<rect x="107" y="219" width="6" height="6" fill="#ffab00"/>
<rect x="113" y="219" width="6" height="6" fill="#66ff90"/>
<rect x="119" y="219" width="5" height="6" fill="#000080"/>
<rect x="124" y="219" width="6" height="6" fill="#66ff90"/>
<rect x="130" y="219" width="6" height="6" fill="#00d0ff"/>
<rect x="136" y="219" width="11" height="6" fill="#39ffbe"/>
<rect x="147" y="219" width="6" height="6" fill="#19ffde"/>
<rect x="153" y="219" width="6" height="6" fill="#a4ff53"/>
<rect x="159" y="219" width="6" height="6" fill="#19ffde"/>
<rect x="165" y="219" width="6" height="6" fill="#a4ff53"/>
<rect x="171" y="219" width="11" height="6" fill="#19ffde"/>
<rect x="182" y="219" width="6" height="6" fill="#00d0ff"/>
<rect x="188" y="219" width="6" height="6" fill="#66ff90"/>
<rect x="194" y="219" width="5" height="6" fill="#a4ff53"/>
<rect x="199" y="219" width="6" height="6" fill="#004cff"/>
<rect x="205" y="219" width="6" height="6" fill="#0094ff"/>
<rect x="211" y="219" width="6" height="6" fill="#000080"/>
<rect x="217" y="219" width="6" height="6" fill="#19ffde"/>
<rect x="223" y="219" width="5" height="6" fill="#66ff90"/>
<rect x="228" y="219" width="12" height="6" fill="#00d0ff"/>
<rect x="240" y="219" width="6" height="6" fill="#39ffbe"/>
<rect x="246" y="219" width="11" height="6" fill="#00d0ff"/>
<rect x="257" y="219" width="6" height="6" fill="#66ff90"/>
<rect x="263" y="219" width="6" height="6" fill="#ffd700"/>
<rect x="269" y="219" width="6" height="6" fill="#000080"/>
<rect x="275" y="219" width="5" height="6" fill="#004cff"/>
<rect x="280" y="219" width="6" height="6" fill="#000080"/>
<rect x="286" y="219" width="6" height="6" fill="#a4ff53"/>
<rect x="292" y="219" width="6" height="6" fill="#00d0ff"/>
<rect x="298" y="219" width="6" height="6" fill="#39ffbe"/>
<rect x="304" y="219" width="5" height="6" fill="#000080"/>
<rect x="309" y="219" width="12" height="6" fill="#19ffde"/>
<rect x="321" y="219" width="6" height="6" fill="#00d0ff"/>
<rect x="327" y="219" width="5" height="6" fill="#19ffde"/>
<rect x="332" y="219" width="12" height="6" fill="#00d0ff"/>
<rect x="344" y="219" width="6" height="6" fill="#39ffbe"/>
<rect x="350" y="219" width="6" height="6" fill="#a4ff53"/>
<rect x="356" y="219" width="5" height="6" fill="#19ffde"/>
<rect x="361" y="219" width="6" height="6" fill="#00d0ff"/>
<rect x="367" y="219" width="12" height="6" fill="#19ffde"/>
<rect x="379" y="219" width="11" height="6" fill="#39ffbe"/>
<rect x="390" y="219" width="6" height="6" fill="#66ff90"/>
<rect x="396" y="219" width="6" height="6" fill="#000080"/>
<rect x="402" y="219" width="6" height="6" fill="#19ffde"/>
<rect x="408" y="219" width="5" height="6" fill="#00d0ff"/>
<rect x="413" y="219" width="6" height="6" fill="#0094ff"/>
<rect x="419" y="219" width="12" height="6" fill="#19ffde"/>
<rect x="431" y="219" width="6" height="6" fill="#66ff90"/>
<rect x="437" y="219" width="11" height="6" fill="#39ffbe"/>
<rect x="448" y="219" width="6" height="6" fill="#66ff90"/>
<rect x="454" y="219" width="6" height="6" fill="#19ffde"/>
<rect x="460" y="219" width="5" height="6" fill="#00d0ff"/>
<rect x="465" y="219" width="12" height="6" fill="#19ffde"/>
<rect x="107" y="225" width="6" height="5" fill="#800000"/>
<rect x="113" y="225" width="6" height="5" fill="#a4ff53"/>
<rect x="119" y="225" width="5" height="5" fill="#19ffde"/>
<rect x="124" y="225" width="6" height="5" fill="#39ffbe"/>
<rect x="130" y="225" width="6" height="5" fill="#19ffde"/>
<rect x="136" y="225" width="17" height="5" fill="#39ffbe"/>
<rect x="153" y="225" width="6" height="5" fill="#66ff90"/>
<rect x="159" y="225" width="12" height="5" fill="#00d0ff"/>
<rect x="171" y="225" width="5" height="5" fill="#66ff90"/>
<rect x="176" y="225" width="6" height="5" fill="#00d0ff"/>
<rect x="182" y="225" width="6" height="5" fill="#66ff90"/>
<rect x="188" y="225" width="6" height="5" fill="#19ffde"/>
<rect x="194" y="225" width="5" height="5" fill="#66ff90"/>
<rect x="199" y="225" width="6" height="5" fill="#0000ff"/>
<rect x="205" y="225" width="18" height="5" fill="#004cff"/>
<rect x="223" y="225" width="5" height="5" fill="#66ff90"/>
<rect x="228" y="225" width="6" height="5" fill="#19ffde"/>
<rect x="234" y="225" width="6" height="5" fill="#39ffbe"/>
<rect x="240" y="225" width="6" height="5" fill="#66ff90"/>
<rect x="246" y="225" width="6" height="5" fill="#19ffde"/>
<rect x="252" y="225" width="5" height="5" fill="#0094ff"/>
<rect x="257" y="225" width="6" height="5" fill="#39ffbe"/>
<rect x="263" y="225" width="6" height="5" fill="#a4ff53"/>
<rect x="269" y="225" width="17" height="5" fill="#000080"/>
<rect x="286" y="225" width="6" height="5" fill="#a4ff53"/>
<rect x="292" y="225" width="6" height="5" fill="#0094ff"/>
<rect x="298" y="225" width="6" height="5" fill="#39ffbe"/>
<rect x="304" y="225" width="11" height="5" fill="#00d0ff"/>
<rect x="315" y="225" width="6" height="5" fill="#19ffde"/>
<rect x="321" y="225" width="6" height="5" fill="#39ffbe"/>
<rect x="327" y="225" width="5" height="5" fill="#19ffde"/>
<rect x="332" y="225" width="6" height="5" fill="#0094ff"/>
<rect x="338" y="225" width="6" height="5" fill="#00d0ff"/>
<rect x="344" y="225" width="6" height="5" fill="#66ff90"/>
<rect x="350" y="225" width="6" height="5" fill="#39ffbe"/>
<rect x="356" y="225" width="5" height="5" fill="#00d0ff"/>
<rect x="361" y="225" width="12" height="5" fill="#39ffbe"/>
<rect x="373" y="225" width="6" height="5" fill="#0094ff"/>
<rect x="379" y="225" width="5" height="5" fill="#19ffde"/>
<rect x="384" y="225" width="12" height="5" fill="#39ffbe"/>
<rect x="396" y="225" width="12" height="5" fill="#19ffde"/>
<rect x="408" y="225" width="5" height="5" fill="#39ffbe"/>
<rect x="413" y="225" width="6" height="5" fill="#00d0ff"/>
<rect x="419" y="225" width="6" height="5" fill="#66ff90"/>
<rect x="425" y="225" width="6" height="5" fill="#19ffde"/>
<rect x="431" y="225" width="6" height="5" fill="#a4ff53"/>
<rect x="437" y="225" width="5" height="5" fill="#19ffde"/>
<rect x="442" y="225" width="6" height="5" fill="#66ff90"/>
<rect x="448" y="225" width="12" height="5" fill="#000080"/>
<rect x="460" y="225" width="5" height="5" fill="#66ff90"/>
<rect x="465" y="225" width="6" height="5" fill="#39ffbe"/>
<rect x="471" y="225" width="6" height="5" fill="#a4ff53"/>
<rect x="107" y="230" width="12" height="6" fill="#000080"/>
<rect x="119" y="230" width="11" height="6" fill="#39ffbe"/>
<rect x="130" y="230" width="12" height="6" fill="#19ffde"/>
<rect x="142" y="230" width="5" height="6" fill="#000080"/>
<rect x="147" y="230" width="6" height="6" fill="#19ffde"/>
<rect x="153" y="230" width="6" height="6" fill="#00d0ff"/>
<rect x="159" y="230" width="6" height="6" fill="#39ffbe"/>
<rect x="165" y="230" width="11" height="6" fill="#19ffde"/>
<rect x="176" y="230" width="6" height="6" fill="#39ffbe"/>
<rect x="182" y="230" width="6" height="6" fill="#19ffde"/>
<rect x="188" y="230" width="17" height="6" fill="#00d0ff"/>
<rect x="205" y="230" width="18" height="6" fill="#0000ff"/>
<rect x="223" y="230" width="5" height="6" fill="#39ffbe"/>
<rect x="228" y="230" width="6" height="6" fill="#66ff90"/>
<rect x="234" y="230" width="6" height="6" fill="#19ffde"/>
<rect x="240" y="230" width="6" height="6" fill="#00d0ff"/>
<rect x="246" y="230" width="6" height="6" fill="#19ffde"/>
<rect x="252" y="230" width="5" height="6" fill="#000080"/>
<rect x="257" y="230" width="6" height="6" fill="#66ff90"/>
<rect x="263" y="230" width="6" height="6" fill="#ffd700"/>
<rect x="269" y="230" width="6" height="6" fill="#000080"/>
<rect x="275" y="230" width="5" height="6" fill="#004cff"/>
<rect x="280" y="230" width="12" height="6" fill="#000080"/>
<rect x="292" y="230" width="6" height="6" fill="#00d0ff"/>
<rect x="298" y="230" width="6" height="6" fill="#19ffde"/>
<rect x="304" y="230" width="5" height="6" fill="#00d0ff"/>
<rect x="309" y="230" width="6" height="6" fill="#39ffbe"/>
<rect x="315" y="230" width="12" height="6" fill="#19ffde"/>
<rect x="327" y="230" width="5" height="6" fill="#00d0ff"/>
<rect x="332" y="230" width="6" height="6" fill="#19ffde"/>
<rect x="338" y="230" width="6" height="6" fill="#00d0ff"/>
<rect x="344" y="230" width="6" height="6" fill="#39ffbe"/>
<rect x="350" y="230" width="17" height="6" fill="#00d0ff"/>
<rect x="367" y="230" width="6" height="6" fill="#19ffde"/>
<rect x="373" y="230" width="6" height="6" fill="#39ffbe"/>
<rect x="379" y="230" width="11" height="6" fill="#004cff"/>
<rect x="390" y="230" width="6" height="6" fill="#a4ff53"/>
<rect x="396" y="230" width="12" height="6" fill="#19ffde"/>
<rect x="408" y="230" width="5" height="6" fill="#00d0ff"/>
<rect x="413" y="230" width="6" height="6" fill="#39ffbe"/>
<rect x="419" y="230" width="6" height="6" fill="#00d0ff"/>
<rect x="425" y="230" width="6" height="6" fill="#0094ff"/>
<rect x="431" y="230" width="6" height="6" fill="#39ffbe"/>
<rect x="437" y="230" width="5" height="6" fill="#00d0ff"/>
<rect x="442" y="230" width="6" height="6" fill="#a4ff53"/>
<rect x="448" y="230" width="6" height="6" fill="#39ffbe"/>
<rect x="454" y="230" width="6" height="6" fill="#000080"/>
<rect x="460" y="230" width="5" height="6" fill="#a4ff53"/>
<rect x="465" y="230" width="6" height="6" fill="#39ffbe"/>
<rect x="471" y="230" width="6" height="6" fill="#a4ff53"/>
<rect x="107" y="236" width="17" height="6" fill="#000080"/>
<rect x="124" y="236" width="6" height="6" fill="#a4ff53"/>
<rect x="130" y="236" width="6" height="6" fill="#39ffbe"/>
<rect x="136" y="236" width="6" height="6" fill="#a4ff53"/>
<rect x="142" y="236" width="5" height="6" fill="#000080"/>
<rect x="147" y="236" width="6" height="6" fill="#66ff90"/>
<rect x="153" y="236" width="12" height="6" fill="#39ffbe"/>
<rect x="165" y="236" width="11" height="6" fill="#19ffde"/>
<rect x="176" y="236" width="18" height="6" fill="#39ffbe"/>
<rect x="194" y="236" width="5" height="6" fill="#000080"/>
<rect x="199" y="236" width="6" height="6" fill="#ffab00"/>
<rect x="205" y="236" width="6" height="6" fill="#ff2500"/>
<rect x="211" y="236" width="6" height="6" fill="#ffab00"/>
<rect x="217" y="236" width="6" height="6" fill="#19ffde"/>
<rect x="223" y="236" width="5" height="6" fill="#66ff90"/>
<rect x="228" y="236" width="6" height="6" fill="#e7ff0f"/>
<rect x="234" y="236" width="6" height="6" fill="#00d0ff"/>
<rect x="240" y="236" width="6" height="6" fill="#0094ff"/>
<rect x="246" y="236" width="6" height="6" fill="#00d0ff"/>
<rect x="252" y="236" width="11" height="6" fill="#66ff90"/>
<rect x="263" y="236" width="6" height="6" fill="#ffab00"/>
<rect x="269" y="236" width="6" height="6" fill="#66ff90"/>
<rect x="275" y="236" width="5" height="6" fill="#0000ff"/>
<rect x="280" y="236" width="6" height="6" fill="#000080"/>
<rect x="286" y="236" width="6" height="6" fill="#a4ff53"/>
<rect x="292" y="236" width="6" height="6" fill="#39ffbe"/>
<rect x="298" y="236" width="6" height="6" fill="#19ffde"/>
<rect x="304" y="236" width="5" height="6" fill="#0094ff"/>
<rect x="309" y="236" width="6" height="6" fill="#e7ff0f"/>
<rect x="315" y="236" width="6" height="6" fill="#19ffde"/>
<rect x="321" y="236" width="11" height="6" fill="#00d0ff"/>
<rect x="332" y="236" width="6" height="6" fill="#66ff90"/>
<rect x="338" y="236" width="6" height="6" fill="#39ffbe"/>
<rect x="344" y="236" width="12" height="6" fill="#19ffde"/>
<rect x="356" y="236" width="5" height="6" fill="#66ff90"/>
<rect x="361" y="236" width="12" height="6" fill="#19ffde"/>
<rect x="373" y="236" width="6" height="6" fill="#66ff90"/>
<rect x="379" y="236" width="5" height="6" fill="#00d0ff"/>
<rect x="384" y="236" width="6" height="6" fill="#0094ff"/>
<rect x="390" y="236" width="6" height="6" fill="#66ff90"/>
<rect x="396" y="236" width="6" height="6" fill="#00d0ff"/>
<rect x="402" y="236" width="6" height="6" fill="#a4ff53"/>
<rect x="408" y="236" width="5" height="6" fill="#00d0ff"/>
<rect x="413" y="236" width="6" height="6" fill="#39ffbe"/>
<rect x="419" y="236" width="12" height="6" fill="#19ffde"/>
<rect x="431" y="236" width="6" height="6" fill="#39ffbe"/>
<rect x="437" y="236" width="5" height="6" fill="#00d0ff"/>
<rect x="442" y="236" width="6" height="6" fill="#39ffbe"/>
<rect x="448" y="236" width="12" height="6" fill="#000080"/>
<rect x="460" y="236" width="5" height="6" fill="#ffab00"/>
<rect x="465" y="236" width="6" height="6" fill="#66ff90"/>
<rect x="471" y="236" width="6" height="6" fill="#a4ff53"/>
<rect x="107" y="242" width="23" height="6" fill="#000080"/>
<rect x="130" y="242" width="6" height="6" fill="#ffd700"/>
<rect x="136" y="242" width="11" height="6" fill="#000080"/>
<rect x="147" y="242" width="12" height="6" fill="#39ffbe"/>
<rect x="159" y="242" width="6" height="6" fill="#66ff90"/>
<rect x="165" y="242" width="11" height="6" fill="#39ffbe"/>
<rect x="176" y="242" width="23" height="6" fill="#000080"/>
<rect x="199" y="242" width="12" height="6" fill="#0094ff"/>
<rect x="211" y="242" width="6" height="6" fill="#0000ff"/>
<rect x="217" y="242" width="6" height="6" fill="#004cff"/>
<rect x="223" y="242" width="11" height="6" fill="#39ffbe"/>
<rect x="234" y="242" width="6" height="6" fill="#66ff90"/>
<rect x="240" y="242" width="6" height="6" fill="#39ffbe"/>
<rect x="246" y="242" width="11" height="6" fill="#66ff90"/>
<rect x="257" y="242" width="6" height="6" fill="#00d0ff"/>
<rect x="263" y="242" width="12" height="6" fill="#66ff90"/>
<rect x="275" y="242" width="5" height="6" fill="#19ffde"/>
<rect x="280" y="242" width="12" height="6" fill="#39ffbe"/>
<rect x="292" y="242" width="6" height="6" fill="#19ffde"/>
<rect x="298" y="242" width="6" height="6" fill="#a4ff53"/>
<rect x="304" y="242" width="5" height="6" fill="#000080"/>
<rect x="309" y="242" width="6" height="6" fill="#39ffbe"/>
<rect x="315" y="242" width="6" height="6" fill="#0000ff"/>
<rect x="321" y="242" width="6" height="6" fill="#004cff"/>
<rect x="327" y="242" width="5" height="6" fill="#0094ff"/>
<rect x="332" y="242" width="6" height="6" fill="#0000ff"/>
<rect x="338" y="242" width="6" height="6" fill="#19ffde"/>
<rect x="344" y="242" width="6" height="6" fill="#66ff90"/>
<rect x="350" y="242" width="6" height="6" fill="#39ffbe"/>
<rect x="356" y="242" width="5" height="6" fill="#00d0ff"/>
<rect x="361" y="242" width="6" height="6" fill="#66ff90"/>
<rect x="367" y="242" width="6" height="6" fill="#a4ff53"/>
<rect x="373" y="242" width="6" height="6" fill="#66ff90"/>
<rect x="379" y="242" width="5" height="6" fill="#a4ff53"/>
<rect x="384" y="242" width="6" height="6" fill="#39ffbe"/>
<rect x="390" y="242" width="6" height="6" fill="#66ff90"/>
<rect x="396" y="242" width="12" height="6" fill="#19ffde"/>
<rect x="408" y="242" width="5" height="6" fill="#00d0ff"/>
<rect x="413" y="242" width="12" height="6" fill="#39ffbe"/>
<rect x="425" y="242" width="6" height="6" fill="#66ff90"/>
<rect x="431" y="242" width="6" height="6" fill="#19ffde"/>
<rect x="437" y="242" width="5" height="6" fill="#66ff90"/>
<rect x="442" y="242" width="12" height="6" fill="#00d0ff"/>
<rect x="454" y="242" width="6" height="6" fill="#19ffde"/>
<rect x="460" y="242" width="11" height="6" fill="#a4ff53"/>
<rect x="471" y="242" width="6" height="6" fill="#000080"/>
<rect x="107" y="248" width="6" height="6" fill="#00d0ff"/>
<rect x="113" y="248" width="6" height="6" fill="#000080"/>
<rect x="119" y="248" width="5" height="6" fill="#19ffde"/>
<rect x="124" y="248" width="6" height="6" fill="#39ffbe"/>
<rect x="130" y="248" width="6" height="6" fill="#66ff90"/>
<rect x="136" y="248" width="6" height="6" fill="#a4ff53"/>
<rect x="142" y="248" width="5" height="6" fill="#39ffbe"/>
<rect x="147" y="248" width="6" height="6" fill="#000080"/>
<rect x="153" y="248" width="6" height="6" fill="#66ff90"/>
<rect x="159" y="248" width="6" height="6" fill="#19ffde"/>
<rect x="165" y="248" width="11" height="6" fill="#39ffbe"/>
<rect x="176" y="248" width="12" height="6" fill="#66ff90"/>
<rect x="188" y="248" width="6" height="6" fill="#a4ff53"/>
<rect x="194" y="248" width="11" height="6" fill="#19ffde"/>
<rect x="205" y="248" width="12" height="6" fill="#0094ff"/>
<rect x="217" y="248" width="6" height="6" fill="#00d0ff"/>
<rect x="223" y="248" width="5" height="6" fill="#19ffde"/>
<rect x="228" y="248" width="6" height="6" fill="#00d0ff"/>
<rect x="234" y="248" width="6" height="6" fill="#0094ff"/>
<rect x="240" y="248" width="6" height="6" fill="#39ffbe"/>
<rect x="246" y="248" width="6" height="6" fill="#0094ff"/>
<rect x="252" y="248" width="5" height="6" fill="#39ffbe"/>
<rect x="257" y="248" width="12" height="6" fill="#00d0ff"/>
<rect x="269" y="248" width="6" height="6" fill="#0094ff"/>
<rect x="275" y="248" width="5" height="6" fill="#00d0ff"/>
<rect x="280" y="248" width="6" height="6" fill="#66ff90"/>
<rect x="286" y="248" width="6" height="6" fill="#a4ff53"/>
<rect x="292" y="248" width="6" height="6" fill="#00d0ff"/>
<rect x="298" y="248" width="6" height="6" fill="#0000ff"/>
<rect x="304" y="248" width="5" height="6" fill="#0094ff"/>
<rect x="309" y="248" width="12" height="6" fill="#0000ff"/>
<rect x="321" y="248" width="6" height="6" fill="#004cff"/>
<rect x="327" y="248" width="5" height="6" fill="#0094ff"/>
<rect x="332" y="248" width="6" height="6" fill="#39ffbe"/>
<rect x="338" y="248" width="6" height="6" fill="#19ffde"/>
<rect x="344" y="248" width="12" height="6" fill="#39ffbe"/>
<rect x="356" y="248" width="11" height="6" fill="#19ffde"/>
<rect x="367" y="248" width="17" height="6" fill="#39ffbe"/>
<rect x="384" y="248" width="6" height="6" fill="#66ff90"/>
<rect x="390" y="248" width="12" height="6" fill="#19ffde"/>
<rect x="402" y="248" width="11" height="6" fill="#a4ff53"/>
<rect x="413" y="248" width="6" height="6" fill="#39ffbe"/>
<rect x="419" y="248" width="12" height="6" fill="#66ff90"/>
<rect x="431" y="248" width="6" height="6" fill="#19ffde"/>
<rect x="437" y="248" width="5" height="6" fill="#66ff90"/>
<rect x="442" y="248" width="6" height="6" fill="#19ffde"/>
<rect x="448" y="248" width="12" height="6" fill="#39ffbe"/>
<rect x="460" y="248" width="5" height="6" fill="#19ffde"/>
<rect x="465" y="248" width="6" height="6" fill="#a4ff53"/>
<rect x="471" y="248" width="6" height="6" fill="#66ff90"/>
<rect x="107" y="254" width="12" height="5" fill="#00d0ff"/>
<rect x="119" y="254" width="5" height="5" fill="#0000ff"/>
<rect x="124" y="254" width="6" height="5" fill="#66ff90"/>
<rect x="130" y="254" width="6" height="5" fill="#39ffbe"/>
<rect x="136" y="254" width="6" height="5" fill="#00d0ff"/>
<rect x="142" y="254" width="5" height="5" fill="#39ffbe"/>
<rect x="147" y="254" width="6" height="5" fill="#66ff90"/>
<rect x="153" y="254" width="6" height="5" fill="#19ffde"/>
<rect x="159" y="254" width="6" height="5" fill="#66ff90"/>
<rect x="165" y="254" width="6" height="5" fill="#00d0ff"/>
<rect x="171" y="254" width="5" height="5" fill="#66ff90"/>
<rect x="176" y="254" width="6" height="5" fill="#19ffde"/>
<rect x="182" y="254" width="12" height="5" fill="#39ffbe"/>
<rect x="194" y="254" width="5" height="5" fill="#19ffde"/>
<rect x="199" y="254" width="6" height="5" fill="#000080"/>
<rect x="205" y="254" width="6" height="5" fill="#00d0ff"/>
<rect x="211" y="254" width="6" height="5" fill="#0000ff"/>
<rect x="217" y="254" width="6" height="5" fill="#66ff90"/>
<rect x="223" y="254" width="5" height="5" fill="#19ffde"/>
<rect x="228" y="254" width="6" height="5" fill="#66ff90"/>
<rect x="234" y="254" width="12" height="5" fill="#00d0ff"/>
<rect x="246" y="254" width="11" height="5" fill="#0094ff"/>
<rect x="257" y="254" width="18" height="5" fill="#19ffde"/>
<rect x="275" y="254" width="5" height="5" fill="#39ffbe"/>
<rect x="280" y="254" width="6" height="5" fill="#e7ff0f"/>
<rect x="286" y="254" width="6" height="5" fill="#00d0ff"/>
<rect x="292" y="254" width="6" height="5" fill="#39ffbe"/>
<rect x="298" y="254" width="6" height="5" fill="#004cff"/>
<rect x="304" y="254" width="11" height="5" fill="#0000bf"/>
<rect x="315" y="254" width="6" height="5" fill="#0000ff"/>
<rect x="321" y="254" width="6" height="5" fill="#000080"/>
<rect x="327" y="254" width="5" height="5" fill="#a4ff53"/>
<rect x="332" y="254" width="6" height="5" fill="#19ffde"/>
<rect x="338" y="254" width="6" height="5" fill="#66ff90"/>
<rect x="344" y="254" width="6" height="5" fill="#19ffde"/>
<rect x="350" y="254" width="6" height="5" fill="#39ffbe"/>
<rect x="356" y="254" width="5" height="5" fill="#19ffde"/>
<rect x="361" y="254" width="6" height="5" fill="#0094ff"/>
<rect x="367" y="254" width="12" height="5" fill="#19ffde"/>
<rect x="379" y="254" width="11" height="5" fill="#39ffbe"/>
<rect x="390" y="254" width="6" height="5" fill="#19ffde"/>
<rect x="396" y="254" width="6" height="5" fill="#39ffbe"/>
<rect x="402" y="254" width="6" height="5" fill="#66ff90"/>
<rect x="408" y="254" width="5" height="5" fill="#19ffde"/>
<rect x="413" y="254" width="6" height="5" fill="#39ffbe"/>
<rect x="419" y="254" width="6" height="5" fill="#00d0ff"/>
<rect x="425" y="254" width="6" height="5" fill="#66ff90"/>
<rect x="431" y="254" width="6" height="5" fill="#39ffbe"/>
<rect x="437" y="254" width="5" height="5" fill="#00d0ff"/>
<rect x="442" y="254" width="6" height="5" fill="#39ffbe"/>
<rect x="448" y="254" width="6" height="5" fill="#00d0ff"/>
<rect x="454" y="254" width="6" height="5" fill="#39ffbe"/>
<rect x="460" y="254" width="5" height="5" fill="#19ffde"/>
<rect x="465" y="254" width="6" height="5" fill="#39ffbe"/>
<rect x="471" y="254" width="6" height="5" fill="#ffd700"/>
<rect x="107" y="259" width="6" height="6" fill="#39ffbe"/>
<rect x="113" y="259" width="6" height="6" fill="#000080"/>
<rect x="119" y="259" width="5" height="6" fill="#39ffbe"/>
<rect x="124" y="259" width="6" height="6" fill="#a4ff53"/>
<rect x="130" y="259" width="12" height="6" fill="#39ffbe"/>
<rect x="142" y="259" width="11" height="6" fill="#19ffde"/>
<rect x="153" y="259" width="6" height="6" fill="#39ffbe"/>
<rect x="159" y="259" width="6" height="6" fill="#00d0ff"/>
<rect x="165" y="259" width="6" height="6" fill="#19ffde"/>
<rect x="171" y="259" width="5" height="6" fill="#39ffbe"/>
<rect x="176" y="259" width="6" height="6" fill="#00d0ff"/>
<rect x="182" y="259" width="6" height="6" fill="#19ffde"/>
<rect x="188" y="259" width="6" height="6" fill="#39ffbe"/>
<rect x="194" y="259" width="5" height="6" fill="#19ffde"/>
<rect x="199" y="259" width="12" height="6" fill="#0094ff"/>
<rect x="211" y="259" width="6" height="6" fill="#00d0ff"/>
<rect x="217" y="259" width="6" height="6" fill="#66ff90"/>
<rect x="223" y="259" width="5" height="6" fill="#39ffbe"/>
<rect x="228" y="259" width="12" height="6" fill="#19ffde"/>
<rect x="240" y="259" width="6" height="6" fill="#0094ff"/>
<rect x="246" y="259" width="11" height="6" fill="#19ffde"/>
<rect x="257" y="259" width="6" height="6" fill="#66ff90"/>
<rect x="263" y="259" width="6" height="6" fill="#19ffde"/>
<rect x="269" y="259" width="6" height="6" fill="#66ff90"/>
<rect x="275" y="259" width="5" height="6" fill="#0094ff"/>
<rect x="280" y="259" width="6" height="6" fill="#0000ff"/>
<rect x="286" y="259" width="12" height="6" fill="#66ff90"/>
<rect x="298" y="259" width="6" height="6" fill="#0000ff"/>
<rect x="304" y="259" width="11" height="6" fill="#0000bf"/>
<rect x="315" y="259" width="6" height="6" fill="#a4ff53"/>
<rect x="321" y="259" width="6" height="6" fill="#ffab00"/>
<rect x="327" y="259" width="5" height="6" fill="#66ff90"/>
<rect x="332" y="259" width="12" height="6" fill="#00d0ff"/>
<rect x="344" y="259" width="6" height="6" fill="#19ffde"/>
<rect x="350" y="259" width="6" height="6" fill="#39ffbe"/>
<rect x="356" y="259" width="5" height="6" fill="#00d0ff"/>
<rect x="361" y="259" width="6" height="6" fill="#39ffbe"/>
<rect x="367" y="259" width="12" height="6" fill="#19ffde"/>
<rect x="379" y="259" width="5" height="6" fill="#39ffbe"/>
<rect x="384" y="259" width="6" height="6" fill="#00d0ff"/>
<rect x="390" y="259" width="12" height="6" fill="#19ffde"/>
<rect x="402" y="259" width="6" height="6" fill="#0094ff"/>
<rect x="408" y="259" width="5" height="6" fill="#66ff90"/>
<rect x="413" y="259" width="6" height="6" fill="#39ffbe"/>
<rect x="419" y="259" width="6" height="6" fill="#00d0ff"/>
<rect x="425" y="259" width="6" height="6" fill="#0094ff"/>
<rect x="431" y="259" width="6" height="6" fill="#39ffbe"/>
<rect x="437" y="259" width="11" height="6" fill="#19ffde"/>
<rect x="448" y="259" width="6" height="6" fill="#0094ff"/>
<rect x="454" y="259" width="11" height="6" fill="#19ffde"/>
<rect x="465" y="259" width="6" height="6" fill="#66ff90"/>
<rect x="471" y="259" width="6" height="6" fill="#000080"/>
<rect x="107" y="265" width="6" height="6" fill="#00d0ff"/>
<rect x="113" y="265" width="6" height="6" fill="#19ffde"/>
<rect x="119" y="265" width="5" height="6" fill="#39ffbe"/>
<rect x="124" y="265" width="6" height="6" fill="#66ff90"/>
<rect x="130" y="265" width="6" height="6" fill="#19ffde"/>
<rect x="136" y="265" width="6" height="6" fill="#39ffbe"/>
<rect x="142" y="265" width="5" height="6" fill="#19ffde"/>
<rect x="147" y="265" width="6" height="6" fill="#00d0ff"/>
<rect x="153" y="265" width="6" height="6" fill="#66ff90"/>
<rect x="159" y="265" width="17" height="6" fill="#19ffde"/>
<rect x="176" y="265" width="6" height="6" fill="#66ff90"/>
<rect x="182" y="265" width="6" height="6" fill="#00d0ff"/>
<rect x="188" y="265" width="6" height="6" fill="#66ff90"/>
<rect x="194" y="265" width="5" height="6" fill="#39ffbe"/>
<rect x="199" y="265" width="6" height="6" fill="#19ffde"/>
<rect x="205" y="265" width="6" height="6" fill="#0094ff"/>
<rect x="211" y="265" width="6" height="6" fill="#39ffbe"/>
<rect x="217" y="265" width="6" height="6" fill="#a4ff53"/>
<rect x="223" y="265" width="5" height="6" fill="#00d0ff"/>
<rect x="228" y="265" width="6" height="6" fill="#39ffbe"/>
<rect x="234" y="265" width="6" height="6" fill="#19ffde"/>
<rect x="240" y="265" width="6" height="6" fill="#0094ff"/>
<rect x="246" y="265" width="6" height="6" fill="#00d0ff"/>
<rect x="252" y="265" width="5" height="6" fill="#004cff"/>
<rect x="257" y="265" width="6" height="6" fill="#00d0ff"/>
<rect x="263" y="265" width="12" height="6" fill="#19ffde"/>
<rect x="275" y="265" width="5" height="6" fill="#004cff"/>
<rect x="280" y="265" width="6" height="6" fill="#0000ff"/>
<rect x="286" y="265" width="6" height="6" fill="#004cff"/>
<rect x="292" y="265" width="6" height="6" fill="#39ffbe"/>
<rect x="298" y="265" width="17" height="6" fill="#0000bf"/>
<rect x="315" y="265" width="6" height="6" fill="#ff2500"/>
<rect x="321" y="265" width="6" height="6" fill="#66ff90"/>
<rect x="327" y="265" width="29" height="6" fill="#19ffde"/>
<rect x="356" y="265" width="11" height="6" fill="#00d0ff"/>
<rect x="367" y="265" width="6" height="6" fill="#39ffbe"/>
<rect x="373" y="265" width="6" height="6" fill="#66ff90"/>
<rect x="379" y="265" width="5" height="6" fill="#19ffde"/>
<rect x="384" y="265" width="6" height="6" fill="#0094ff"/>
<rect x="390" y="265" width="6" height="6" fill="#39ffbe"/>
<rect x="396" y="265" width="6" height="6" fill="#19ffde"/>
<rect x="402" y="265" width="6" height="6" fill="#39ffbe"/>
<rect x="408" y="265" width="5" height="6" fill="#66ff90"/>
<rect x="413" y="265" width="6" height="6" fill="#19ffde"/>
<rect x="419" y="265" width="6" height="6" fill="#00d0ff"/>
<rect x="425" y="265" width="6" height="6" fill="#0094ff"/>
<rect x="431" y="265" width="6" height="6" fill="#39ffbe"/>
<rect x="437" y="265" width="5" height="6" fill="#19ffde"/>
<rect x="442" y="265" width="6" height="6" fill="#00d0ff"/>
<rect x="448" y="265" width="6" height="6" fill="#0094ff"/>
<rect x="454" y="265" width="6" height="6" fill="#66ff90"/>
<rect x="460" y="265" width="5" height="6" fill="#39ffbe"/>
<rect x="465" y="265" width="6" height="6" fill="#66ff90"/>
<rect x="471" y="265" width="6" height="6" fill="#000080"/>
<rect x="107" y="271" width="6" height="6" fill="#0094ff"/>
<rect x="113" y="271" width="6" height="6" fill="#0000ff"/>
<rect x="119" y="271" width="5" height="6" fill="#0094ff"/>
<rect x="124" y="271" width="12" height="6" fill="#39ffbe"/>
<rect x="136" y="271" width="11" height="6" fill="#0094ff"/>
<rect x="147" y="271" width="12" height="6" fill="#39ffbe"/>
<rect x="159" y="271" width="6" height="6" fill="#0094ff"/>
<rect x="165" y="271" width="11" height="6" fill="#66ff90"/>
<rect x="176" y="271" width="12" height="6" fill="#19ffde"/>
<rect x="188" y="271" width="6" height="6" fill="#39ffbe"/>
<rect x="194" y="271" width="11" height="6" fill="#00d0ff"/>
<rect x="205" y="271" width="6" height="6" fill="#0094ff"/>
<rect x="211" y="271" width="6" height="6" fill="#39ffbe"/>
<rect x="217" y="271" width="11" height="6" fill="#19ffde"/>
<rect x="228" y="271" width="6" height="6" fill="#39ffbe"/>
<rect x="234" y="271" width="6" height="6" fill="#00d0ff"/>
<rect x="240" y="271" width="17" height="6" fill="#39ffbe"/>
<rect x="257" y="271" width="6" height="6" fill="#a4ff53"/>
<rect x="263" y="271" width="6" height="6" fill="#19ffde"/>
<rect x="269" y="271" width="6" height="6" fill="#0094ff"/>
<rect x="275" y="271" width="11" height="6" fill="#0000ff"/>
<rect x="286" y="271" width="6" height="6" fill="#39ffbe"/>
<rect x="292" y="271" width="6" height="6" fill="#0094ff"/>
<rect x="298" y="271" width="11" height="6" fill="#0000ff"/>
<rect x="309" y="271" width="6" height="6" fill="#ff6800"/>
<rect x="315" y="271" width="6" height="6" fill="#a4ff53"/>
<rect x="321" y="271" width="6" height="6" fill="#39ffbe"/>
<rect x="327" y="271" width="5" height="6" fill="#00d0ff"/>
<rect x="332" y="271" width="6" height="6" fill="#19ffde"/>
<rect x="338" y="271" width="6" height="6" fill="#0094ff"/>
<rect x="344" y="271" width="12" height="6" fill="#19ffde"/>
<rect x="356" y="271" width="5" height="6" fill="#39ffbe"/>
<rect x="361" y="271" width="12" height="6" fill="#00d0ff"/>
<rect x="373" y="271" width="6" height="6" fill="#39ffbe"/>
<rect x="379" y="271" width="5" height="6" fill="#e7ff0f"/>
<rect x="384" y="271" width="6" height="6" fill="#19ffde"/>
<rect x="390" y="271" width="6" height="6" fill="#39ffbe"/>
<rect x="396" y="271" width="6" height="6" fill="#004cff"/>
<rect x="402" y="271" width="6" height="6" fill="#66ff90"/>
<rect x="408" y="271" width="5" height="6" fill="#19ffde"/>
<rect x="413" y="271" width="6" height="6" fill="#39ffbe"/>
<rect x="419" y="271" width="6" height="6" fill="#19ffde"/>
<rect x="425" y="271" width="6" height="6" fill="#66ff90"/>
<rect x="431" y="271" width="6" height="6" fill="#19ffde"/>
<rect x="437" y="271" width="5" height="6" fill="#000080"/>
<rect x="442" y="271" width="6" height="6" fill="#66ff90"/>
<rect x="448" y="271" width="6" height="6" fill="#39ffbe"/>
<rect x="454" y="271" width="6" height="6" fill="#19ffde"/>
<rect x="460" y="271" width="5" height="6" fill="#39ffbe"/>
<rect x="465" y="271" width="6" height="6" fill="#66ff90"/>
<rect x="471" y="271" width="6" height="6" fill="#000080"/>
<rect x="107" y="277" width="6" height="5" fill="#19ffde"/>
<rect x="113" y="277" width="6" height="5" fill="#0000ff"/>
<rect x="119" y="277" width="5" height="5" fill="#0094ff"/>
<rect x="124" y="277" width="6" height="5" fill="#39ffbe"/>
<rect x="130" y="277" width="12" height="5" fill="#19ffde"/>
<rect x="142" y="277" width="5" height="5" fill="#39ffbe"/>
<rect x="147" y="277" width="6" height="5" fill="#00d0ff"/>
<rect x="153" y="277" width="12" height="5" fill="#0094ff"/>
<rect x="165" y="277" width="11" height="5" fill="#39ffbe"/>
<rect x="176" y="277" width="6" height="5" fill="#19ffde"/>
<rect x="182" y="277" width="6" height="5" fill="#a4ff53"/>
<rect x="188" y="277" width="6" height="5" fill="#66ff90"/>
<rect x="194" y="277" width="11" height="5" fill="#39ffbe"/>
<rect x="205" y="277" width="6" height="5" fill="#004cff"/>
<rect x="211" y="277" width="6" height="5" fill="#66ff90"/>
<rect x="217" y="277" width="6" height="5" fill="#19ffde"/>
<rect x="223" y="277" width="11" height="5" fill="#a4ff53"/>
<rect x="234" y="277" width="6" height="5" fill="#00d0ff"/>
<rect x="240" y="277" width="6" height="5" fill="#0094ff"/>
<rect x="246" y="277" width="6" height="5" fill="#39ffbe"/>
<rect x="252" y="277" width="5" height="5" fill="#19ffde"/>
<rect x="257" y="277" width="6" height="5" fill="#0094ff"/>
<rect x="263" y="277" width="6" height="5" fill="#39ffbe"/>
<rect x="269" y="277" width="6" height="5" fill="#66ff90"/>
<rect x="275" y="277" width="11" height="5" fill="#0000ff"/>
<rect x="286" y="277" width="6" height="5" fill="#0094ff"/>
<rect x="292" y="277" width="6" height="5" fill="#0000ff"/>
<rect x="298" y="277" width="6" height="5" fill="#004cff"/>
<rect x="304" y="277" width="5" height="5" fill="#0094ff"/>
<rect x="309" y="277" width="6" height="5" fill="#ffab00"/>
<rect x="315" y="277" width="6" height="5" fill="#66ff90"/>
<rect x="321" y="277" width="11" height="5" fill="#19ffde"/>
<rect x="332" y="277" width="6" height="5" fill="#00d0ff"/>
<rect x="338" y="277" width="6" height="5" fill="#39ffbe"/>
<rect x="344" y="277" width="6" height="5" fill="#00d0ff"/>
<rect x="350" y="277" width="6" height="5" fill="#19ffde"/>
<rect x="356" y="277" width="5" height="5" fill="#39ffbe"/>
<rect x="361" y="277" width="6" height="5" fill="#66ff90"/>
<rect x="367" y="277" width="6" height="5" fill="#19ffde"/>
<rect x="373" y="277" width="6" height="5" fill="#00d0ff"/>
<rect x="379" y="277" width="5" height="5" fill="#39ffbe"/>
<rect x="384" y="277" width="6" height="5" fill="#19ffde"/>
<rect x="390" y="277" width="6" height="5" fill="#0094ff"/>
<rect x="396" y="277" width="6" height="5" fill="#66ff90"/>
<rect x="402" y="277" width="6" height="5" fill="#00d0ff"/>
<rect x="408" y="277" width="11" height="5" fill="#39ffbe"/>
<rect x="419" y="277" width="6" height="5" fill="#19ffde"/>
<rect x="425" y="277" width="6" height="5" fill="#00d0ff"/>
<rect x="431" y="277" width="6" height="5" fill="#a4ff53"/>
<rect x="437" y="277" width="11" height="5" fill="#39ffbe"/>
<rect x="448" y="277" width="6" height="5" fill="#66ff90"/>
<rect x="454" y="277" width="6" height="5" fill="#39ffbe"/>
<rect x="460" y="277" width="5" height="5" fill="#66ff90"/>
<rect x="465" y="277" width="6" height="5" fill="#39ffbe"/>
<rect x="471" y="277" width="6" height="5" fill="#000080"/>
<rect x="107" y="282" width="6" height="6" fill="#004cff"/>
<rect x="113" y="282" width="6" height="6" fill="#0094ff"/>
<rect x="119" y="282" width="5" height="6" fill="#19ffde"/>
<rect x="124" y="282" width="6" height="6" fill="#e7ff0f"/>
<rect x="130" y="282" width="6" height="6" fill="#00d0ff"/>
<rect x="136" y="282" width="6" height="6" fill="#39ffbe"/>
<rect x="142" y="282" width="5" height="6" fill="#00d0ff"/>
<rect x="147" y="282" width="12" height="6" fill="#66ff90"/>
<rect x="159" y="282" width="6" height="6" fill="#19ffde"/>
<rect x="165" y="282" width="6" height="6" fill="#39ffbe"/>
<rect x="171" y="282" width="5" height="6" fill="#00d0ff"/>
<rect x="176" y="282" width="6" height="6" fill="#19ffde"/>
<rect x="182" y="282" width="12" height="6" fill="#39ffbe"/>
<rect x="194" y="282" width="5" height="6" fill="#19ffde"/>
<rect x="199" y="282" width="6" height="6" fill="#000080"/>
<rect x="205" y="282" width="6" height="6" fill="#0000ff"/>
<rect x="211" y="282" width="6" height="6" fill="#00d0ff"/>
<rect x="217" y="282" width="6" height="6" fill="#39ffbe"/>
<rect x="223" y="282" width="11" height="6" fill="#000080"/>
<rect x="234" y="282" width="6" height="6" fill="#66ff90"/>
<rect x="240" y="282" width="6" height="6" fill="#000080"/>
<rect x="246" y="282" width="6" height="6" fill="#66ff90"/>
<rect x="252" y="282" width="5" height="6" fill="#00d0ff"/>
<rect x="257" y="282" width="12" height="6" fill="#19ffde"/>
<rect x="269" y="282" width="6" height="6" fill="#39ffbe"/>
<rect x="275" y="282" width="5" height="6" fill="#0000ff"/>
<rect x="280" y="282" width="12" height="6" fill="#004cff"/>
<rect x="292" y="282" width="6" height="6" fill="#0000ff"/>
<rect x="298" y="282" width="6" height="6" fill="#004cff"/>
<rect x="304" y="282" width="5" height="6" fill="#0000ff"/>
<rect x="309" y="282" width="6" height="6" fill="#a4ff53"/>
<rect x="315" y="282" width="12" height="6" fill="#39ffbe"/>
<rect x="327" y="282" width="5" height="6" fill="#00d0ff"/>
<rect x="332" y="282" width="6" height="6" fill="#0094ff"/>
<rect x="338" y="282" width="6" height="6" fill="#00d0ff"/>
<rect x="344" y="282" width="6" height="6" fill="#66ff90"/>
<rect x="350" y="282" width="6" height="6" fill="#00d0ff"/>
<rect x="356" y="282" width="5" height="6" fill="#39ffbe"/>
<rect x="361" y="282" width="6" height="6" fill="#00d0ff"/>
<rect x="367" y="282" width="12" height="6" fill="#19ffde"/>
<rect x="379" y="282" width="5" height="6" fill="#00d0ff"/>
<rect x="384" y="282" width="6" height="6" fill="#66ff90"/>
<rect x="390" y="282" width="12" height="6" fill="#19ffde"/>
<rect x="402" y="282" width="11" height="6" fill="#39ffbe"/>
<rect x="413" y="282" width="6" height="6" fill="#00d0ff"/>
<rect x="419" y="282" width="6" height="6" fill="#0094ff"/>
<rect x="425" y="282" width="6" height="6" fill="#19ffde"/>
<rect x="431" y="282" width="11" height="6" fill="#39ffbe"/>
<rect x="442" y="282" width="6" height="6" fill="#00d0ff"/>
<rect x="448" y="282" width="6" height="6" fill="#19ffde"/>
<rect x="454" y="282" width="6" height="6" fill="#0094ff"/>
<rect x="460" y="282" width="5" height="6" fill="#66ff90"/>
<rect x="465" y="282" width="6" height="6" fill="#00d0ff"/>
<rect x="471" y="282" width="6" height="6" fill="#000080"/>
<rect x="107" y="288" width="6" height="6" fill="#00d0ff"/>
<rect x="113" y="288" width="6" height="6" fill="#0000ff"/>
<rect x="119" y="288" width="5" height="6" fill="#00d0ff"/>
<rect x="124" y="288" width="6" height="6" fill="#66ff90"/>
<rect x="130" y="288" width="6" height="6" fill="#0094ff"/>
<rect x="136" y="288" width="6" height="6" fill="#66ff90"/>
<rect x="142" y="288" width="5" height="6" fill="#19ffde"/>
<rect x="147" y="288" width="6" height="6" fill="#00d0ff"/>
<rect x="153" y="288" width="6" height="6" fill="#19ffde"/>
<rect x="159" y="288" width="6" height="6" fill="#0094ff"/>
<rect x="165" y="288" width="17" height="6" fill="#19ffde"/>
<rect x="182" y="288" width="12" height="6" fill="#00d0ff"/>
<rect x="194" y="288" width="5" height="6" fill="#39ffbe"/>
<rect x="199" y="288" width="6" height="6" fill="#66ff90"/>
<rect x="205" y="288" width="6" height="6" fill="#0094ff"/>
<rect x="211" y="288" width="6" height="6" fill="#19ffde"/>
<rect x="217" y="288" width="6" height="6" fill="#39ffbe"/>
<rect x="223" y="288" width="5" height="6" fill="#0094ff"/>
<rect x="228" y="288" width="6" height="6" fill="#19ffde"/>
<rect x="234" y="288" width="6" height="6" fill="#00d0ff"/>
<rect x="240" y="288" width="6" height="6" fill="#19ffde"/>
<rect x="246" y="288" width="6" height="6" fill="#000080"/>
<rect x="252" y="288" width="5" height="6" fill="#00d0ff"/>
<rect x="257" y="288" width="6" height="6" fill="#19ffde"/>
<rect x="263" y="288" width="6" height="6" fill="#39ffbe"/>
<rect x="269" y="288" width="6" height="6" fill="#00d0ff"/>
<rect x="275" y="288" width="11" height="6" fill="#0000ff"/>
<rect x="286" y="288" width="6" height="6" fill="#0094ff"/>
<rect x="292" y="288" width="17" height="6" fill="#0000ff"/>
<rect x="309" y="288" width="6" height="6" fill="#a4ff53"/>
<rect x="315" y="288" width="6" height="6" fill="#66ff90"/>
<rect x="321" y="288" width="6" height="6" fill="#39ffbe"/>
<rect x="327" y="288" width="11" height="6" fill="#00d0ff"/>
<rect x="338" y="288" width="12" height="6" fill="#66ff90"/>
<rect x="350" y="288" width="6" height="6" fill="#19ffde"/>
<rect x="356" y="288" width="5" height="6" fill="#00d0ff"/>
<rect x="361" y="288" width="6" height="6" fill="#19ffde"/>
<rect x="367" y="288" width="12" height="6" fill="#39ffbe"/>
<rect x="379" y="288" width="5" height="6" fill="#66ff90"/>
<rect x="384" y="288" width="12" height="6" fill="#39ffbe"/>
<rect x="396" y="288" width="6" height="6" fill="#19ffde"/>
<rect x="402" y="288" width="6" height="6" fill="#39ffbe"/>
<rect x="408" y="288" width="5" height="6" fill="#0094ff"/>
<rect x="413" y="288" width="6" height="6" fill="#39ffbe"/>
<rect x="419" y="288" width="6" height="6" fill="#00d0ff"/>
<rect x="425" y="288" width="12" height="6" fill="#39ffbe"/>
<rect x="437" y="288" width="5" height="6" fill="#19ffde"/>
<rect x="442" y="288" width="6" height="6" fill="#00d0ff"/>
<rect x="448" y="288" width="6" height="6" fill="#0094ff"/>
<rect x="454" y="288" width="11" height="6" fill="#19ffde"/>
<rect x="465" y="288" width="6" height="6" fill="#00d0ff"/>
<rect x="471" y="288" width="6" height="6" fill="#19ffde"/>
<rect x="107" y="294" width="6" height="6" fill="#00d0ff"/>
<rect x="113" y="294" width="6" height="6" fill="#004cff"/>
<rect x="119" y="294" width="5" height="6" fill="#0094ff"/>
<rect x="124" y="294" width="6" height="6" fill="#a4ff53"/>
<rect x="130" y="294" width="6" height="6" fill="#66ff90"/>
<rect x="136" y="294" width="6" height="6" fill="#00d0ff"/>
<rect x="142" y="294" width="5" height="6" fill="#19ffde"/>
<rect x="147" y="294" width="12" height="6" fill="#39ffbe"/>
<rect x="159" y="294" width="6" height="6" fill="#66ff90"/>
<rect x="165" y="294" width="11" height="6" fill="#19ffde"/>
<rect x="176" y="294" width="12" height="6" fill="#39ffbe"/>
<rect x="188" y="294" width="6" height="6" fill="#66ff90"/>
<rect x="194" y="294" width="11" height="6" fill="#19ffde"/>
<rect x="205" y="294" width="6" height="6" fill="#0094ff"/>
<rect x="211" y="294" width="17" height="6" fill="#39ffbe"/>
<rect x="228" y="294" width="6" height="6" fill="#19ffde"/>
<rect x="234" y="294" width="6" height="6" fill="#39ffbe"/>
<rect x="240" y="294" width="6" height="6" fill="#00d0ff"/>
<rect x="246" y="294" width="11" height="6" fill="#39ffbe"/>
<rect x="257" y="294" width="6" height="6" fill="#0094ff"/>
<rect x="263" y="294" width="12" height="6" fill="#19ffde"/>
<rect x="275" y="294" width="5" height="6" fill="#0000ff"/>
<rect x="280" y="294" width="6" height="6" fill="#0094ff"/>
<rect x="286" y="294" width="6" height="6" fill="#66ff90"/>
<rect x="292" y="294" width="12" height="6" fill="#0000ff"/>
<rect x="304" y="294" width="5" height="6" fill="#0000bf"/>
<rect x="309" y="294" width="6" height="6" fill="#39ffbe"/>
<rect x="315" y="294" width="6" height="6" fill="#ffd700"/>
<rect x="321" y="294" width="11" height="6" fill="#19ffde"/>
<rect x="332" y="294" width="6" height="6" fill="#00d0ff"/>
<rect x="338" y="294" width="6" height="6" fill="#39ffbe"/>
<rect x="344" y="294" width="6" height="6" fill="#66ff90"/>
<rect x="350" y="294" width="6" height="6" fill="#0094ff"/>
<rect x="356" y="294" width="5" height="6" fill="#19ffde"/>
<rect x="361" y="294" width="12" height="6" fill="#00d0ff"/>
<rect x="373" y="294" width="6" height="6" fill="#66ff90"/>
<rect x="379" y="294" width="5" height="6" fill="#19ffde"/>
<rect x="384" y="294" width="6" height="6" fill="#66ff90"/>
<rect x="390" y="294" width="6" height="6" fill="#0094ff"/>
<rect x="396" y="294" width="6" height="6" fill="#00d0ff"/>
<rect x="402" y="294" width="11" height="6" fill="#19ffde"/>
<rect x="413" y="294" width="18" height="6" fill="#39ffbe"/>
<rect x="431" y="294" width="11" height="6" fill="#19ffde"/>
<rect x="442" y="294" width="6" height="6" fill="#66ff90"/>
<rect x="448" y="294" width="6" height="6" fill="#19ffde"/>
<rect x="454" y="294" width="6" height="6" fill="#66ff90"/>
<rect x="460" y="294" width="17" height="6" fill="#39ffbe"/>
<rect x="107" y="300" width="6" height="6" fill="#0094ff"/>
<rect x="113" y="300" width="6" height="6" fill="#004cff"/>
<rect x="119" y="300" width="5" height="6" fill="#0094ff"/>
<rect x="124" y="300" width="6" height="6" fill="#e7ff0f"/>
<rect x="130" y="300" width="6" height="6" fill="#a4ff53"/>
<rect x="136" y="300" width="6" height="6" fill="#19ffde"/>
<rect x="142" y="300" width="11" height="6" fill="#39ffbe"/>
<rect x="153" y="300" width="12" height="6" fill="#00d0ff"/>
<rect x="165" y="300" width="17" height="6" fill="#39ffbe"/>
<rect x="182" y="300" width="6" height="6" fill="#19ffde"/>
<rect x="188" y="300" width="11" height="6" fill="#39ffbe"/>
<rect x="199" y="300" width="6" height="6" fill="#66ff90"/>
<rect x="205" y="300" width="6" height="6" fill="#00d0ff"/>
<rect x="211" y="300" width="6" height="6" fill="#66ff90"/>
<rect x="217" y="300" width="6" height="6" fill="#19ffde"/>
<rect x="223" y="300" width="5" height="6" fill="#39ffbe"/>
<rect x="228" y="300" width="6" height="6" fill="#0094ff"/>
<rect x="234" y="300" width="12" height="6" fill="#19ffde"/>
<rect x="246" y="300" width="6" height="6" fill="#66ff90"/>
<rect x="252" y="300" width="5" height="6" fill="#19ffde"/>
<rect x="257" y="300" width="12" height="6" fill="#66ff90"/>
<rect x="269" y="300" width="6" height="6" fill="#19ffde"/>
<rect x="275" y="300" width="5" height="6" fill="#0094ff"/>
<rect x="280" y="300" width="6" height="6" fill="#004cff"/>
<rect x="286" y="300" width="6" height="6" fill="#00d0ff"/>
<rect x="292" y="300" width="6" height="6" fill="#0000ff"/>
<rect x="298" y="300" width="11" height="6" fill="#0000bf"/>
<rect x="309" y="300" width="6" height="6" fill="#0000ff"/>
<rect x="315" y="300" width="6" height="6" fill="#000080"/>
<rect x="321" y="300" width="11" height="6" fill="#39ffbe"/>
<rect x="332" y="300" width="6" height="6" fill="#66ff90"/>
<rect x="338" y="300" width="6" height="6" fill="#19ffde"/>
<rect x="344" y="300" width="6" height="6" fill="#0094ff"/>
<rect x="350" y="300" width="6" height="6" fill="#19ffde"/>
<rect x="356" y="300" width="5" height="6" fill="#39ffbe"/>
<rect x="361" y="300" width="12" height="6" fill="#19ffde"/>
<rect x="373" y="300" width="6" height="6" fill="#66ff90"/>
<rect x="379" y="300" width="5" height="6" fill="#19ffde"/>
<rect x="384" y="300" width="6" height="6" fill="#ffd700"/>
<rect x="390" y="300" width="6" height="6" fill="#19ffde"/>
<rect x="396" y="300" width="6" height="6" fill="#0094ff"/>
<rect x="402" y="300" width="6" height="6" fill="#66ff90"/>
<rect x="408" y="300" width="5" height="6" fill="#a4ff53"/>
<rect x="413" y="300" width="6" height="6" fill="#19ffde"/>
<rect x="419" y="300" width="18" height="6" fill="#39ffbe"/>
<rect x="437" y="300" width="5" height="6" fill="#19ffde"/>
<rect x="442" y="300" width="6" height="6" fill="#a4ff53"/>
<rect x="448" y="300" width="6" height="6" fill="#39ffbe"/>
<rect x="454" y="300" width="6" height="6" fill="#19ffde"/>
<rect x="460" y="300" width="5" height="6" fill="#00d0ff"/>
<rect x="465" y="300" width="6" height="6" fill="#66ff90"/>
<rect x="471" y="300" width="6" height="6" fill="#a4ff53"/>
<rect x="107" y="306" width="6" height="5" fill="#e7ff0f"/>
<rect x="113" y="306" width="6" height="5" fill="#0000ff"/>
<rect x="119" y="306" width="5" height="5" fill="#000080"/>
<rect x="124" y="306" width="6" height="5" fill="#a4ff53"/>
<rect x="130" y="306" width="23" height="5" fill="#19ffde"/>
<rect x="153" y="306" width="12" height="5" fill="#39ffbe"/>
<rect x="165" y="306" width="6" height="5" fill="#004cff"/>
<rect x="171" y="306" width="5" height="5" fill="#66ff90"/>
<rect x="176" y="306" width="6" height="5" fill="#00d0ff"/>
<rect x="182" y="306" width="6" height="5" fill="#66ff90"/>
<rect x="188" y="306" width="6" height="5" fill="#00d0ff"/>
<rect x="194" y="306" width="5" height="5" fill="#19ffde"/>
<rect x="199" y="306" width="12" height="5" fill="#0094ff"/>
<rect x="211" y="306" width="6" height="5" fill="#a4ff53"/>
<rect x="217" y="306" width="6" height="5" fill="#00d0ff"/>
<rect x="223" y="306" width="5" height="5" fill="#66ff90"/>
<rect x="228" y="306" width="12" height="5" fill="#19ffde"/>
<rect x="240" y="306" width="6" height="5" fill="#39ffbe"/>
<rect x="246" y="306" width="6" height="5" fill="#00d0ff"/>
<rect x="252" y="306" width="11" height="5" fill="#19ffde"/>
<rect x="263" y="306" width="6" height="5" fill="#39ffbe"/>
<rect x="269" y="306" width="6" height="5" fill="#19ffde"/>
<rect x="275" y="306" width="5" height="5" fill="#000080"/>
<rect x="280" y="306" width="6" height="5" fill="#0000ff"/>
<rect x="286" y="306" width="6" height="5" fill="#ffd700"/>
<rect x="292" y="306" width="6" height="5" fill="#0000ff"/>
<rect x="298" y="306" width="6" height="5" fill="#004cff"/>
<rect x="304" y="306" width="11" height="5" fill="#0000ff"/>
<rect x="315" y="306" width="6" height="5" fill="#004cff"/>
<rect x="321" y="306" width="6" height="5" fill="#ff6800"/>
<rect x="327" y="306" width="5" height="5" fill="#66ff90"/>
<rect x="332" y="306" width="6" height="5" fill="#39ffbe"/>
<rect x="338" y="306" width="6" height="5" fill="#000080"/>
<rect x="344" y="306" width="6" height="5" fill="#19ffde"/>
<rect x="350" y="306" width="6" height="5" fill="#00d0ff"/>
<rect x="356" y="306" width="5" height="5" fill="#66ff90"/>
<rect x="361" y="306" width="6" height="5" fill="#39ffbe"/>
<rect x="367" y="306" width="12" height="5" fill="#19ffde"/>
<rect x="379" y="306" width="5" height="5" fill="#39ffbe"/>
<rect x="384" y="306" width="6" height="5" fill="#0094ff"/>
<rect x="390" y="306" width="6" height="5" fill="#19ffde"/>
<rect x="396" y="306" width="6" height="5" fill="#66ff90"/>
<rect x="402" y="306" width="6" height="5" fill="#39ffbe"/>
<rect x="408" y="306" width="11" height="5" fill="#19ffde"/>
<rect x="419" y="306" width="6" height="5" fill="#39ffbe"/>
<rect x="425" y="306" width="6" height="5" fill="#66ff90"/>
<rect x="431" y="306" width="6" height="5" fill="#39ffbe"/>
<rect x="437" y="306" width="5" height="5" fill="#0094ff"/>
<rect x="442" y="306" width="6" height="5" fill="#66ff90"/>
<rect x="448" y="306" width="6" height="5" fill="#39ffbe"/>
<rect x="454" y="306" width="6" height="5" fill="#19ffde"/>
<rect x="460" y="306" width="17" height="5" fill="#39ffbe"/>
<rect x="107" y="311" width="6" height="6" fill="#ff2500"/>
<rect x="113" y="311" width="6" height="6" fill="#0094ff"/>
<rect x="119" y="311" width="5" height="6" fill="#000080"/>
<rect x="124" y="311" width="6" height="6" fill="#19ffde"/>
<rect x="130" y="311" width="6" height="6" fill="#66ff90"/>
<rect x="136" y="311" width="6" height="6" fill="#39ffbe"/>
<rect x="142" y="311" width="5" height="6" fill="#00d0ff"/>
<rect x="147" y="311" width="6" height="6" fill="#39ffbe"/>
<rect x="153" y="311" width="6" height="6" fill="#19ffde"/>
<rect x="159" y="311" width="6" height="6" fill="#a4ff53"/>
<rect x="165" y="311" width="6" height="6" fill="#00d0ff"/>
<rect x="171" y="311" width="17" height="6" fill="#19ffde"/>
<rect x="188" y="311" width="6" height="6" fill="#39ffbe"/>
<rect x="194" y="311" width="5" height="6" fill="#66ff90"/>
<rect x="199" y="311" width="6" height="6" fill="#004cff"/>
<rect x="205" y="311" width="6" height="6" fill="#00d0ff"/>
<rect x="211" y="311" width="6" height="6" fill="#000080"/>
<rect x="217" y="311" width="6" height="6" fill="#a4ff53"/>
<rect x="223" y="311" width="5" height="6" fill="#39ffbe"/>
<rect x="228" y="311" width="12" height="6" fill="#19ffde"/>
<rect x="240" y="311" width="6" height="6" fill="#39ffbe"/>
<rect x="246" y="311" width="6" height="6" fill="#19ffde"/>
<rect x="252" y="311" width="17" height="6" fill="#00d0ff"/>
<rect x="269" y="311" width="11" height="6" fill="#39ffbe"/>
<rect x="280" y="311" width="6" height="6" fill="#0094ff"/>
<rect x="286" y="311" width="6" height="6" fill="#39ffbe"/>
<rect x="292" y="311" width="6" height="6" fill="#19ffde"/>
<rect x="298" y="311" width="6" height="6" fill="#004cff"/>
<rect x="304" y="311" width="5" height="6" fill="#000080"/>
<rect x="309" y="311" width="12" height="6" fill="#0000ff"/>
<rect x="321" y="311" width="6" height="6" fill="#e7ff0f"/>
<rect x="327" y="311" width="5" height="6" fill="#ffab00"/>
<rect x="332" y="311" width="6" height="6" fill="#a4ff53"/>
<rect x="338" y="311" width="6" height="6" fill="#000080"/>
<rect x="344" y="311" width="6" height="6" fill="#39ffbe"/>
<rect x="350" y="311" width="11" height="6" fill="#19ffde"/>
<rect x="361" y="311" width="6" height="6" fill="#39ffbe"/>
<rect x="367" y="311" width="12" height="6" fill="#00d0ff"/>
<rect x="379" y="311" width="5" height="6" fill="#19ffde"/>
<rect x="384" y="311" width="6" height="6" fill="#39ffbe"/>
<rect x="390" y="311" width="6" height="6" fill="#19ffde"/>
<rect x="396" y="311" width="6" height="6" fill="#000080"/>
<rect x="402" y="311" width="6" height="6" fill="#a4ff53"/>
<rect x="408" y="311" width="5" height="6" fill="#00d0ff"/>
<rect x="413" y="311" width="6" height="6" fill="#39ffbe"/>
<rect x="419" y="311" width="23" height="6" fill="#19ffde"/>
<rect x="442" y="311" width="6" height="6" fill="#39ffbe"/>
<rect x="448" y="311" width="6" height="6" fill="#19ffde"/>
<rect x="454" y="311" width="6" height="6" fill="#39ffbe"/>
<rect x="460" y="311" width="5" height="6" fill="#19ffde"/>
<rect x="465" y="311" width="6" height="6" fill="#39ffbe"/>
<rect x="471" y="311" width="6" height="6" fill="#e7ff0f"/>
<rect x="107" y="317" width="6" height="6" fill="#000080"/>
<rect x="113" y="317" width="6" height="6" fill="#00d0ff"/>
<rect x="119" y="317" width="5" height="6" fill="#a4ff53"/>
<rect x="124" y="317" width="6" height="6" fill="#66ff90"/>
<rect x="130" y="317" width="17" height="6" fill="#19ffde"/>
<rect x="147" y="317" width="6" height="6" fill="#39ffbe"/>
<rect x="153" y="317" width="6" height="6" fill="#0094ff"/>
<rect x="159" y="317" width="6" height="6" fill="#00d0ff"/>
<rect x="165" y="317" width="6" height="6" fill="#39ffbe"/>
<rect x="171" y="317" width="5" height="6" fill="#19ffde"/>
<rect x="176" y="317" width="6" height="6" fill="#66ff90"/>
<rect x="182" y="317" width="6" height="6" fill="#19ffde"/>
<rect x="188" y="317" width="11" height="6" fill="#39ffbe"/>
<rect x="199" y="317" width="6" height="6" fill="#0094ff"/>
<rect x="205" y="317" width="6" height="6" fill="#39ffbe"/>
<rect x="211" y="317" width="6" height="6" fill="#66ff90"/>
<rect x="217" y="317" width="6" height="6" fill="#19ffde"/>
<rect x="223" y="317" width="5" height="6" fill="#00d0ff"/>
<rect x="228" y="317" width="6" height="6" fill="#39ffbe"/>
<rect x="234" y="317" width="6" height="6" fill="#00d0ff"/>
<rect x="240" y="317" width="6" height="6" fill="#19ffde"/>
<rect x="246" y="317" width="11" height="6" fill="#0094ff"/>
<rect x="257" y="317" width="12" height="6" fill="#39ffbe"/>
<rect x="269" y="317" width="6" height="6" fill="#19ffde"/>
<rect x="275" y="317" width="5" height="6" fill="#39ffbe"/>
<rect x="280" y="317" width="6" height="6" fill="#0000ff"/>
<rect x="286" y="317" width="6" height="6" fill="#004cff"/>
<rect x="292" y="317" width="12" height="6" fill="#000080"/>
<rect x="304" y="317" width="5" height="6" fill="#00d0ff"/>
<rect x="309" y="317" width="18" height="6" fill="#0000ff"/>
<rect x="327" y="317" width="11" height="6" fill="#000080"/>
<rect x="338" y="317" width="6" height="6" fill="#66ff90"/>
<rect x="344" y="317" width="6" height="6" fill="#000080"/>
<rect x="350" y="317" width="6" height="6" fill="#19ffde"/>
<rect x="356" y="317" width="11" height="6" fill="#39ffbe"/>
<rect x="367" y="317" width="6" height="6" fill="#66ff90"/>
<rect x="373" y="317" width="6" height="6" fill="#00d0ff"/>
<rect x="379" y="317" width="5" height="6" fill="#66ff90"/>
<rect x="384" y="317" width="6" height="6" fill="#39ffbe"/>
<rect x="390" y="317" width="6" height="6" fill="#66ff90"/>
<rect x="396" y="317" width="6" height="6" fill="#39ffbe"/>
<rect x="402" y="317" width="6" height="6" fill="#0094ff"/>
<rect x="408" y="317" width="5" height="6" fill="#66ff90"/>
<rect x="413" y="317" width="6" height="6" fill="#39ffbe"/>
<rect x="419" y="317" width="6" height="6" fill="#19ffde"/>
<rect x="425" y="317" width="12" height="6" fill="#39ffbe"/>
<rect x="437" y="317" width="5" height="6" fill="#19ffde"/>
<rect x="442" y="317" width="6" height="6" fill="#a4ff53"/>
<rect x="448" y="317" width="6" height="6" fill="#19ffde"/>
<rect x="454" y="317" width="11" height="6" fill="#00d0ff"/>
<rect x="465" y="317" width="6" height="6" fill="#39ffbe"/>
<rect x="471" y="317" width="6" height="6" fill="#e7ff0f"/>
<rect x="107" y="323" width="6" height="6" fill="#39ffbe"/>
<rect x="113" y="323" width="6" height="6" fill="#a4ff53"/>
<rect x="119" y="323" width="5" height="6" fill="#39ffbe"/>
<rect x="124" y="323" width="6" height="6" fill="#a4ff53"/>
<rect x="130" y="323" width="12" height="6" fill="#66ff90"/>
<rect x="142" y="323" width="5" height="6" fill="#00d0ff"/>
<rect x="147" y="323" width="6" height="6" fill="#39ffbe"/>
<rect x="153" y="323" width="12" height="6" fill="#19ffde"/>
<rect x="165" y="323" width="6" height="6" fill="#39ffbe"/>
<rect x="171" y="323" width="11" height="6" fill="#19ffde"/>
<rect x="182" y="323" width="6" height="6" fill="#39ffbe"/>
<rect x="188" y="323" width="6" height="6" fill="#19ffde"/>
<rect x="194" y="323" width="5" height="6" fill="#66ff90"/>
<rect x="199" y="323" width="6" height="6" fill="#e7ff0f"/>
<rect x="205" y="323" width="12" height="6" fill="#39ffbe"/>
<rect x="217" y="323" width="17" height="6" fill="#00d0ff"/>
<rect x="234" y="323" width="6" height="6" fill="#39ffbe"/>
<rect x="240" y="323" width="6" height="6" fill="#19ffde"/>
<rect x="246" y="323" width="23" height="6" fill="#39ffbe"/>
<rect x="269" y="323" width="6" height="6" fill="#00d0ff"/>
<rect x="275" y="323" width="11" height="6" fill="#0094ff"/>
<rect x="286" y="323" width="6" height="6" fill="#004cff"/>
<rect x="292" y="323" width="12" height="6" fill="#000080"/>
<rect x="304" y="323" width="5" height="6" fill="#66ff90"/>
<rect x="309" y="323" width="6" height="6" fill="#000080"/>
<rect x="315" y="323" width="6" height="6" fill="#39ffbe"/>
<rect x="321" y="323" width="11" height="6" fill="#0000ff"/>
<rect x="332" y="323" width="6" height="6" fill="#004cff"/>
<rect x="338" y="323" width="6" height="6" fill="#000080"/>
<rect x="344" y="323" width="6" height="6" fill="#19ffde"/>
<rect x="350" y="323" width="6" height="6" fill="#66ff90"/>
<rect x="356" y="323" width="5" height="6" fill="#39ffbe"/>
<rect x="361" y="323" width="6" height="6" fill="#00d0ff"/>
<rect x="367" y="323" width="12" height="6" fill="#004cff"/>
<rect x="379" y="323" width="5" height="6" fill="#19ffde"/>
<rect x="384" y="323" width="6" height="6" fill="#00d0ff"/>
<rect x="390" y="323" width="6" height="6" fill="#39ffbe"/>
<rect x="396" y="323" width="6" height="6" fill="#19ffde"/>
<rect x="402" y="323" width="6" height="6" fill="#39ffbe"/>
<rect x="408" y="323" width="5" height="6" fill="#19ffde"/>
<rect x="413" y="323" width="6" height="6" fill="#00d0ff"/>
<rect x="419" y="323" width="12" height="6" fill="#39ffbe"/>
<rect x="431" y="323" width="6" height="6" fill="#00d0ff"/>
<rect x="437" y="323" width="5" height="6" fill="#19ffde"/>
<rect x="442" y="323" width="6" height="6" fill="#00d0ff"/>
<rect x="448" y="323" width="12" height="6" fill="#39ffbe"/>
<rect x="460" y="323" width="5" height="6" fill="#00d0ff"/>
<rect x="465" y="323" width="6" height="6" fill="#000080"/>
<rect x="471" y="323" width="6" height="6" fill="#e7ff0f"/>
<rect x="107" y="329" width="6" height="6" fill="#66ff90"/>
<rect x="113" y="329" width="6" height="6" fill="#e7ff0f"/>
<rect x="119" y="329" width="5" height="6" fill="#39ffbe"/>
<rect x="124" y="329" width="6" height="6" fill="#66ff90"/>
<rect x="130" y="329" width="6" height="6" fill="#00d0ff"/>
<rect x="136" y="329" width="6" height="6" fill="#19ffde"/>
<rect x="142" y="329" width="5" height="6" fill="#66ff90"/>
<rect x="147" y="329" width="6" height="6" fill="#a4ff53"/>
<rect x="153" y="329" width="12" height="6" fill="#39ffbe"/>
<rect x="165" y="329" width="6" height="6" fill="#19ffde"/>
<rect x="171" y="329" width="5" height="6" fill="#39ffbe"/>
<rect x="176" y="329" width="12" height="6" fill="#66ff90"/>
<rect x="188" y="329" width="6" height="6" fill="#00d0ff"/>
<rect x="194" y="329" width="5" height="6" fill="#19ffde"/>
<rect x="199" y="329" width="6" height="6" fill="#39ffbe"/>
<rect x="205" y="329" width="12" height="6" fill="#66ff90"/>
<rect x="217" y="329" width="6" height="6" fill="#19ffde"/>
<rect x="223" y="329" width="5" height="6" fill="#00d0ff"/>
<rect x="228" y="329" width="12" height="6" fill="#000080"/>
<rect x="240" y="329" width="6" height="6" fill="#66ff90"/>
<rect x="246" y="329" width="6" height="6" fill="#19ffde"/>
<rect x="252" y="329" width="5" height="6" fill="#a4ff53"/>
<rect x="257" y="329" width="6" height="6" fill="#00d0ff"/>
<rect x="263" y="329" width="12" height="6" fill="#66ff90"/>
<rect x="275" y="329" width="5" height="6" fill="#19ffde"/>
<rect x="280" y="329" width="6" height="6" fill="#39ffbe"/>
<rect x="286" y="329" width="6" height="6" fill="#19ffde"/>
<rect x="292" y="329" width="12" height="6" fill="#e7ff0f"/>
<rect x="304" y="329" width="5" height="6" fill="#a4ff53"/>
<rect x="309" y="329" width="12" height="6" fill="#000080"/>
<rect x="321" y="329" width="6" height="6" fill="#00d0ff"/>
<rect x="327" y="329" width="5" height="6" fill="#004cff"/>
<rect x="332" y="329" width="6" height="6" fill="#000080"/>
<rect x="338" y="329" width="6" height="6" fill="#39ffbe"/>
<rect x="344" y="329" width="12" height="6" fill="#000080"/>
<rect x="356" y="329" width="5" height="6" fill="#66ff90"/>
<rect x="361" y="329" width="12" height="6" fill="#00d0ff"/>
<rect x="373" y="329" width="6" height="6" fill="#0094ff"/>
<rect x="379" y="329" width="11" height="6" fill="#19ffde"/>
<rect x="390" y="329" width="6" height="6" fill="#00d0ff"/>
<rect x="396" y="329" width="6" height="6" fill="#19ffde"/>
<rect x="402" y="329" width="6" height="6" fill="#00d0ff"/>
<rect x="408" y="329" width="5" height="6" fill="#19ffde"/>
<rect x="413" y="329" width="6" height="6" fill="#0094ff"/>
<rect x="419" y="329" width="6" height="6" fill="#ffab00"/>
<rect x="425" y="329" width="6" height="6" fill="#0094ff"/>
<rect x="431" y="329" width="6" height="6" fill="#39ffbe"/>
<rect x="437" y="329" width="5" height="6" fill="#19ffde"/>
<rect x="442" y="329" width="6" height="6" fill="#a4ff53"/>
<rect x="448" y="329" width="6" height="6" fill="#39ffbe"/>
<rect x="454" y="329" width="6" height="6" fill="#a4ff53"/>
<rect x="460" y="329" width="5" height="6" fill="#19ffde"/>
<rect x="465" y="329" width="6" height="6" fill="#39ffbe"/>
<rect x="471" y="329" width="6" height="6" fill="#a4ff53"/>
<rect x="107" y="335" width="6" height="5" fill="#a4ff53"/>
<rect x="113" y="335" width="17" height="5" fill="#39ffbe"/>
<rect x="130" y="335" width="12" height="5" fill="#000080"/>
<rect x="142" y="335" width="5" height="5" fill="#e7ff0f"/>
<rect x="147" y="335" width="18" height="5" fill="#000080"/>
<rect x="165" y="335" width="17" height="5" fill="#004cff"/>
<rect x="182" y="335" width="6" height="5" fill="#0094ff"/>
<rect x="188" y="335" width="6" height="5" fill="#19ffde"/>
<rect x="194" y="335" width="5" height="5" fill="#00d0ff"/>
<rect x="199" y="335" width="6" height="5" fill="#0094ff"/>
<rect x="205" y="335" width="12" height="5" fill="#00d0ff"/>
<rect x="217" y="335" width="6" height="5" fill="#000080"/>
<rect x="223" y="335" width="5" height="5" fill="#00d0ff"/>
<rect x="228" y="335" width="6" height="5" fill="#66ff90"/>
<rect x="234" y="335" width="6" height="5" fill="#39ffbe"/>
<rect x="240" y="335" width="6" height="5" fill="#00d0ff"/>
<rect x="246" y="335" width="6" height="5" fill="#19ffde"/>
<rect x="252" y="335" width="11" height="5" fill="#000080"/>
<rect x="263" y="335" width="6" height="5" fill="#19ffde"/>
<rect x="269" y="335" width="11" height="5" fill="#000080"/>
<rect x="280" y="335" width="6" height="5" fill="#0094ff"/>
<rect x="286" y="335" width="6" height="5" fill="#00d0ff"/>
<rect x="292" y="335" width="6" height="5" fill="#000080"/>
<rect x="298" y="335" width="6" height="5" fill="#ffd700"/>
<rect x="304" y="335" width="5" height="5" fill="#66ff90"/>
<rect x="309" y="335" width="6" height="5" fill="#00d0ff"/>
<rect x="315" y="335" width="6" height="5" fill="#19ffde"/>
<rect x="321" y="335" width="40" height="5" fill="#000080"/>
<rect x="361" y="335" width="6" height="5" fill="#19ffde"/>
<rect x="367" y="335" width="6" height="5" fill="#0094ff"/>
<rect x="373" y="335" width="6" height="5" fill="#004cff"/>
<rect x="379" y="335" width="11" height="5" fill="#000080"/>
<rect x="390" y="335" width="6" height="5" fill="#39ffbe"/>
<rect x="396" y="335" width="6" height="5" fill="#19ffde"/>
<rect x="402" y="335" width="6" height="5" fill="#39ffbe"/>
<rect x="408" y="335" width="23" height="5" fill="#000080"/>
<rect x="431" y="335" width="6" height="5" fill="#004cff"/>
<rect x="437" y="335" width="11" height="5" fill="#0000ff"/>
<rect x="448" y="335" width="23" height="5" fill="#004cff"/>
<rect x="471" y="335" width="6" height="5" fill="#000080"/>
<rect x="107" y="340" width="6" height="6" fill="#ffd700"/>
<rect x="113" y="340" width="6" height="6" fill="#00d0ff"/>
<rect x="119" y="340" width="5" height="6" fill="#19ffde"/>
<rect x="124" y="340" width="6" height="6" fill="#0094ff"/>
<rect x="130" y="340" width="6" height="6" fill="#66ff90"/>
<rect x="136" y="340" width="6" height="6" fill="#19ffde"/>
<rect x="142" y="340" width="5" height="6" fill="#66ff90"/>
<rect x="147" y="340" width="6" height="6" fill="#19ffde"/>
<rect x="153" y="340" width="6" height="6" fill="#66ff90"/>
<rect x="159" y="340" width="6" height="6" fill="#39ffbe"/>
<rect x="165" y="340" width="6" height="6" fill="#66ff90"/>
<rect x="171" y="340" width="5" height="6" fill="#00d0ff"/>
<rect x="176" y="340" width="6" height="6" fill="#004cff"/>
<rect x="182" y="340" width="12" height="6" fill="#0000ff"/>
<rect x="194" y="340" width="5" height="6" fill="#004cff"/>
<rect x="199" y="340" width="6" height="6" fill="#000080"/>
<rect x="205" y="340" width="6" height="6" fill="#19ffde"/>
<rect x="211" y="340" width="12" height="6" fill="#39ffbe"/>
<rect x="223" y="340" width="5" height="6" fill="#0094ff"/>
<rect x="228" y="340" width="6" height="6" fill="#19ffde"/>
<rect x="234" y="340" width="6" height="6" fill="#39ffbe"/>
<rect x="240" y="340" width="6" height="6" fill="#19ffde"/>
<rect x="246" y="340" width="6" height="6" fill="#0094ff"/>
<rect x="252" y="340" width="5" height="6" fill="#39ffbe"/>
<rect x="257" y="340" width="6" height="6" fill="#00d0ff"/>
<rect x="263" y="340" width="6" height="6" fill="#000080"/>
<rect x="269" y="340" width="6" height="6" fill="#19ffde"/>
<rect x="275" y="340" width="5" height="6" fill="#000080"/>
<rect x="280" y="340" width="6" height="6" fill="#00d0ff"/>
<rect x="286" y="340" width="6" height="6" fill="#66ff90"/>
<rect x="292" y="340" width="6" height="6" fill="#19ffde"/>
<rect x="298" y="340" width="6" height="6" fill="#000080"/>
<rect x="304" y="340" width="5" height="6" fill="#66ff90"/>
<rect x="309" y="340" width="6" height="6" fill="#19ffde"/>
<rect x="315" y="340" width="17" height="6" fill="#66ff90"/>
<rect x="332" y="340" width="6" height="6" fill="#39ffbe"/>
<rect x="338" y="340" width="6" height="6" fill="#66ff90"/>
<rect x="344" y="340" width="17" height="6" fill="#000080"/>
<rect x="361" y="340" width="6" height="6" fill="#e7ff0f"/>
<rect x="367" y="340" width="6" height="6" fill="#00d0ff"/>
<rect x="373" y="340" width="6" height="6" fill="#0094ff"/>
<rect x="379" y="340" width="5" height="6" fill="#39ffbe"/>
<rect x="384" y="340" width="6" height="6" fill="#004cff"/>
<rect x="390" y="340" width="12" height="6" fill="#19ffde"/>
<rect x="402" y="340" width="6" height="6" fill="#39ffbe"/>
<rect x="408" y="340" width="17" height="6" fill="#66ff90"/>
<rect x="425" y="340" width="6" height="6" fill="#000080"/>
<rect x="431" y="340" width="6" height="6" fill="#39ffbe"/>
<rect x="437" y="340" width="5" height="6" fill="#ffd700"/>
<rect x="442" y="340" width="6" height="6" fill="#00d0ff"/>
<rect x="448" y="340" width="23" height="6" fill="#004cff"/>
<rect x="471" y="340" width="6" height="6" fill="#66ff90"/>
<rect x="107" y="346" width="6" height="6" fill="#e7ff0f"/>
<rect x="113" y="346" width="6" height="6" fill="#19ffde"/>
<rect x="119" y="346" width="5" height="6" fill="#0094ff"/>
<rect x="124" y="346" width="6" height="6" fill="#39ffbe"/>
<rect x="130" y="346" width="6" height="6" fill="#19ffde"/>
<rect x="136" y="346" width="6" height="6" fill="#00d0ff"/>
<rect x="142" y="346" width="5" height="6" fill="#19ffde"/>
<rect x="147" y="346" width="24" height="6" fill="#39ffbe"/>
<rect x="171" y="346" width="5" height="6" fill="#a4ff53"/>
<rect x="176" y="346" width="6" height="6" fill="#66ff90"/>
<rect x="182" y="346" width="12" height="6" fill="#0094ff"/>
<rect x="194" y="346" width="5" height="6" fill="#39ffbe"/>
<rect x="199" y="346" width="6" height="6" fill="#66ff90"/>
<rect x="205" y="346" width="18" height="6" fill="#19ffde"/>
<rect x="223" y="346" width="5" height="6" fill="#00d0ff"/>
<rect x="228" y="346" width="18" height="6" fill="#0094ff"/>
<rect x="246" y="346" width="11" height="6" fill="#39ffbe"/>
<rect x="257" y="346" width="6" height="6" fill="#19ffde"/>
<rect x="263" y="346" width="6" height="6" fill="#00d0ff"/>
<rect x="269" y="346" width="6" height="6" fill="#19ffde"/>
<rect x="275" y="346" width="5" height="6" fill="#0094ff"/>
<rect x="280" y="346" width="6" height="6" fill="#000080"/>
<rect x="286" y="346" width="6" height="6" fill="#004cff"/>
<rect x="292" y="346" width="6" height="6" fill="#00d0ff"/>
<rect x="298" y="346" width="6" height="6" fill="#66ff90"/>
<rect x="304" y="346" width="5" height="6" fill="#39ffbe"/>
<rect x="309" y="346" width="6" height="6" fill="#000080"/>
<rect x="315" y="346" width="6" height="6" fill="#66ff90"/>
<rect x="321" y="346" width="6" height="6" fill="#0094ff"/>
<rect x="327" y="346" width="5" height="6" fill="#66ff90"/>
<rect x="332" y="346" width="6" height="6" fill="#00d0ff"/>
<rect x="338" y="346" width="12" height="6" fill="#19ffde"/>
<rect x="350" y="346" width="6" height="6" fill="#66ff90"/>
<rect x="356" y="346" width="5" height="6" fill="#a4ff53"/>
<rect x="361" y="346" width="6" height="6" fill="#19ffde"/>
<rect x="367" y="346" width="6" height="6" fill="#39ffbe"/>
<rect x="373" y="346" width="6" height="6" fill="#19ffde"/>
<rect x="379" y="346" width="5" height="6" fill="#66ff90"/>
<rect x="384" y="346" width="6" height="6" fill="#19ffde"/>
<rect x="390" y="346" width="6" height="6" fill="#39ffbe"/>
<rect x="396" y="346" width="6" height="6" fill="#0094ff"/>
<rect x="402" y="346" width="23" height="6" fill="#19ffde"/>
<rect x="425" y="346" width="6" height="6" fill="#000080"/>
<rect x="431" y="346" width="6" height="6" fill="#39ffbe"/>
<rect x="437" y="346" width="11" height="6" fill="#66ff90"/>
<rect x="448" y="346" width="6" height="6" fill="#a4ff53"/>
<rect x="454" y="346" width="6" height="6" fill="#0094ff"/>
<rect x="460" y="346" width="11" height="6" fill="#0000ff"/>
<rect x="471" y="346" width="6" height="6" fill="#000080"/>
<rect x="107" y="352" width="6" height="6" fill="#e7ff0f"/>
<rect x="113" y="352" width="6" height="6" fill="#00d0ff"/>
<rect x="119" y="352" width="5" height="6" fill="#66ff90"/>
<rect x="124" y="352" width="12" height="6" fill="#39ffbe"/>
<rect x="136" y="352" width="6" height="6" fill="#66ff90"/>
<rect x="142" y="352" width="5" height="6" fill="#00d0ff"/>
<rect x="147" y="352" width="12" height="6" fill="#19ffde"/>
<rect x="159" y="352" width="6" height="6" fill="#39ffbe"/>
<rect x="165" y="352" width="6" height="6" fill="#0094ff"/>
<rect x="171" y="352" width="5" height="6" fill="#00d0ff"/>
<rect x="176" y="352" width="6" height="6" fill="#a4ff53"/>
<rect x="182" y="352" width="6" height="6" fill="#19ffde"/>
<rect x="188" y="352" width="6" height="6" fill="#004cff"/>
<rect x="194" y="352" width="5" height="6" fill="#a4ff53"/>
<rect x="199" y="352" width="6" height="6" fill="#0094ff"/>
<rect x="205" y="352" width="6" height="6" fill="#19ffde"/>
<rect x="211" y="352" width="12" height="6" fill="#000080"/>
<rect x="223" y="352" width="5" height="6" fill="#19ffde"/>
<rect x="228" y="352" width="12" height="6" fill="#00d0ff"/>
<rect x="240" y="352" width="6" height="6" fill="#19ffde"/>
<rect x="246" y="352" width="6" height="6" fill="#00d0ff"/>
<rect x="252" y="352" width="5" height="6" fill="#19ffde"/>
<rect x="257" y="352" width="6" height="6" fill="#00d0ff"/>
<rect x="263" y="352" width="6" height="6" fill="#19ffde"/>
<rect x="269" y="352" width="11" height="6" fill="#00d0ff"/>
<rect x="280" y="352" width="12" height="6" fill="#004cff"/>
<rect x="292" y="352" width="6" height="6" fill="#19ffde"/>
<rect x="298" y="352" width="6" height="6" fill="#0094ff"/>
<rect x="304" y="352" width="11" height="6" fill="#19ffde"/>
<rect x="315" y="352" width="6" height="6" fill="#39ffbe"/>
<rect x="321" y="352" width="6" height="6" fill="#19ffde"/>
<rect x="327" y="352" width="5" height="6" fill="#66ff90"/>
<rect x="332" y="352" width="6" height="6" fill="#19ffde"/>
<rect x="338" y="352" width="6" height="6" fill="#00d0ff"/>
<rect x="344" y="352" width="6" height="6" fill="#39ffbe"/>
<rect x="350" y="352" width="6" height="6" fill="#19ffde"/>
<rect x="356" y="352" width="5" height="6" fill="#0094ff"/>
<rect x="361" y="352" width="6" height="6" fill="#39ffbe"/>
<rect x="367" y="352" width="12" height="6" fill="#19ffde"/>
<rect x="379" y="352" width="5" height="6" fill="#a4ff53"/>
<rect x="384" y="352" width="6" height="6" fill="#19ffde"/>
<rect x="390" y="352" width="6" height="6" fill="#00d0ff"/>
<rect x="396" y="352" width="6" height="6" fill="#39ffbe"/>
<rect x="402" y="352" width="6" height="6" fill="#00d0ff"/>
<rect x="408" y="352" width="5" height="6" fill="#39ffbe"/>
<rect x="413" y="352" width="6" height="6" fill="#00d0ff"/>
<rect x="419" y="352" width="6" height="6" fill="#a4ff53"/>
<rect x="425" y="352" width="17" height="6" fill="#19ffde"/>
<rect x="442" y="352" width="18" height="6" fill="#39ffbe"/>
<rect x="460" y="352" width="11" height="6" fill="#0000ff"/>
<rect x="471" y="352" width="6" height="6" fill="#ff6800"/>
<rect x="107" y="358" width="6" height="5" fill="#ffd700"/>
<rect x="113" y="358" width="6" height="5" fill="#0000ff"/>
<rect x="119" y="358" width="5" height="5" fill="#00d0ff"/>
<rect x="124" y="358" width="6" height="5" fill="#19ffde"/>
<rect x="130" y="358" width="6" height="5" fill="#39ffbe"/>
<rect x="136" y="358" width="11" height="5" fill="#19ffde"/>
<rect x="147" y="358" width="6" height="5" fill="#39ffbe"/>
<rect x="153" y="358" width="6" height="5" fill="#66ff90"/>
<rect x="159" y="358" width="6" height="5" fill="#19ffde"/>
<rect x="165" y="358" width="17" height="5" fill="#39ffbe"/>
<rect x="182" y="358" width="6" height="5" fill="#00d0ff"/>
<rect x="188" y="358" width="6" height="5" fill="#004cff"/>
<rect x="194" y="358" width="5" height="5" fill="#19ffde"/>
<rect x="199" y="358" width="6" height="5" fill="#004cff"/>
<rect x="205" y="358" width="6" height="5" fill="#000080"/>
<rect x="211" y="358" width="6" height="5" fill="#39ffbe"/>
<rect x="217" y="358" width="6" height="5" fill="#19ffde"/>
<rect x="223" y="358" width="5" height="5" fill="#00d0ff"/>
<rect x="228" y="358" width="6" height="5" fill="#39ffbe"/>
<rect x="234" y="358" width="6" height="5" fill="#19ffde"/>
<rect x="240" y="358" width="6" height="5" fill="#0094ff"/>
<rect x="246" y="358" width="11" height="5" fill="#19ffde"/>
<rect x="257" y="358" width="6" height="5" fill="#0094ff"/>
<rect x="263" y="358" width="6" height="5" fill="#19ffde"/>
<rect x="269" y="358" width="6" height="5" fill="#39ffbe"/>
<rect x="275" y="358" width="5" height="5" fill="#000080"/>
<rect x="280" y="358" width="6" height="5" fill="#0000ff"/>
<rect x="286" y="358" width="12" height="5" fill="#19ffde"/>
<rect x="298" y="358" width="17" height="5" fill="#39ffbe"/>
<rect x="315" y="358" width="17" height="5" fill="#19ffde"/>
<rect x="332" y="358" width="12" height="5" fill="#00d0ff"/>
<rect x="344" y="358" width="6" height="5" fill="#19ffde"/>
<rect x="350" y="358" width="6" height="5" fill="#39ffbe"/>
<rect x="356" y="358" width="5" height="5" fill="#a4ff53"/>
<rect x="361" y="358" width="12" height="5" fill="#19ffde"/>
<rect x="373" y="358" width="6" height="5" fill="#39ffbe"/>
<rect x="379" y="358" width="5" height="5" fill="#66ff90"/>
<rect x="384" y="358" width="6" height="5" fill="#39ffbe"/>
<rect x="390" y="358" width="6" height="5" fill="#19ffde"/>
<rect x="396" y="358" width="6" height="5" fill="#00d0ff"/>
<rect x="402" y="358" width="6" height="5" fill="#0094ff"/>
<rect x="408" y="358" width="5" height="5" fill="#19ffde"/>
<rect x="413" y="358" width="6" height="5" fill="#00d0ff"/>
<rect x="419" y="358" width="6" height="5" fill="#000080"/>
<rect x="425" y="358" width="6" height="5" fill="#39ffbe"/>
<rect x="431" y="358" width="11" height="5" fill="#00d0ff"/>
<rect x="442" y="358" width="6" height="5" fill="#39ffbe"/>
<rect x="448" y="358" width="6" height="5" fill="#00d0ff"/>
<rect x="454" y="358" width="6" height="5" fill="#39ffbe"/>
<rect x="460" y="358" width="11" height="5" fill="#0000ff"/>
<rect x="471" y="358" width="6" height="5" fill="#19ffde"/>
<rect x="107" y="363" width="6" height="6" fill="#e7ff0f"/>
<rect x="113" y="363" width="6" height="6" fill="#0000ff"/>
<rect x="119" y="363" width="5" height="6" fill="#00d0ff"/>
<rect x="124" y="363" width="6" height="6" fill="#66ff90"/>
<rect x="130" y="363" width="6" height="6" fill="#a4ff53"/>
<rect x="136" y="363" width="6" height="6" fill="#19ffde"/>
<rect x="142" y="363" width="5" height="6" fill="#39ffbe"/>
<rect x="147" y="363" width="12" height="6" fill="#00d0ff"/>
<rect x="159" y="363" width="12" height="6" fill="#19ffde"/>
<rect x="171" y="363" width="5" height="6" fill="#00d0ff"/>
<rect x="176" y="363" width="6" height="6" fill="#39ffbe"/>
<rect x="182" y="363" width="6" height="6" fill="#19ffde"/>
<rect x="188" y="363" width="6" height="6" fill="#0094ff"/>
<rect x="194" y="363" width="5" height="6" fill="#19ffde"/>
<rect x="199" y="363" width="6" height="6" fill="#39ffbe"/>
<rect x="205" y="363" width="6" height="6" fill="#00d0ff"/>
<rect x="211" y="363" width="6" height="6" fill="#a4ff53"/>
<rect x="217" y="363" width="11" height="6" fill="#19ffde"/>
<rect x="228" y="363" width="6" height="6" fill="#00d0ff"/>
<rect x="234" y="363" width="12" height="6" fill="#0094ff"/>
<rect x="246" y="363" width="6" height="6" fill="#00d0ff"/>
<rect x="252" y="363" width="11" height="6" fill="#19ffde"/>
<rect x="263" y="363" width="6" height="6" fill="#00d0ff"/>
<rect x="269" y="363" width="6" height="6" fill="#39ffbe"/>
<rect x="275" y="363" width="5" height="6" fill="#0094ff"/>
<rect x="280" y="363" width="6" height="6" fill="#0000ff"/>
<rect x="286" y="363" width="6" height="6" fill="#e7ff0f"/>
<rect x="292" y="363" width="6" height="6" fill="#a4ff53"/>
<rect x="298" y="363" width="6" height="6" fill="#19ffde"/>
<rect x="304" y="363" width="5" height="6" fill="#39ffbe"/>
<rect x="309" y="363" width="23" height="6" fill="#19ffde"/>
<rect x="332" y="363" width="6" height="6" fill="#39ffbe"/>
<rect x="338" y="363" width="6" height="6" fill="#00d0ff"/>
<rect x="344" y="363" width="12" height="6" fill="#39ffbe"/>
<rect x="356" y="363" width="5" height="6" fill="#19ffde"/>
<rect x="361" y="363" width="6" height="6" fill="#39ffbe"/>
<rect x="367" y="363" width="6" height="6" fill="#0094ff"/>
<rect x="373" y="363" width="6" height="6" fill="#0000ff"/>
<rect x="379" y="363" width="5" height="6" fill="#e7ff0f"/>
<rect x="384" y="363" width="6" height="6" fill="#000080"/>
<rect x="390" y="363" width="6" height="6" fill="#19ffde"/>
<rect x="396" y="363" width="6" height="6" fill="#0094ff"/>
<rect x="402" y="363" width="11" height="6" fill="#19ffde"/>
<rect x="413" y="363" width="12" height="6" fill="#39ffbe"/>
<rect x="425" y="363" width="6" height="6" fill="#00d0ff"/>
<rect x="431" y="363" width="11" height="6" fill="#39ffbe"/>
<rect x="442" y="363" width="6" height="6" fill="#19ffde"/>
<rect x="448" y="363" width="6" height="6" fill="#00d0ff"/>
<rect x="454" y="363" width="6" height="6" fill="#66ff90"/>
<rect x="460" y="363" width="5" height="6" fill="#0000ff"/>
<rect x="465" y="363" width="6" height="6" fill="#19ffde"/>
<rect x="471" y="363" width="6" height="6" fill="#000080"/>
<rect x="107" y="369" width="6" height="6" fill="#e7ff0f"/>
<rect x="113" y="369" width="6" height="6" fill="#004cff"/>
<rect x="119" y="369" width="5" height="6" fill="#0094ff"/>
<rect x="124" y="369" width="6" height="6" fill="#39ffbe"/>
<rect x="130" y="369" width="6" height="6" fill="#19ffde"/>
<rect x="136" y="369" width="6" height="6" fill="#39ffbe"/>
<rect x="142" y="369" width="5" height="6" fill="#00d0ff"/>
<rect x="147" y="369" width="6" height="6" fill="#66ff90"/>
<rect x="153" y="369" width="6" height="6" fill="#19ffde"/>
<rect x="159" y="369" width="12" height="6" fill="#39ffbe"/>
<rect x="171" y="369" width="5" height="6" fill="#19ffde"/>
<rect x="176" y="369" width="6" height="6" fill="#39ffbe"/>
<rect x="182" y="369" width="6" height="6" fill="#0094ff"/>
<rect x="188" y="369" width="6" height="6" fill="#004cff"/>
<rect x="194" y="369" width="11" height="6" fill="#19ffde"/>
<rect x="205" y="369" width="6" height="6" fill="#00d0ff"/>
<rect x="211" y="369" width="6" height="6" fill="#000080"/>
<rect x="217" y="369" width="17" height="6" fill="#19ffde"/>
<rect x="234" y="369" width="6" height="6" fill="#00d0ff"/>
<rect x="240" y="369" width="6" height="6" fill="#0094ff"/>
<rect x="246" y="369" width="6" height="6" fill="#19ffde"/>
<rect x="252" y="369" width="5" height="6" fill="#39ffbe"/>
<rect x="257" y="369" width="6" height="6" fill="#00d0ff"/>
<rect x="263" y="369" width="6" height="6" fill="#000080"/>
<rect x="269" y="369" width="6" height="6" fill="#19ffde"/>
<rect x="275" y="369" width="11" height="6" fill="#0000ff"/>
<rect x="286" y="369" width="6" height="6" fill="#00d0ff"/>
<rect x="292" y="369" width="6" height="6" fill="#66ff90"/>
<rect x="298" y="369" width="6" height="6" fill="#39ffbe"/>
<rect x="304" y="369" width="11" height="6" fill="#19ffde"/>
<rect x="315" y="369" width="6" height="6" fill="#66ff90"/>
<rect x="321" y="369" width="6" height="6" fill="#39ffbe"/>
<rect x="327" y="369" width="5" height="6" fill="#00d0ff"/>
<rect x="332" y="369" width="12" height="6" fill="#19ffde"/>
<rect x="344" y="369" width="12" height="6" fill="#00d0ff"/>
<rect x="356" y="369" width="5" height="6" fill="#66ff90"/>
<rect x="361" y="369" width="6" height="6" fill="#39ffbe"/>
<rect x="367" y="369" width="6" height="6" fill="#19ffde"/>
<rect x="373" y="369" width="6" height="6" fill="#0000ff"/>
<rect x="379" y="369" width="5" height="6" fill="#00d0ff"/>
<rect x="384" y="369" width="6" height="6" fill="#66ff90"/>
<rect x="390" y="369" width="6" height="6" fill="#00d0ff"/>
<rect x="396" y="369" width="6" height="6" fill="#39ffbe"/>
<rect x="402" y="369" width="6" height="6" fill="#00d0ff"/>
<rect x="408" y="369" width="5" height="6" fill="#39ffbe"/>
<rect x="413" y="369" width="18" height="6" fill="#19ffde"/>
<rect x="431" y="369" width="6" height="6" fill="#0094ff"/>
<rect x="437" y="369" width="5" height="6" fill="#39ffbe"/>
<rect x="442" y="369" width="6" height="6" fill="#19ffde"/>
<rect x="448" y="369" width="6" height="6" fill="#00d0ff"/>
<rect x="454" y="369" width="6" height="6" fill="#a4ff53"/>
<rect x="460" y="369" width="5" height="6" fill="#0000ff"/>
<rect x="465" y="369" width="6" height="6" fill="#a4ff53"/>
<rect x="471" y="369" width="6" height="6" fill="#000080"/>
<rect x="107" y="375" width="6" height="6" fill="#ffd700"/>
<rect x="113" y="375" width="6" height="6" fill="#004cff"/>
<rect x="119" y="375" width="5" height="6" fill="#0094ff"/>
<rect x="124" y="375" width="6" height="6" fill="#66ff90"/>
<rect x="130" y="375" width="6" height="6" fill="#a4ff53"/>
<rect x="136" y="375" width="6" height="6" fill="#19ffde"/>
<rect x="142" y="375" width="5" height="6" fill="#66ff90"/>
<rect x="147" y="375" width="6" height="6" fill="#39ffbe"/>
<rect x="153" y="375" width="6" height="6" fill="#19ffde"/>
<rect x="159" y="375" width="6" height="6" fill="#66ff90"/>
<rect x="165" y="375" width="6" height="6" fill="#0094ff"/>
<rect x="171" y="375" width="5" height="6" fill="#39ffbe"/>
<rect x="176" y="375" width="6" height="6" fill="#19ffde"/>
<rect x="182" y="375" width="6" height="6" fill="#00d0ff"/>
<rect x="188" y="375" width="6" height="6" fill="#0000ff"/>
<rect x="194" y="375" width="5" height="6" fill="#19ffde"/>
<rect x="199" y="375" width="6" height="6" fill="#00d0ff"/>
<rect x="205" y="375" width="6" height="6" fill="#39ffbe"/>
<rect x="211" y="375" width="6" height="6" fill="#00d0ff"/>
<rect x="217" y="375" width="6" height="6" fill="#0094ff"/>
<rect x="223" y="375" width="11" height="6" fill="#00d0ff"/>
<rect x="234" y="375" width="12" height="6" fill="#0094ff"/>
<rect x="246" y="375" width="6" height="6" fill="#19ffde"/>
<rect x="252" y="375" width="5" height="6" fill="#00d0ff"/>
<rect x="257" y="375" width="6" height="6" fill="#0094ff"/>
<rect x="263" y="375" width="6" height="6" fill="#19ffde"/>
<rect x="269" y="375" width="17" height="6" fill="#004cff"/>
<rect x="286" y="375" width="6" height="6" fill="#19ffde"/>
<rect x="292" y="375" width="6" height="6" fill="#000080"/>
<rect x="298" y="375" width="6" height="6" fill="#66ff90"/>
<rect x="304" y="375" width="11" height="6" fill="#19ffde"/>
<rect x="315" y="375" width="6" height="6" fill="#00d0ff"/>
<rect x="321" y="375" width="11" height="6" fill="#39ffbe"/>
<rect x="332" y="375" width="6" height="6" fill="#000080"/>
<rect x="338" y="375" width="6" height="6" fill="#66ff90"/>
<rect x="344" y="375" width="6" height="6" fill="#00d0ff"/>
<rect x="350" y="375" width="6" height="6" fill="#19ffde"/>
<rect x="356" y="375" width="5" height="6" fill="#66ff90"/>
<rect x="361" y="375" width="6" height="6" fill="#39ffbe"/>
<rect x="367" y="375" width="6" height="6" fill="#004cff"/>
<rect x="373" y="375" width="6" height="6" fill="#0000ff"/>
<rect x="379" y="375" width="5" height="6" fill="#00d0ff"/>
<rect x="384" y="375" width="18" height="6" fill="#19ffde"/>
<rect x="402" y="375" width="6" height="6" fill="#004cff"/>
<rect x="408" y="375" width="5" height="6" fill="#0094ff"/>
<rect x="413" y="375" width="12" height="6" fill="#39ffbe"/>
<rect x="425" y="375" width="6" height="6" fill="#0094ff"/>
<rect x="431" y="375" width="6" height="6" fill="#19ffde"/>
<rect x="437" y="375" width="5" height="6" fill="#a4ff53"/>
<rect x="442" y="375" width="6" height="6" fill="#39ffbe"/>
<rect x="448" y="375" width="6" height="6" fill="#00d0ff"/>
<rect x="454" y="375" width="6" height="6" fill="#19ffde"/>
<rect x="460" y="375" width="11" height="6" fill="#004cff"/>
<rect x="471" y="375" width="6" height="6" fill="#000080"/>
<rect x="107" y="381" width="6" height="6" fill="#b60000"/>
<rect x="113" y="381" width="6" height="6" fill="#0094ff"/>
<rect x="119" y="381" width="5" height="6" fill="#004cff"/>
<rect x="124" y="381" width="6" height="6" fill="#39ffbe"/>
<rect x="130" y="381" width="6" height="6" fill="#19ffde"/>
<rect x="136" y="381" width="6" height="6" fill="#00d0ff"/>
<rect x="142" y="381" width="5" height="6" fill="#19ffde"/>
<rect x="147" y="381" width="6" height="6" fill="#0094ff"/>
<rect x="153" y="381" width="6" height="6" fill="#39ffbe"/>
<rect x="159" y="381" width="6" height="6" fill="#00d0ff"/>
<rect x="165" y="381" width="6" height="6" fill="#39ffbe"/>
<rect x="171" y="381" width="17" height="6" fill="#19ffde"/>
<rect x="188" y="381" width="11" height="6" fill="#004cff"/>
<rect x="199" y="381" width="6" height="6" fill="#000080"/>
<rect x="205" y="381" width="6" height="6" fill="#19ffde"/>
<rect x="211" y="381" width="6" height="6" fill="#00d0ff"/>
<rect x="217" y="381" width="6" height="6" fill="#004cff"/>
<rect x="223" y="381" width="5" height="6" fill="#0094ff"/>
<rect x="228" y="381" width="6" height="6" fill="#00d0ff"/>
<rect x="234" y="381" width="12" height="6" fill="#0094ff"/>
<rect x="246" y="381" width="6" height="6" fill="#19ffde"/>
<rect x="252" y="381" width="5" height="6" fill="#39ffbe"/>
<rect x="257" y="381" width="6" height="6" fill="#00d0ff"/>
<rect x="263" y="381" width="6" height="6" fill="#19ffde"/>
<rect x="269" y="381" width="6" height="6" fill="#0094ff"/>
<rect x="275" y="381" width="5" height="6" fill="#004cff"/>
<rect x="280" y="381" width="6" height="6" fill="#0000ff"/>
<rect x="286" y="381" width="6" height="6" fill="#004cff"/>
<rect x="292" y="381" width="6" height="6" fill="#66ff90"/>
<rect x="298" y="381" width="6" height="6" fill="#19ffde"/>
<rect x="304" y="381" width="5" height="6" fill="#39ffbe"/>
<rect x="309" y="381" width="6" height="6" fill="#19ffde"/>
<rect x="315" y="381" width="6" height="6" fill="#00d0ff"/>
<rect x="321" y="381" width="11" height="6" fill="#39ffbe"/>
<rect x="332" y="381" width="12" height="6" fill="#000080"/>
<rect x="344" y="381" width="6" height="6" fill="#66ff90"/>
<rect x="350" y="381" width="6" height="6" fill="#19ffde"/>
<rect x="356" y="381" width="5" height="6" fill="#66ff90"/>
<rect x="361" y="381" width="6" height="6" fill="#0094ff"/>
<rect x="367" y="381" width="12" height="6" fill="#004cff"/>
<rect x="379" y="381" width="5" height="6" fill="#000080"/>
<rect x="384" y="381" width="6" height="6" fill="#66ff90"/>
<rect x="390" y="381" width="6" height="6" fill="#0094ff"/>
<rect x="396" y="381" width="12" height="6" fill="#19ffde"/>
<rect x="408" y="381" width="5" height="6" fill="#39ffbe"/>
<rect x="413" y="381" width="6" height="6" fill="#00d0ff"/>
<rect x="419" y="381" width="12" height="6" fill="#39ffbe"/>
<rect x="431" y="381" width="6" height="6" fill="#00d0ff"/>
<rect x="437" y="381" width="11" height="6" fill="#66ff90"/>
<rect x="448" y="381" width="6" height="6" fill="#39ffbe"/>
<rect x="454" y="381" width="6" height="6" fill="#0094ff"/>
<rect x="460" y="381" width="11" height="6" fill="#004cff"/>
<rect x="471" y="381" width="6" height="6" fill="#000080"/>
<rect x="107" y="387" width="12" height="5" fill="#004cff"/>
<rect x="119" y="387" width="17" height="5" fill="#39ffbe"/>
<rect x="136" y="387" width="6" height="5" fill="#00d0ff"/>
<rect x="142" y="387" width="5" height="5" fill="#000080"/>
<rect x="147" y="387" width="12" height="5" fill="#19ffde"/>
<rect x="159" y="387" width="6" height="5" fill="#39ffbe"/>
<rect x="165" y="387" width="6" height="5" fill="#19ffde"/>
<rect x="171" y="387" width="5" height="5" fill="#39ffbe"/>
<rect x="176" y="387" width="6" height="5" fill="#19ffde"/>
<rect x="182" y="387" width="12" height="5" fill="#0094ff"/>
<rect x="194" y="387" width="5" height="5" fill="#0000ff"/>
<rect x="199" y="387" width="6" height="5" fill="#000080"/>
<rect x="205" y="387" width="12" height="5" fill="#00d0ff"/>
<rect x="217" y="387" width="6" height="5" fill="#0094ff"/>
<rect x="223" y="387" width="5" height="5" fill="#19ffde"/>
<rect x="228" y="387" width="6" height="5" fill="#000080"/>
<rect x="234" y="387" width="6" height="5" fill="#39ffbe"/>
<rect x="240" y="387" width="6" height="5" fill="#000080"/>
<rect x="246" y="387" width="6" height="5" fill="#00d0ff"/>
<rect x="252" y="387" width="11" height="5" fill="#19ffde"/>
<rect x="263" y="387" width="6" height="5" fill="#39ffbe"/>
<rect x="269" y="387" width="11" height="5" fill="#0000ff"/>
<rect x="280" y="387" width="6" height="5" fill="#004cff"/>
<rect x="286" y="387" width="6" height="5" fill="#0000ff"/>
<rect x="292" y="387" width="6" height="5" fill="#39ffbe"/>
<rect x="298" y="387" width="6" height="5" fill="#19ffde"/>
<rect x="304" y="387" width="5" height="5" fill="#00d0ff"/>
<rect x="309" y="387" width="12" height="5" fill="#39ffbe"/>
<rect x="321" y="387" width="6" height="5" fill="#19ffde"/>
<rect x="327" y="387" width="5" height="5" fill="#39ffbe"/>
<rect x="332" y="387" width="24" height="5" fill="#19ffde"/>
<rect x="356" y="387" width="5" height="5" fill="#39ffbe"/>
<rect x="361" y="387" width="6" height="5" fill="#00d0ff"/>
<rect x="367" y="387" width="6" height="5" fill="#0000ff"/>
<rect x="373" y="387" width="6" height="5" fill="#0094ff"/>
<rect x="379" y="387" width="5" height="5" fill="#a4ff53"/>
<rect x="384" y="387" width="18" height="5" fill="#00d0ff"/>
<rect x="402" y="387" width="11" height="5" fill="#19ffde"/>
<rect x="413" y="387" width="12" height="5" fill="#39ffbe"/>
<rect x="425" y="387" width="23" height="5" fill="#19ffde"/>
<rect x="448" y="387" width="6" height="5" fill="#39ffbe"/>
<rect x="454" y="387" width="6" height="5" fill="#0094ff"/>
<rect x="460" y="387" width="5" height="5" fill="#004cff"/>
<rect x="465" y="387" width="6" height="5" fill="#0094ff"/>
<rect x="471" y="387" width="6" height="5" fill="#66ff90"/>
<rect x="107" y="392" width="6" height="6" fill="#00d0ff"/>
<rect x="113" y="392" width="6" height="6" fill="#0000ff"/>
<rect x="119" y="392" width="5" height="6" fill="#66ff90"/>
<rect x="124" y="392" width="6" height="6" fill="#19ffde"/>
<rect x="130" y="392" width="12" height="6" fill="#00d0ff"/>
<rect x="142" y="392" width="11" height="6" fill="#39ffbe"/>
<rect x="153" y="392" width="6" height="6" fill="#19ffde"/>
<rect x="159" y="392" width="6" height="6" fill="#39ffbe"/>
<rect x="165" y="392" width="6" height="6" fill="#a4ff53"/>
<rect x="171" y="392" width="5" height="6" fill="#39ffbe"/>
<rect x="176" y="392" width="6" height="6" fill="#0094ff"/>
<rect x="182" y="392" width="6" height="6" fill="#19ffde"/>
<rect x="188" y="392" width="6" height="6" fill="#0094ff"/>
<rect x="194" y="392" width="5" height="6" fill="#0000ff"/>
<rect x="199" y="392" width="6" height="6" fill="#000080"/>
<rect x="205" y="392" width="6" height="6" fill="#00d0ff"/>
<rect x="211" y="392" width="6" height="6" fill="#39ffbe"/>
<rect x="217" y="392" width="6" height="6" fill="#00d0ff"/>
<rect x="223" y="392" width="5" height="6" fill="#39ffbe"/>
<rect x="228" y="392" width="6" height="6" fill="#19ffde"/>
<rect x="234" y="392" width="6" height="6" fill="#39ffbe"/>
<rect x="240" y="392" width="6" height="6" fill="#19ffde"/>
<rect x="246" y="392" width="6" height="6" fill="#39ffbe"/>
<rect x="252" y="392" width="11" height="6" fill="#66ff90"/>
<rect x="263" y="392" width="6" height="6" fill="#000080"/>
<rect x="269" y="392" width="6" height="6" fill="#19ffde"/>
<rect x="275" y="392" width="11" height="6" fill="#000080"/>
<rect x="286" y="392" width="6" height="6" fill="#e7ff0f"/>
<rect x="292" y="392" width="6" height="6" fill="#66ff90"/>
<rect x="298" y="392" width="6" height="6" fill="#39ffbe"/>
<rect x="304" y="392" width="5" height="6" fill="#00d0ff"/>
<rect x="309" y="392" width="12" height="6" fill="#39ffbe"/>
<rect x="321" y="392" width="6" height="6" fill="#66ff90"/>
<rect x="327" y="392" width="5" height="6" fill="#39ffbe"/>
<rect x="332" y="392" width="6" height="6" fill="#19ffde"/>
<rect x="338" y="392" width="6" height="6" fill="#39ffbe"/>
<rect x="344" y="392" width="6" height="6" fill="#19ffde"/>
<rect x="350" y="392" width="6" height="6" fill="#a4ff53"/>
<rect x="356" y="392" width="5" height="6" fill="#000080"/>
<rect x="361" y="392" width="6" height="6" fill="#19ffde"/>
<rect x="367" y="392" width="6" height="6" fill="#0000ff"/>
<rect x="373" y="392" width="6" height="6" fill="#004cff"/>
<rect x="379" y="392" width="5" height="6" fill="#0094ff"/>
<rect x="384" y="392" width="6" height="6" fill="#19ffde"/>
<rect x="390" y="392" width="6" height="6" fill="#0000ff"/>
<rect x="396" y="392" width="6" height="6" fill="#66ff90"/>
<rect x="402" y="392" width="6" height="6" fill="#19ffde"/>
<rect x="408" y="392" width="11" height="6" fill="#0094ff"/>
<rect x="419" y="392" width="12" height="6" fill="#39ffbe"/>
<rect x="431" y="392" width="6" height="6" fill="#19ffde"/>
<rect x="437" y="392" width="5" height="6" fill="#39ffbe"/>
<rect x="442" y="392" width="6" height="6" fill="#e7ff0f"/>
<rect x="448" y="392" width="6" height="6" fill="#000080"/>
<rect x="454" y="392" width="6" height="6" fill="#ffd700"/>
<rect x="460" y="392" width="5" height="6" fill="#004cff"/>
<rect x="465" y="392" width="12" height="6" fill="#000080"/>
<rect x="107" y="398" width="6" height="6" fill="#ff6800"/>
<rect x="113" y="398" width="6" height="6" fill="#00d0ff"/>
<rect x="119" y="398" width="5" height="6" fill="#39ffbe"/>
<rect x="124" y="398" width="12" height="6" fill="#66ff90"/>
<rect x="136" y="398" width="6" height="6" fill="#19ffde"/>
<rect x="142" y="398" width="5" height="6" fill="#0094ff"/>
<rect x="147" y="398" width="12" height="6" fill="#66ff90"/>
<rect x="159" y="398" width="6" height="6" fill="#19ffde"/>
<rect x="165" y="398" width="6" height="6" fill="#0094ff"/>
<rect x="171" y="398" width="5" height="6" fill="#e7ff0f"/>
<rect x="176" y="398" width="6" height="6" fill="#000080"/>
<rect x="182" y="398" width="6" height="6" fill="#39ffbe"/>
<rect x="188" y="398" width="11" height="6" fill="#0094ff"/>
<rect x="199" y="398" width="6" height="6" fill="#39ffbe"/>
<rect x="205" y="398" width="6" height="6" fill="#a4ff53"/>
<rect x="211" y="398" width="6" height="6" fill="#39ffbe"/>
<rect x="217" y="398" width="6" height="6" fill="#19ffde"/>
<rect x="223" y="398" width="11" height="6" fill="#00d0ff"/>
<rect x="234" y="398" width="12" height="6" fill="#39ffbe"/>
<rect x="246" y="398" width="6" height="6" fill="#19ffde"/>
<rect x="252" y="398" width="40" height="6" fill="#000080"/>
<rect x="292" y="398" width="6" height="6" fill="#66ff90"/>
<rect x="298" y="398" width="6" height="6" fill="#39ffbe"/>
<rect x="304" y="398" width="5" height="6" fill="#66ff90"/>
<rect x="309" y="398" width="23" height="6" fill="#19ffde"/>
<rect x="332" y="398" width="6" height="6" fill="#39ffbe"/>
<rect x="338" y="398" width="6" height="6" fill="#19ffde"/>
<rect x="344" y="398" width="6" height="6" fill="#66ff90"/>
<rect x="350" y="398" width="6" height="6" fill="#e7ff0f"/>
<rect x="356" y="398" width="17" height="6" fill="#000080"/>
<rect x="373" y="398" width="6" height="6" fill="#0000ff"/>
<rect x="379" y="398" width="5" height="6" fill="#00d0ff"/>
<rect x="384" y="398" width="6" height="6" fill="#0094ff"/>
<rect x="390" y="398" width="6" height="6" fill="#00d0ff"/>
<rect x="396" y="398" width="6" height="6" fill="#39ffbe"/>
<rect x="402" y="398" width="11" height="6" fill="#19ffde"/>
<rect x="413" y="398" width="6" height="6" fill="#39ffbe"/>
<rect x="419" y="398" width="6" height="6" fill="#000080"/>
<rect x="425" y="398" width="6" height="6" fill="#19ffde"/>
<rect x="431" y="398" width="6" height="6" fill="#39ffbe"/>
<rect x="437" y="398" width="28" height="6" fill="#000080"/>
<rect x="465" y="398" width="6" height="6" fill="#39ffbe"/>
<rect x="471" y="398" width="6" height="6" fill="#ff6800"/>
<rect x="107" y="404" width="6" height="6" fill="#000080"/>
<rect x="113" y="404" width="6" height="6" fill="#66ff90"/>
<rect x="119" y="404" width="5" height="6" fill="#000080"/>
<rect x="124" y="404" width="12" height="6" fill="#19ffde"/>
<rect x="136" y="404" width="6" height="6" fill="#00d0ff"/>
<rect x="142" y="404" width="5" height="6" fill="#19ffde"/>
<rect x="147" y="404" width="6" height="6" fill="#a4ff53"/>
<rect x="153" y="404" width="12" height="6" fill="#19ffde"/>
<rect x="165" y="404" width="11" height="6" fill="#39ffbe"/>
<rect x="176" y="404" width="6" height="6" fill="#004cff"/>
<rect x="182" y="404" width="6" height="6" fill="#000080"/>
<rect x="188" y="404" width="6" height="6" fill="#19ffde"/>
<rect x="194" y="404" width="5" height="6" fill="#004cff"/>
<rect x="199" y="404" width="6" height="6" fill="#19ffde"/>
<rect x="205" y="404" width="6" height="6" fill="#39ffbe"/>
<rect x="211" y="404" width="6" height="6" fill="#000080"/>
<rect x="217" y="404" width="6" height="6" fill="#19ffde"/>
<rect x="223" y="404" width="5" height="6" fill="#39ffbe"/>
<rect x="228" y="404" width="6" height="6" fill="#00d0ff"/>
<rect x="234" y="404" width="6" height="6" fill="#39ffbe"/>
<rect x="240" y="404" width="6" height="6" fill="#00d0ff"/>
<rect x="246" y="404" width="40" height="6" fill="#000080"/>
<rect x="286" y="404" width="6" height="6" fill="#19ffde"/>
<rect x="292" y="404" width="12" height="6" fill="#39ffbe"/>
<rect x="304" y="404" width="5" height="6" fill="#000080"/>
<rect x="309" y="404" width="12" height="6" fill="#39ffbe"/>
<rect x="321" y="404" width="6" height="6" fill="#66ff90"/>
<rect x="327" y="404" width="11" height="6" fill="#19ffde"/>
<rect x="338" y="404" width="6" height="6" fill="#39ffbe"/>
<rect x="344" y="404" width="17" height="6" fill="#000080"/>
<rect x="361" y="404" width="6" height="6" fill="#19ffde"/>
<rect x="367" y="404" width="6" height="6" fill="#000080"/>
<rect x="373" y="404" width="6" height="6" fill="#004cff"/>
<rect x="379" y="404" width="5" height="6" fill="#00d0ff"/>
<rect x="384" y="404" width="6" height="6" fill="#e7ff0f"/>
<rect x="390" y="404" width="6" height="6" fill="#0094ff"/>
<rect x="396" y="404" width="6" height="6" fill="#000080"/>
<rect x="402" y="404" width="6" height="6" fill="#a4ff53"/>
<rect x="408" y="404" width="5" height="6" fill="#39ffbe"/>
<rect x="413" y="404" width="12" height="6" fill="#19ffde"/>
<rect x="425" y="404" width="6" height="6" fill="#0094ff"/>
<rect x="431" y="404" width="46" height="6" fill="#000080"/>
<rect x="107" y="410" width="12" height="5" fill="#000080"/>
<rect x="119" y="410" width="11" height="5" fill="#e7ff0f"/>
<rect x="130" y="410" width="6" height="5" fill="#a4ff53"/>
<rect x="136" y="410" width="6" height="5" fill="#39ffbe"/>
<rect x="142" y="410" width="5" height="5" fill="#0094ff"/>
<rect x="147" y="410" width="6" height="5" fill="#39ffbe"/>
<rect x="153" y="410" width="6" height="5" fill="#19ffde"/>
<rect x="159" y="410" width="6" height="5" fill="#a4ff53"/>
<rect x="165" y="410" width="11" height="5" fill="#19ffde"/>
<rect x="176" y="410" width="6" height="5" fill="#0094ff"/>
<rect x="182" y="410" width="6" height="5" fill="#00d0ff"/>
<rect x="188" y="410" width="6" height="5" fill="#0094ff"/>
<rect x="194" y="410" width="5" height="5" fill="#004cff"/>
<rect x="199" y="410" width="6" height="5" fill="#39ffbe"/>
<rect x="205" y="410" width="6" height="5" fill="#000080"/>
<rect x="211" y="410" width="6" height="5" fill="#19ffde"/>
<rect x="217" y="410" width="6" height="5" fill="#66ff90"/>
<rect x="223" y="410" width="5" height="5" fill="#19ffde"/>
<rect x="228" y="410" width="6" height="5" fill="#66ff90"/>
<rect x="234" y="410" width="6" height="5" fill="#a4ff53"/>
<rect x="240" y="410" width="6" height="5" fill="#19ffde"/>
<rect x="246" y="410" width="23" height="5" fill="#000080"/>
<rect x="269" y="410" width="6" height="5" fill="#0094ff"/>
<rect x="275" y="410" width="11" height="5" fill="#000080"/>
<rect x="286" y="410" width="6" height="5" fill="#0094ff"/>
<rect x="292" y="410" width="6" height="5" fill="#e7ff0f"/>
<rect x="298" y="410" width="11" height="5" fill="#66ff90"/>
<rect x="309" y="410" width="12" height="5" fill="#19ffde"/>
<rect x="321" y="410" width="6" height="5" fill="#39ffbe"/>
<rect x="327" y="410" width="17" height="5" fill="#66ff90"/>
<rect x="344" y="410" width="6" height="5" fill="#e7ff0f"/>
<rect x="350" y="410" width="6" height="5" fill="#39ffbe"/>
<rect x="356" y="410" width="5" height="5" fill="#000080"/>
<rect x="361" y="410" width="6" height="5" fill="#00d0ff"/>
<rect x="367" y="410" width="6" height="5" fill="#0000ff"/>
<rect x="373" y="410" width="11" height="5" fill="#004cff"/>
<rect x="384" y="410" width="6" height="5" fill="#00d0ff"/>
<rect x="390" y="410" width="12" height="5" fill="#0094ff"/>
<rect x="402" y="410" width="6" height="5" fill="#66ff90"/>
<rect x="408" y="410" width="11" height="5" fill="#39ffbe"/>
<rect x="419" y="410" width="6" height="5" fill="#19ffde"/>
<rect x="425" y="410" width="6" height="5" fill="#00d0ff"/>
<rect x="431" y="410" width="6" height="5" fill="#39ffbe"/>
<rect x="437" y="410" width="28" height="5" fill="#000080"/>
<rect x="465" y="410" width="6" height="5" fill="#ffd700"/>
<rect x="471" y="410" width="6" height="5" fill="#a4ff53"/>
<rect x="107" y="415" width="17" height="6" fill="#000080"/>
<rect x="124" y="415" width="6" height="6" fill="#66ff90"/>
<rect x="130" y="415" width="12" height="6" fill="#19ffde"/>
<rect x="142" y="415" width="5" height="6" fill="#39ffbe"/>
<rect x="147" y="415" width="6" height="6" fill="#19ffde"/>
<rect x="153" y="415" width="6" height="6" fill="#39ffbe"/>
<rect x="159" y="415" width="12" height="6" fill="#66ff90"/>
<rect x="171" y="415" width="5" height="6" fill="#a4ff53"/>
<rect x="176" y="415" width="12" height="6" fill="#0094ff"/>
<rect x="188" y="415" width="6" height="6" fill="#00d0ff"/>
<rect x="194" y="415" width="5" height="6" fill="#004cff"/>
<rect x="199" y="415" width="6" height="6" fill="#e7ff0f"/>
<rect x="205" y="415" width="18" height="6" fill="#000080"/>
<rect x="223" y="415" width="11" height="6" fill="#19ffde"/>
<rect x="234" y="415" width="12" height="6" fill="#39ffbe"/>
<rect x="246" y="415" width="46" height="6" fill="#000080"/>
<rect x="292" y="415" width="6" height="6" fill="#e7ff0f"/>
<rect x="298" y="415" width="6" height="6" fill="#19ffde"/>
<rect x="304" y="415" width="5" height="6" fill="#66ff90"/>
<rect x="309" y="415" width="6" height="6" fill="#19ffde"/>
<rect x="315" y="415" width="12" height="6" fill="#39ffbe"/>
<rect x="327" y="415" width="5" height="6" fill="#66ff90"/>
<rect x="332" y="415" width="12" height="6" fill="#a4ff53"/>
<rect x="344" y="415" width="6" height="6" fill="#0000ff"/>
<rect x="350" y="415" width="6" height="6" fill="#0094ff"/>
<rect x="356" y="415" width="5" height="6" fill="#00d0ff"/>
<rect x="361" y="415" width="6" height="6" fill="#0094ff"/>
<rect x="367" y="415" width="6" height="6" fill="#00d0ff"/>
<rect x="373" y="415" width="6" height="6" fill="#004cff"/>
<rect x="379" y="415" width="5" height="6" fill="#000080"/>
<rect x="384" y="415" width="12" height="6" fill="#0094ff"/>
<rect x="396" y="415" width="6" height="6" fill="#0000ff"/>
<rect x="402" y="415" width="6" height="6" fill="#00d0ff"/>
<rect x="408" y="415" width="5" height="6" fill="#0094ff"/>
<rect x="413" y="415" width="6" height="6" fill="#19ffde"/>
<rect x="419" y="415" width="6" height="6" fill="#00d0ff"/>
<rect x="425" y="415" width="6" height="6" fill="#0094ff"/>
<rect x="431" y="415" width="11" height="6" fill="#39ffbe"/>
<rect x="442" y="415" width="6" height="6" fill="#a4ff53"/>
<rect x="448" y="415" width="6" height="6" fill="#66ff90"/>
<rect x="454" y="415" width="6" height="6" fill="#39ffbe"/>
<rect x="460" y="415" width="5" height="6" fill="#e7ff0f"/>
<rect x="465" y="415" width="6" height="6" fill="#0094ff"/>
<rect x="471" y="415" width="6" height="6" fill="#ff6800"/>
<rect x="107" y="421" width="23" height="6" fill="#000080"/>
<rect x="130" y="421" width="6" height="6" fill="#ff6800"/>
<rect x="136" y="421" width="11" height="6" fill="#000080"/>
<rect x="147" y="421" width="6" height="6" fill="#ffab00"/>
<rect x="153" y="421" width="12" height="6" fill="#e7ff0f"/>
<rect x="165" y="421" width="6" height="6" fill="#ff6800"/>
<rect x="171" y="421" width="5" height="6" fill="#ff2500"/>
<rect x="176" y="421" width="6" height="6" fill="#00d0ff"/>
<rect x="182" y="421" width="6" height="6" fill="#66ff90"/>
<rect x="188" y="421" width="6" height="6" fill="#ff6800"/>
<rect x="194" y="421" width="5" height="6" fill="#39ffbe"/>
<rect x="199" y="421" width="6" height="6" fill="#a4ff53"/>
<rect x="205" y="421" width="6" height="6" fill="#000080"/>
<rect x="211" y="421" width="6" height="6" fill="#ffd700"/>
<rect x="217" y="421" width="6" height="6" fill="#000080"/>
<rect x="223" y="421" width="5" height="6" fill="#39ffbe"/>
<rect x="228" y="421" width="6" height="6" fill="#66ff90"/>
<rect x="234" y="421" width="6" height="6" fill="#39ffbe"/>
<rect x="240" y="421" width="6" height="6" fill="#000080"/>
<rect x="246" y="421" width="6" height="6" fill="#ffd700"/>
<rect x="252" y="421" width="17" height="6" fill="#000080"/>
<rect x="269" y="421" width="6" height="6" fill="#ff6800"/>
<rect x="275" y="421" width="5" height="6" fill="#ffd700"/>
<rect x="280" y="421" width="12" height="6" fill="#000080"/>
<rect x="292" y="421" width="6" height="6" fill="#a4ff53"/>
<rect x="298" y="421" width="6" height="6" fill="#ffd700"/>
<rect x="304" y="421" width="11" height="6" fill="#a4ff53"/>
<rect x="315" y="421" width="6" height="6" fill="#66ff90"/>
<rect x="321" y="421" width="11" height="6" fill="#ffd700"/>
<rect x="332" y="421" width="6" height="6" fill="#000080"/>
<rect x="338" y="421" width="6" height="6" fill="#ff6800"/>
<rect x="344" y="421" width="6" height="6" fill="#ffd700"/>
<rect x="350" y="421" width="6" height="6" fill="#39ffbe"/>
<rect x="356" y="421" width="17" height="6" fill="#000080"/>
<rect x="373" y="421" width="6" height="6" fill="#00d0ff"/>
<rect x="379" y="421" width="5" height="6" fill="#000080"/>
<rect x="384" y="421" width="6" height="6" fill="#0094ff"/>
<rect x="390" y="421" width="6" height="6" fill="#39ffbe"/>
<rect x="396" y="421" width="12" height="6" fill="#a4ff53"/>
<rect x="408" y="421" width="5" height="6" fill="#66ff90"/>
<rect x="413" y="421" width="6" height="6" fill="#e7ff0f"/>
<rect x="419" y="421" width="6" height="6" fill="#39ffbe"/>
<rect x="425" y="421" width="12" height="6" fill="#a4ff53"/>
<rect x="437" y="421" width="5" height="6" fill="#e7ff0f"/>
<rect x="442" y="421" width="6" height="6" fill="#ffd700"/>
<rect x="448" y="421" width="6" height="6" fill="#000080"/>
<rect x="454" y="421" width="11" height="6" fill="#e7ff0f"/>
<rect x="465" y="421" width="6" height="6" fill="#66ff90"/>
<rect x="471" y="421" width="6" height="6" fill="#ffd700"/>
</g>
<g shape-rendering="geometricPrecision" stroke="#000" stroke-width="1.11" fill="none" stroke-linecap="square"><rect x="107.5" y="58.5" width="370" height="369"/><line x1="110.5" y1="428" x2="110.5" y2="432.4" stroke-linecap="butt"/><line x1="168.5" y1="428" x2="168.5" y2="432.4" stroke-linecap="butt"/><line x1="226.5" y1="428" x2="226.5" y2="432.4" stroke-linecap="butt"/><line x1="283.5" y1="428" x2="283.5" y2="432.4" stroke-linecap="butt"/><line x1="341.5" y1="428" x2="341.5" y2="432.4" stroke-linecap="butt"/><line x1="399.5" y1="428" x2="399.5" y2="432.4" stroke-linecap="butt"/><line x1="457.5" y1="428" x2="457.5" y2="432.4" stroke-linecap="butt"/><line x1="102.6" y1="78.5" x2="107" y2="78.5" stroke-linecap="butt"/><line x1="102.6" y1="136.5" x2="107" y2="136.5" stroke-linecap="butt"/><line x1="102.6" y1="193.5" x2="107" y2="193.5" stroke-linecap="butt"/><line x1="102.6" y1="251.5" x2="107" y2="251.5" stroke-linecap="butt"/><line x1="102.6" y1="309.5" x2="107" y2="309.5" stroke-linecap="butt"/><line x1="102.6" y1="367.5" x2="107" y2="367.5" stroke-linecap="butt"/><line x1="102.6" y1="424.5" x2="107" y2="424.5" stroke-linecap="butt"/><line x1="520" y1="92.5" x2="525.4" y2="92.5" stroke-linecap="butt"/><line x1="520" y1="132.5" x2="525.4" y2="132.5" stroke-linecap="butt"/><line x1="520" y1="172.5" x2="525.4" y2="172.5" stroke-linecap="butt"/><line x1="520" y1="212.5" x2="525.4" y2="212.5" stroke-linecap="butt"/><line x1="520" y1="251.5" x2="525.4" y2="251.5" stroke-linecap="butt"/><line x1="520" y1="291.5" x2="525.4" y2="291.5" stroke-linecap="butt"/><line x1="520" y1="331.5" x2="525.4" y2="331.5" stroke-linecap="butt"/><line x1="520" y1="371.5" x2="525.4" y2="371.5" stroke-linecap="butt"/><line x1="520" y1="410.5" x2="525.4" y2="410.5" stroke-linecap="butt"/></g>
<defs><linearGradient id="jg" x1="0" y1="57.6" x2="0" y2="427.2" gradientUnits="userSpaceOnUse"><stop offset="0" stop-color="#800000"/><stop offset="0.04545" stop-color="#800000"/><stop offset="0.05966" stop-color="#8d0000"/><stop offset="0.07386" stop-color="#9f0000"/><stop offset="0.08807" stop-color="#b20000"/><stop offset="0.10227" stop-color="#c40000"/><stop offset="0.11648" stop-color="#d60000"/><stop offset="0.13068" stop-color="#e80000"/><stop offset="0.14489" stop-color="#fa0f00"/><stop offset="0.15909" stop-color="#ff1e00"/><stop offset="0.17330" stop-color="#ff2d00"/><stop offset="0.18750" stop-color="#ff3b00"/><stop offset="0.20170" stop-color="#ff4a00"/><stop offset="0.21591" stop-color="#ff5900"/><stop offset="0.23011" stop-color="#ff6800"/><stop offset="0.24432" stop-color="#ff7700"/><stop offset="0.25852" stop-color="#ff8600"/><stop offset="0.27273" stop-color="#ff9400"/><stop offset="0.28693" stop-color="#ffa300"/><stop offset="0.30114" stop-color="#ffb200"/><stop offset="0.31534" stop-color="#ffc100"/><stop offset="0.32955" stop-color="#ffd000"/><stop offset="0.34375" stop-color="#ffde00"/><stop offset="0.35795" stop-color="#feed00"/><stop offset="0.37216" stop-color="#f1fc06"/><stop offset="0.38636" stop-color="#e4ff13"/><stop offset="0.40057" stop-color="#d7ff1f"/><stop offset="0.41477" stop-color="#caff2c"/><stop offset="0.42898" stop-color="#beff39"/><stop offset="0.44318" stop-color="#b1ff46"/><stop offset="0.45739" stop-color="#a4ff53"/><stop offset="0.47159" stop-color="#97ff60"/><stop offset="0.48580" stop-color="#8aff6d"/><stop offset="0.50000" stop-color="#7dff7a"/><stop offset="0.51420" stop-color="#70ff87"/><stop offset="0.52841" stop-color="#63ff94"/><stop offset="0.54261" stop-color="#56ffa0"/><stop offset="0.55682" stop-color="#49ffad"/><stop offset="0.57102" stop-color="#3cffba"/><stop offset="0.58523" stop-color="#30ffc7"/><stop offset="0.59943" stop-color="#23ffd4"/><stop offset="0.61364" stop-color="#16ffe1"/><stop offset="0.62784" stop-color="#09f0ee"/><stop offset="0.64205" stop-color="#00e0fb"/><stop offset="0.65625" stop-color="#00d0ff"/><stop offset="0.67045" stop-color="#00c0ff"/><stop offset="0.68466" stop-color="#00b0ff"/><stop offset="0.69886" stop-color="#00a0ff"/><stop offset="0.71307" stop-color="#0090ff"/><stop offset="0.72727" stop-color="#0080ff"/><stop offset="0.74148" stop-color="#0070ff"/><stop offset="0.75568" stop-color="#0060ff"/><stop offset="0.76989" stop-color="#0050ff"/><stop offset="0.78409" stop-color="#0040ff"/><stop offset="0.79830" stop-color="#0030ff"/><stop offset="0.81250" stop-color="#0020ff"/><stop offset="0.82670" stop-color="#0010ff"/><stop offset="0.84091" stop-color="#0000ff"/><stop offset="0.85511" stop-color="#0000ff"/><stop offset="0.86932" stop-color="#0000ed"/><stop offset="0.88352" stop-color="#0000da"/><stop offset="0.89773" stop-color="#0000c8"/><stop offset="0.91193" stop-color="#0000b6"/><stop offset="0.92614" stop-color="#0000a4"/><stop offset="0.94034" stop-color="#000092"/><stop offset="0.95455" stop-color="#000080"/><stop offset="1" stop-color="#000080"/></linearGradient></defs><path d="M501.60 74.4 L510.84 57.6 L520.08 74.4 L520.08 410.4 L510.84 427.2 L501.60 410.4 Z" fill="url(#jg)" shape-rendering="geometricPrecision"/><path d="M501.60 74.4 L510.84 57.6 L520.08 74.4 L520.08 410.4 L510.84 427.2 L501.60 410.4 Z" fill="none" stroke="#000" stroke-width="1.11" stroke-linejoin="miter" stroke-miterlimit="2" shape-rendering="geometricPrecision"/>
<text x="319.50" y="20.00" font-size="12.00" text-anchor="middle" textLength="535.0" lengthAdjust="spacingAndGlyphs">Data file: modeM0/AS1A10_058T09_9000004100_28713cztM0_level2_quad_clean.evt</text>
<text x="293.10" y="48.72" font-size="17.60" text-anchor="middle" textLength="139.0" lengthAdjust="spacingAndGlyphs">Quadrant 0 DPH</text>
<text x="111.52" y="448.00" font-size="13.89" text-anchor="middle" textLength="8.00" lengthAdjust="spacingAndGlyphs">0</text>
<text x="168.21" y="448.00" font-size="13.89" text-anchor="middle" textLength="16.20" lengthAdjust="spacingAndGlyphs">10</text>
<text x="225.79" y="448.00" font-size="13.89" text-anchor="middle" textLength="16.20" lengthAdjust="spacingAndGlyphs">20</text>
<text x="283.44" y="448.00" font-size="13.89" text-anchor="middle" textLength="16.20" lengthAdjust="spacingAndGlyphs">30</text>
<text x="341.32" y="448.00" font-size="13.89" text-anchor="middle" textLength="16.20" lengthAdjust="spacingAndGlyphs">40</text>
<text x="398.46" y="448.00" font-size="13.89" text-anchor="middle" textLength="16.20" lengthAdjust="spacingAndGlyphs">50</text>
<text x="456.78" y="448.00" font-size="13.89" text-anchor="middle" textLength="16.20" lengthAdjust="spacingAndGlyphs">60</text>
<text x="98.32" y="430.00" font-size="13.89" text-anchor="end" textLength="8.00" lengthAdjust="spacingAndGlyphs">0</text>
<text x="96.39" y="372.00" font-size="13.89" text-anchor="end" textLength="16.20" lengthAdjust="spacingAndGlyphs">10</text>
<text x="96.89" y="314.00" font-size="13.89" text-anchor="end" textLength="16.20" lengthAdjust="spacingAndGlyphs">20</text>
<text x="96.59" y="257.00" font-size="13.89" text-anchor="end" textLength="16.20" lengthAdjust="spacingAndGlyphs">30</text>
<text x="97.39" y="199.00" font-size="13.89" text-anchor="end" textLength="16.20" lengthAdjust="spacingAndGlyphs">40</text>
<text x="96.57" y="141.00" font-size="13.89" text-anchor="end" textLength="16.20" lengthAdjust="spacingAndGlyphs">50</text>
<text x="96.92" y="83.00" font-size="13.89" text-anchor="end" textLength="16.20" lengthAdjust="spacingAndGlyphs">60</text>
<text x="531.37" y="416.00" font-size="13.89" text-anchor="start" textLength="8.00" lengthAdjust="spacingAndGlyphs">0</text>
<text x="530.64" y="376.00" font-size="13.89" text-anchor="start" textLength="16.20" lengthAdjust="spacingAndGlyphs">20</text>
<text x="530.17" y="336.00" font-size="13.89" text-anchor="start" textLength="16.20" lengthAdjust="spacingAndGlyphs">40</text>
<text x="530.63" y="297.00" font-size="13.89" text-anchor="start" textLength="16.20" lengthAdjust="spacingAndGlyphs">60</text>
<text x="530.63" y="257.00" font-size="13.89" text-anchor="start" textLength="16.20" lengthAdjust="spacingAndGlyphs">80</text>
<text x="529.96" y="217.00" font-size="13.89" text-anchor="start" textLength="25.00" lengthAdjust="spacingAndGlyphs">100</text>
<text x="529.97" y="177.00" font-size="13.89" text-anchor="start" textLength="25.00" lengthAdjust="spacingAndGlyphs">120</text>
<text x="529.95" y="138.00" font-size="13.89" text-anchor="start" textLength="25.00" lengthAdjust="spacingAndGlyphs">140</text>
<text x="529.96" y="98.00" font-size="13.89" text-anchor="start" textLength="25.00" lengthAdjust="spacingAndGlyphs">160</text>
</svg>
</body></html>
